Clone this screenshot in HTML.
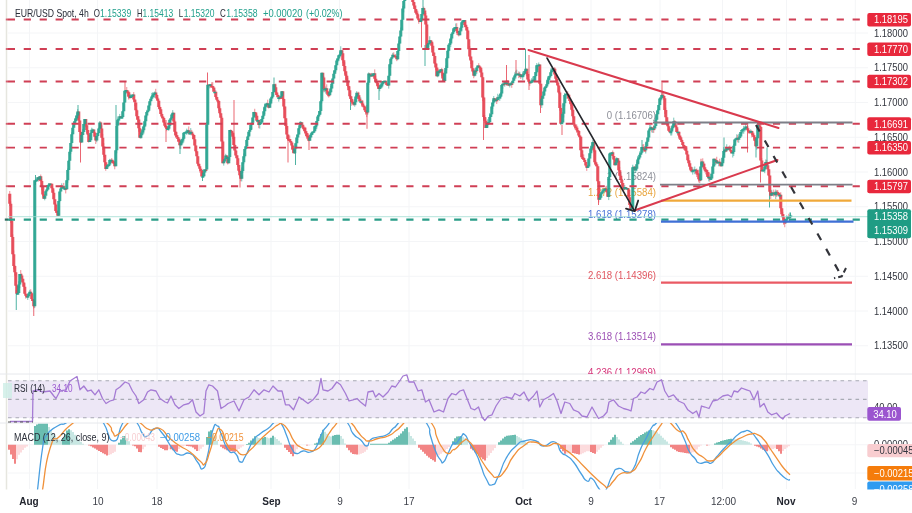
<!DOCTYPE html>
<html lang="en"><head><meta charset="utf-8"><title>EUR/USD Spot 4h</title>
<style>html,body{margin:0;padding:0;background:#fff;overflow:hidden}body{width:912px;height:513px}</style></head>
<body>
<svg width="912" height="513" viewBox="0 0 912 513" style="display:block;filter:blur(0.45px);font-family:'Liberation Sans',Arial,sans-serif">
<defs><clipPath id="cm"><rect x="8" y="423" width="860" height="67"/></clipPath><clipPath id="cp"><rect x="8" y="0" width="860" height="374"/></clipPath><clipPath id="cr"><rect x="8" y="374" width="860" height="49"/></clipPath></defs>
<rect width="912" height="513" fill="#ffffff"/>
<line x1="29.5" y1="0" x2="29.5" y2="489" stroke="#f4f5f7" stroke-width="1"/>
<line x1="97.5" y1="0" x2="97.5" y2="489" stroke="#f4f5f7" stroke-width="1"/>
<line x1="157" y1="0" x2="157" y2="489" stroke="#f4f5f7" stroke-width="1"/>
<line x1="271" y1="0" x2="271" y2="489" stroke="#f4f5f7" stroke-width="1"/>
<line x1="339.5" y1="0" x2="339.5" y2="489" stroke="#f4f5f7" stroke-width="1"/>
<line x1="409" y1="0" x2="409" y2="489" stroke="#f4f5f7" stroke-width="1"/>
<line x1="523" y1="0" x2="523" y2="489" stroke="#f4f5f7" stroke-width="1"/>
<line x1="591" y1="0" x2="591" y2="489" stroke="#f4f5f7" stroke-width="1"/>
<line x1="660" y1="0" x2="660" y2="489" stroke="#f4f5f7" stroke-width="1"/>
<line x1="722.5" y1="0" x2="722.5" y2="489" stroke="#f4f5f7" stroke-width="1"/>
<line x1="786.5" y1="0" x2="786.5" y2="489" stroke="#f4f5f7" stroke-width="1"/>
<line x1="855.3" y1="0" x2="855.3" y2="489" stroke="#f4f5f7" stroke-width="1"/>
<line x1="8" y1="33" x2="868" y2="33" stroke="#f4f5f7" stroke-width="1"/>
<line x1="8" y1="67.75" x2="868" y2="67.75" stroke="#f4f5f7" stroke-width="1"/>
<line x1="8" y1="102.5" x2="868" y2="102.5" stroke="#f4f5f7" stroke-width="1"/>
<line x1="8" y1="137.25" x2="868" y2="137.25" stroke="#f4f5f7" stroke-width="1"/>
<line x1="8" y1="172" x2="868" y2="172" stroke="#f4f5f7" stroke-width="1"/>
<line x1="8" y1="206.75" x2="868" y2="206.75" stroke="#f4f5f7" stroke-width="1"/>
<line x1="8" y1="241.5" x2="868" y2="241.5" stroke="#f4f5f7" stroke-width="1"/>
<line x1="8" y1="276.25" x2="868" y2="276.25" stroke="#f4f5f7" stroke-width="1"/>
<line x1="8" y1="311" x2="868" y2="311" stroke="#f4f5f7" stroke-width="1"/>
<line x1="8" y1="345.75" x2="868" y2="345.75" stroke="#f4f5f7" stroke-width="1"/>
<line x1="8" y1="473" x2="868" y2="473" stroke="#f4f5f7" stroke-width="1"/>
<line x1="8" y1="444.75" x2="868" y2="444.75" stroke="#f4f5f7" stroke-width="1"/>
<line x1="6.5" y1="0" x2="6.5" y2="513" stroke="#e6e6df" stroke-width="1.5"/>
<line x1="0" y1="374" x2="912" y2="374" stroke="#e6e8ec" stroke-width="1"/>
<line x1="0" y1="423" x2="912" y2="423" stroke="#e6e8ec" stroke-width="1"/>
<line x1="0" y1="512.5" x2="912" y2="512.5" stroke="#e0e0e0" stroke-width="1"/>
<rect x="8" y="380.5" width="860" height="37.5" fill="#ede7f6"/>
<line x1="8" y1="380.7" x2="868" y2="380.7" stroke="#a9abb5" stroke-width="1.1" stroke-dasharray="3.6 3.9"/>
<line x1="8" y1="399.4" x2="868" y2="399.4" stroke="#a9abb5" stroke-width="1.1" stroke-dasharray="3.6 3.9"/>
<line x1="8" y1="417.8" x2="868" y2="417.8" stroke="#a9abb5" stroke-width="1.1" stroke-dasharray="3.6 3.9"/>
<rect x="3" y="383" width="9" height="15" fill="#cdeee6" opacity="0.8"/>
<text x="606.8" y="118.8" fill="#8d8f98" font-size="10.3" textLength="49.2" lengthAdjust="spacingAndGlyphs">0 (1.16706)</text>
<text x="606.8" y="179.8" fill="#8d8f98" font-size="10.3" textLength="49.2" lengthAdjust="spacingAndGlyphs">1 (1.15824)</text>
<text x="588.0" y="196.3" fill="#e8a43c" font-size="10.3" textLength="68.0" lengthAdjust="spacingAndGlyphs">1.272 (1.15584)</text>
<text x="588.0" y="217.6" fill="#4a73d8" font-size="10.3" textLength="68.0" lengthAdjust="spacingAndGlyphs">1.618 (1.15278)</text>
<text x="588.0" y="278.6" fill="#e0555f" font-size="10.3" textLength="68.0" lengthAdjust="spacingAndGlyphs">2.618 (1.14396)</text>
<text x="588.0" y="340.3" fill="#9c4fb4" font-size="10.3" textLength="68.0" lengthAdjust="spacingAndGlyphs">3.618 (1.13514)</text>
<g clip-path="url(#cp)">
<text x="588.0" y="376" fill="#d6357a" font-size="10.3" textLength="68.0" lengthAdjust="spacingAndGlyphs">4.236 (1.12969)</text>
</g>
<g clip-path="url(#cp)">
<line x1="9.75" y1="190.97" x2="9.75" y2="206.03" stroke="#e5404f" stroke-width="1" opacity="0.6"/>
<line x1="10.75" y1="201.38" x2="10.75" y2="222.96" stroke="#e5404f" stroke-width="1" opacity="0.6"/>
<line x1="11.75" y1="218.96" x2="11.75" y2="237.02" stroke="#e5404f" stroke-width="1" opacity="0.6"/>
<line x1="12.75" y1="234.33" x2="12.75" y2="254.36" stroke="#e5404f" stroke-width="1" opacity="0.6"/>
<line x1="13.75" y1="250.44" x2="13.75" y2="269.41" stroke="#e5404f" stroke-width="1" opacity="0.6"/>
<line x1="14.75" y1="264.99" x2="14.75" y2="275.72" stroke="#e5404f" stroke-width="1" opacity="0.6"/>
<line x1="15.75" y1="272.37" x2="15.75" y2="285.85" stroke="#e5404f" stroke-width="1" opacity="0.6"/>
<line x1="16.75" y1="285.13" x2="16.75" y2="294.90" stroke="#e5404f" stroke-width="1" opacity="0.6"/>
<line x1="17.75" y1="291.48" x2="17.75" y2="294.68" stroke="#22a08c" stroke-width="1" opacity="0.6"/>
<line x1="18.75" y1="281.24" x2="18.75" y2="293.08" stroke="#22a08c" stroke-width="1" opacity="0.6"/>
<line x1="19.75" y1="274.02" x2="19.75" y2="288.08" stroke="#22a08c" stroke-width="1" opacity="0.6"/>
<line x1="20.75" y1="270.09" x2="20.75" y2="277.58" stroke="#e5404f" stroke-width="1" opacity="0.6"/>
<line x1="21.75" y1="273.36" x2="21.75" y2="281.51" stroke="#e5404f" stroke-width="1" opacity="0.6"/>
<line x1="22.75" y1="278.68" x2="22.75" y2="282.45" stroke="#e5404f" stroke-width="1" opacity="0.6"/>
<line x1="23.75" y1="282.45" x2="23.75" y2="286.83" stroke="#e5404f" stroke-width="1" opacity="0.6"/>
<line x1="24.75" y1="283.39" x2="24.75" y2="293.79" stroke="#e5404f" stroke-width="1" opacity="0.6"/>
<line x1="25.75" y1="293.79" x2="25.75" y2="298.61" stroke="#e5404f" stroke-width="1" opacity="0.6"/>
<line x1="26.75" y1="295.66" x2="26.75" y2="297.28" stroke="#e5404f" stroke-width="1" opacity="0.6"/>
<line x1="27.75" y1="293.38" x2="27.75" y2="299.94" stroke="#22a08c" stroke-width="1" opacity="0.6"/>
<line x1="28.75" y1="293.10" x2="28.75" y2="296.22" stroke="#22a08c" stroke-width="1" opacity="0.6"/>
<line x1="29.75" y1="289.80" x2="29.75" y2="293.80" stroke="#22a08c" stroke-width="1" opacity="0.6"/>
<line x1="30.75" y1="289.24" x2="30.75" y2="293.27" stroke="#e5404f" stroke-width="1" opacity="0.6"/>
<line x1="31.75" y1="293.24" x2="31.75" y2="300.85" stroke="#e5404f" stroke-width="1" opacity="0.6"/>
<line x1="32.75" y1="298.90" x2="32.75" y2="300.99" stroke="#e5404f" stroke-width="1" opacity="0.6"/>
<line x1="33.75" y1="299.68" x2="33.75" y2="308.44" stroke="#e5404f" stroke-width="1" opacity="0.6"/>
<line x1="34.75" y1="179.81" x2="34.75" y2="308.04" stroke="#22a08c" stroke-width="1" opacity="0.6"/>
<line x1="35.75" y1="180.24" x2="35.75" y2="181.84" stroke="#22a08c" stroke-width="1" opacity="0.6"/>
<line x1="36.75" y1="179.59" x2="36.75" y2="181.19" stroke="#22a08c" stroke-width="1" opacity="0.6"/>
<line x1="37.75" y1="177.30" x2="37.75" y2="179.59" stroke="#22a08c" stroke-width="1" opacity="0.6"/>
<line x1="38.75" y1="177.30" x2="38.75" y2="181.53" stroke="#e5404f" stroke-width="1" opacity="0.6"/>
<line x1="39.75" y1="176.23" x2="39.75" y2="180.37" stroke="#22a08c" stroke-width="1" opacity="0.6"/>
<line x1="40.75" y1="174.54" x2="40.75" y2="181.45" stroke="#e5404f" stroke-width="1" opacity="0.6"/>
<line x1="41.75" y1="179.18" x2="41.75" y2="190.30" stroke="#e5404f" stroke-width="1" opacity="0.6"/>
<line x1="42.75" y1="185.36" x2="42.75" y2="196.19" stroke="#e5404f" stroke-width="1" opacity="0.6"/>
<line x1="43.75" y1="194.41" x2="43.75" y2="198.64" stroke="#e5404f" stroke-width="1" opacity="0.6"/>
<line x1="44.75" y1="195.08" x2="44.75" y2="200.34" stroke="#22a08c" stroke-width="1" opacity="0.6"/>
<line x1="45.75" y1="191.15" x2="45.75" y2="196.46" stroke="#22a08c" stroke-width="1" opacity="0.6"/>
<line x1="46.75" y1="188.61" x2="46.75" y2="191.82" stroke="#22a08c" stroke-width="1" opacity="0.6"/>
<line x1="47.75" y1="184.92" x2="47.75" y2="189.62" stroke="#22a08c" stroke-width="1" opacity="0.6"/>
<line x1="48.75" y1="183.03" x2="48.75" y2="189.62" stroke="#22a08c" stroke-width="1" opacity="0.6"/>
<line x1="49.75" y1="183.51" x2="49.75" y2="186.39" stroke="#22a08c" stroke-width="1" opacity="0.6"/>
<line x1="50.75" y1="183.51" x2="50.75" y2="185.11" stroke="#e5404f" stroke-width="1" opacity="0.6"/>
<line x1="51.75" y1="183.80" x2="51.75" y2="188.37" stroke="#e5404f" stroke-width="1" opacity="0.6"/>
<line x1="52.75" y1="186.63" x2="52.75" y2="193.25" stroke="#e5404f" stroke-width="1" opacity="0.6"/>
<line x1="53.75" y1="189.73" x2="53.75" y2="199.21" stroke="#e5404f" stroke-width="1" opacity="0.6"/>
<line x1="54.75" y1="199.21" x2="54.75" y2="204.48" stroke="#e5404f" stroke-width="1" opacity="0.6"/>
<line x1="55.75" y1="203.21" x2="55.75" y2="212.16" stroke="#e5404f" stroke-width="1" opacity="0.6"/>
<line x1="56.75" y1="210.97" x2="56.75" y2="212.94" stroke="#e5404f" stroke-width="1" opacity="0.6"/>
<line x1="57.75" y1="210.15" x2="57.75" y2="215.73" stroke="#e5404f" stroke-width="1" opacity="0.6"/>
<line x1="58.75" y1="201.01" x2="58.75" y2="215.73" stroke="#22a08c" stroke-width="1" opacity="0.6"/>
<line x1="59.75" y1="191.52" x2="59.75" y2="202.13" stroke="#22a08c" stroke-width="1" opacity="0.6"/>
<line x1="60.75" y1="185.24" x2="60.75" y2="191.52" stroke="#22a08c" stroke-width="1" opacity="0.6"/>
<line x1="61.75" y1="183.31" x2="61.75" y2="188.73" stroke="#22a08c" stroke-width="1" opacity="0.6"/>
<line x1="62.75" y1="185.28" x2="62.75" y2="187.91" stroke="#22a08c" stroke-width="1" opacity="0.6"/>
<line x1="63.75" y1="182.92" x2="63.75" y2="188.60" stroke="#e5404f" stroke-width="1" opacity="0.6"/>
<line x1="64.75" y1="185.65" x2="64.75" y2="190.22" stroke="#22a08c" stroke-width="1" opacity="0.6"/>
<line x1="65.75" y1="188.07" x2="65.75" y2="193.43" stroke="#e5404f" stroke-width="1" opacity="0.6"/>
<line x1="66.75" y1="180.23" x2="66.75" y2="189.20" stroke="#22a08c" stroke-width="1" opacity="0.6"/>
<line x1="67.75" y1="168.53" x2="67.75" y2="182.78" stroke="#22a08c" stroke-width="1" opacity="0.6"/>
<line x1="68.75" y1="159.89" x2="68.75" y2="170.05" stroke="#22a08c" stroke-width="1" opacity="0.6"/>
<line x1="69.75" y1="149.28" x2="69.75" y2="160.85" stroke="#22a08c" stroke-width="1" opacity="0.6"/>
<line x1="70.75" y1="142.96" x2="70.75" y2="154.18" stroke="#22a08c" stroke-width="1" opacity="0.6"/>
<line x1="71.75" y1="132.29" x2="71.75" y2="143.48" stroke="#22a08c" stroke-width="1" opacity="0.6"/>
<line x1="72.75" y1="125.62" x2="72.75" y2="134.33" stroke="#22a08c" stroke-width="1" opacity="0.6"/>
<line x1="73.75" y1="121.41" x2="73.75" y2="127.78" stroke="#22a08c" stroke-width="1" opacity="0.6"/>
<line x1="74.75" y1="118.90" x2="74.75" y2="125.20" stroke="#22a08c" stroke-width="1" opacity="0.6"/>
<line x1="75.75" y1="115.67" x2="75.75" y2="121.36" stroke="#22a08c" stroke-width="1" opacity="0.6"/>
<line x1="76.75" y1="112.82" x2="76.75" y2="120.43" stroke="#22a08c" stroke-width="1" opacity="0.6"/>
<line x1="77.75" y1="109.12" x2="77.75" y2="119.26" stroke="#22a08c" stroke-width="1" opacity="0.6"/>
<line x1="78.75" y1="111.49" x2="78.75" y2="120.47" stroke="#e5404f" stroke-width="1" opacity="0.6"/>
<line x1="79.75" y1="120.47" x2="79.75" y2="131.88" stroke="#e5404f" stroke-width="1" opacity="0.6"/>
<line x1="80.75" y1="130.96" x2="80.75" y2="143.16" stroke="#e5404f" stroke-width="1" opacity="0.6"/>
<line x1="81.75" y1="132.13" x2="81.75" y2="142.40" stroke="#22a08c" stroke-width="1" opacity="0.6"/>
<line x1="82.75" y1="129.05" x2="82.75" y2="134.97" stroke="#22a08c" stroke-width="1" opacity="0.6"/>
<line x1="83.75" y1="124.06" x2="83.75" y2="132.05" stroke="#22a08c" stroke-width="1" opacity="0.6"/>
<line x1="84.75" y1="119.06" x2="84.75" y2="126.27" stroke="#22a08c" stroke-width="1" opacity="0.6"/>
<line x1="85.75" y1="119.06" x2="85.75" y2="127.27" stroke="#e5404f" stroke-width="1" opacity="0.6"/>
<line x1="86.75" y1="124.08" x2="86.75" y2="132.92" stroke="#e5404f" stroke-width="1" opacity="0.6"/>
<line x1="87.75" y1="129.89" x2="87.75" y2="135.00" stroke="#e5404f" stroke-width="1" opacity="0.6"/>
<line x1="88.75" y1="134.44" x2="88.75" y2="142.62" stroke="#e5404f" stroke-width="1" opacity="0.6"/>
<line x1="89.75" y1="140.25" x2="89.75" y2="141.89" stroke="#22a08c" stroke-width="1" opacity="0.6"/>
<line x1="90.75" y1="132.44" x2="90.75" y2="140.25" stroke="#22a08c" stroke-width="1" opacity="0.6"/>
<line x1="91.75" y1="127.70" x2="91.75" y2="133.08" stroke="#22a08c" stroke-width="1" opacity="0.6"/>
<line x1="92.75" y1="128.59" x2="92.75" y2="131.21" stroke="#22a08c" stroke-width="1" opacity="0.6"/>
<line x1="93.75" y1="129.61" x2="93.75" y2="133.28" stroke="#e5404f" stroke-width="1" opacity="0.6"/>
<line x1="94.75" y1="131.82" x2="94.75" y2="136.86" stroke="#e5404f" stroke-width="1" opacity="0.6"/>
<line x1="95.75" y1="136.86" x2="95.75" y2="144.02" stroke="#e5404f" stroke-width="1" opacity="0.6"/>
<line x1="96.75" y1="135.97" x2="96.75" y2="142.21" stroke="#22a08c" stroke-width="1" opacity="0.6"/>
<line x1="97.75" y1="133.10" x2="97.75" y2="136.92" stroke="#22a08c" stroke-width="1" opacity="0.6"/>
<line x1="98.75" y1="127.50" x2="98.75" y2="133.77" stroke="#22a08c" stroke-width="1" opacity="0.6"/>
<line x1="99.75" y1="121.02" x2="99.75" y2="128.38" stroke="#22a08c" stroke-width="1" opacity="0.6"/>
<line x1="100.75" y1="121.46" x2="100.75" y2="129.18" stroke="#e5404f" stroke-width="1" opacity="0.6"/>
<line x1="101.75" y1="125.55" x2="101.75" y2="137.64" stroke="#e5404f" stroke-width="1" opacity="0.6"/>
<line x1="102.75" y1="133.87" x2="102.75" y2="149.96" stroke="#e5404f" stroke-width="1" opacity="0.6"/>
<line x1="103.75" y1="143.17" x2="103.75" y2="157.03" stroke="#e5404f" stroke-width="1" opacity="0.6"/>
<line x1="104.75" y1="154.76" x2="104.75" y2="165.76" stroke="#e5404f" stroke-width="1" opacity="0.6"/>
<line x1="105.75" y1="162.34" x2="105.75" y2="170.79" stroke="#e5404f" stroke-width="1" opacity="0.6"/>
<line x1="106.75" y1="165.77" x2="106.75" y2="169.08" stroke="#22a08c" stroke-width="1" opacity="0.6"/>
<line x1="107.75" y1="163.95" x2="107.75" y2="166.52" stroke="#22a08c" stroke-width="1" opacity="0.6"/>
<line x1="108.75" y1="164.46" x2="108.75" y2="167.41" stroke="#22a08c" stroke-width="1" opacity="0.6"/>
<line x1="109.75" y1="158.83" x2="109.75" y2="165.88" stroke="#22a08c" stroke-width="1" opacity="0.6"/>
<line x1="110.75" y1="159.79" x2="110.75" y2="162.74" stroke="#22a08c" stroke-width="1" opacity="0.6"/>
<line x1="111.75" y1="158.04" x2="111.75" y2="163.22" stroke="#e5404f" stroke-width="1" opacity="0.6"/>
<line x1="112.75" y1="159.85" x2="112.75" y2="163.17" stroke="#e5404f" stroke-width="1" opacity="0.6"/>
<line x1="113.75" y1="159.89" x2="113.75" y2="164.10" stroke="#e5404f" stroke-width="1" opacity="0.6"/>
<line x1="114.75" y1="160.98" x2="114.75" y2="169.30" stroke="#e5404f" stroke-width="1" opacity="0.6"/>
<line x1="115.75" y1="150.25" x2="115.75" y2="166.17" stroke="#22a08c" stroke-width="1" opacity="0.6"/>
<line x1="116.75" y1="121.59" x2="116.75" y2="153.29" stroke="#22a08c" stroke-width="1" opacity="0.6"/>
<line x1="117.75" y1="116.41" x2="117.75" y2="125.54" stroke="#22a08c" stroke-width="1" opacity="0.6"/>
<line x1="118.75" y1="118.87" x2="118.75" y2="120.47" stroke="#22a08c" stroke-width="1" opacity="0.6"/>
<line x1="119.75" y1="113.94" x2="119.75" y2="118.87" stroke="#22a08c" stroke-width="1" opacity="0.6"/>
<line x1="120.75" y1="116.20" x2="120.75" y2="117.80" stroke="#e5404f" stroke-width="1" opacity="0.6"/>
<line x1="121.75" y1="117.10" x2="121.75" y2="118.70" stroke="#22a08c" stroke-width="1" opacity="0.6"/>
<line x1="122.75" y1="110.31" x2="122.75" y2="117.96" stroke="#22a08c" stroke-width="1" opacity="0.6"/>
<line x1="123.75" y1="102.46" x2="123.75" y2="111.28" stroke="#22a08c" stroke-width="1" opacity="0.6"/>
<line x1="124.75" y1="90.70" x2="124.75" y2="102.97" stroke="#22a08c" stroke-width="1" opacity="0.6"/>
<line x1="125.75" y1="90.07" x2="125.75" y2="94.04" stroke="#22a08c" stroke-width="1" opacity="0.6"/>
<line x1="126.75" y1="86.99" x2="126.75" y2="92.43" stroke="#e5404f" stroke-width="1" opacity="0.6"/>
<line x1="127.75" y1="91.57" x2="127.75" y2="96.26" stroke="#e5404f" stroke-width="1" opacity="0.6"/>
<line x1="128.75" y1="90.32" x2="128.75" y2="99.61" stroke="#e5404f" stroke-width="1" opacity="0.6"/>
<line x1="129.75" y1="96.71" x2="129.75" y2="98.31" stroke="#e5404f" stroke-width="1" opacity="0.6"/>
<line x1="130.75" y1="93.97" x2="130.75" y2="97.96" stroke="#22a08c" stroke-width="1" opacity="0.6"/>
<line x1="131.75" y1="95.34" x2="131.75" y2="97.65" stroke="#22a08c" stroke-width="1" opacity="0.6"/>
<line x1="132.75" y1="94.38" x2="132.75" y2="95.98" stroke="#22a08c" stroke-width="1" opacity="0.6"/>
<line x1="133.75" y1="92.07" x2="133.75" y2="101.51" stroke="#e5404f" stroke-width="1" opacity="0.6"/>
<line x1="134.75" y1="99.38" x2="134.75" y2="106.30" stroke="#e5404f" stroke-width="1" opacity="0.6"/>
<line x1="135.75" y1="100.27" x2="135.75" y2="110.32" stroke="#e5404f" stroke-width="1" opacity="0.6"/>
<line x1="136.75" y1="108.88" x2="136.75" y2="119.99" stroke="#e5404f" stroke-width="1" opacity="0.6"/>
<line x1="137.75" y1="116.19" x2="137.75" y2="121.79" stroke="#e5404f" stroke-width="1" opacity="0.6"/>
<line x1="138.75" y1="116.09" x2="138.75" y2="131.73" stroke="#e5404f" stroke-width="1" opacity="0.6"/>
<line x1="139.75" y1="124.49" x2="139.75" y2="138.32" stroke="#e5404f" stroke-width="1" opacity="0.6"/>
<line x1="140.75" y1="133.14" x2="140.75" y2="138.72" stroke="#22a08c" stroke-width="1" opacity="0.6"/>
<line x1="141.75" y1="129.00" x2="141.75" y2="138.34" stroke="#22a08c" stroke-width="1" opacity="0.6"/>
<line x1="142.75" y1="126.48" x2="142.75" y2="132.44" stroke="#22a08c" stroke-width="1" opacity="0.6"/>
<line x1="143.75" y1="124.64" x2="143.75" y2="134.22" stroke="#22a08c" stroke-width="1" opacity="0.6"/>
<line x1="144.75" y1="119.32" x2="144.75" y2="127.11" stroke="#22a08c" stroke-width="1" opacity="0.6"/>
<line x1="145.75" y1="115.57" x2="145.75" y2="125.10" stroke="#22a08c" stroke-width="1" opacity="0.6"/>
<line x1="146.75" y1="109.81" x2="146.75" y2="117.37" stroke="#22a08c" stroke-width="1" opacity="0.6"/>
<line x1="147.75" y1="110.64" x2="147.75" y2="112.24" stroke="#22a08c" stroke-width="1" opacity="0.6"/>
<line x1="148.75" y1="105.47" x2="148.75" y2="110.64" stroke="#22a08c" stroke-width="1" opacity="0.6"/>
<line x1="149.75" y1="101.18" x2="149.75" y2="108.53" stroke="#22a08c" stroke-width="1" opacity="0.6"/>
<line x1="150.75" y1="98.70" x2="150.75" y2="101.18" stroke="#22a08c" stroke-width="1" opacity="0.6"/>
<line x1="151.75" y1="92.86" x2="151.75" y2="100.85" stroke="#22a08c" stroke-width="1" opacity="0.6"/>
<line x1="152.75" y1="92.23" x2="152.75" y2="96.91" stroke="#22a08c" stroke-width="1" opacity="0.6"/>
<line x1="153.75" y1="93.51" x2="153.75" y2="97.76" stroke="#22a08c" stroke-width="1" opacity="0.6"/>
<line x1="154.75" y1="91.43" x2="154.75" y2="97.77" stroke="#22a08c" stroke-width="1" opacity="0.6"/>
<line x1="155.75" y1="88.82" x2="155.75" y2="95.11" stroke="#e5404f" stroke-width="1" opacity="0.6"/>
<line x1="156.75" y1="93.94" x2="156.75" y2="100.14" stroke="#e5404f" stroke-width="1" opacity="0.6"/>
<line x1="157.75" y1="97.04" x2="157.75" y2="100.65" stroke="#e5404f" stroke-width="1" opacity="0.6"/>
<line x1="158.75" y1="100.65" x2="158.75" y2="108.97" stroke="#e5404f" stroke-width="1" opacity="0.6"/>
<line x1="159.75" y1="105.34" x2="159.75" y2="110.68" stroke="#e5404f" stroke-width="1" opacity="0.6"/>
<line x1="160.75" y1="106.95" x2="160.75" y2="113.93" stroke="#e5404f" stroke-width="1" opacity="0.6"/>
<line x1="161.75" y1="112.49" x2="161.75" y2="118.46" stroke="#e5404f" stroke-width="1" opacity="0.6"/>
<line x1="162.75" y1="116.56" x2="162.75" y2="118.16" stroke="#e5404f" stroke-width="1" opacity="0.6"/>
<line x1="163.75" y1="117.44" x2="163.75" y2="122.59" stroke="#e5404f" stroke-width="1" opacity="0.6"/>
<line x1="164.75" y1="120.04" x2="164.75" y2="127.54" stroke="#e5404f" stroke-width="1" opacity="0.6"/>
<line x1="165.75" y1="125.67" x2="165.75" y2="127.29" stroke="#e5404f" stroke-width="1" opacity="0.6"/>
<line x1="166.75" y1="126.40" x2="166.75" y2="131.21" stroke="#e5404f" stroke-width="1" opacity="0.6"/>
<line x1="167.75" y1="128.41" x2="167.75" y2="130.01" stroke="#22a08c" stroke-width="1" opacity="0.6"/>
<line x1="168.75" y1="125.70" x2="168.75" y2="130.84" stroke="#22a08c" stroke-width="1" opacity="0.6"/>
<line x1="169.75" y1="119.73" x2="169.75" y2="129.42" stroke="#22a08c" stroke-width="1" opacity="0.6"/>
<line x1="170.75" y1="117.19" x2="170.75" y2="122.46" stroke="#22a08c" stroke-width="1" opacity="0.6"/>
<line x1="171.75" y1="113.80" x2="171.75" y2="120.68" stroke="#22a08c" stroke-width="1" opacity="0.6"/>
<line x1="172.75" y1="110.14" x2="172.75" y2="116.10" stroke="#22a08c" stroke-width="1" opacity="0.6"/>
<line x1="173.75" y1="112.75" x2="173.75" y2="121.61" stroke="#e5404f" stroke-width="1" opacity="0.6"/>
<line x1="174.75" y1="120.29" x2="174.75" y2="135.59" stroke="#e5404f" stroke-width="1" opacity="0.6"/>
<line x1="175.75" y1="131.16" x2="175.75" y2="138.12" stroke="#e5404f" stroke-width="1" opacity="0.6"/>
<line x1="176.75" y1="132.43" x2="176.75" y2="136.94" stroke="#e5404f" stroke-width="1" opacity="0.6"/>
<line x1="177.75" y1="135.25" x2="177.75" y2="141.83" stroke="#e5404f" stroke-width="1" opacity="0.6"/>
<line x1="178.75" y1="138.94" x2="178.75" y2="141.54" stroke="#e5404f" stroke-width="1" opacity="0.6"/>
<line x1="179.75" y1="137.64" x2="179.75" y2="148.71" stroke="#e5404f" stroke-width="1" opacity="0.6"/>
<line x1="180.75" y1="139.47" x2="180.75" y2="149.17" stroke="#22a08c" stroke-width="1" opacity="0.6"/>
<line x1="181.75" y1="139.10" x2="181.75" y2="145.46" stroke="#22a08c" stroke-width="1" opacity="0.6"/>
<line x1="182.75" y1="136.94" x2="182.75" y2="144.32" stroke="#22a08c" stroke-width="1" opacity="0.6"/>
<line x1="183.75" y1="132.00" x2="183.75" y2="142.46" stroke="#22a08c" stroke-width="1" opacity="0.6"/>
<line x1="184.75" y1="132.18" x2="184.75" y2="133.78" stroke="#22a08c" stroke-width="1" opacity="0.6"/>
<line x1="185.75" y1="130.65" x2="185.75" y2="133.40" stroke="#22a08c" stroke-width="1" opacity="0.6"/>
<line x1="186.75" y1="128.64" x2="186.75" y2="134.88" stroke="#22a08c" stroke-width="1" opacity="0.6"/>
<line x1="187.75" y1="129.80" x2="187.75" y2="133.64" stroke="#22a08c" stroke-width="1" opacity="0.6"/>
<line x1="188.75" y1="126.44" x2="188.75" y2="134.64" stroke="#e5404f" stroke-width="1" opacity="0.6"/>
<line x1="189.75" y1="132.74" x2="189.75" y2="135.01" stroke="#22a08c" stroke-width="1" opacity="0.6"/>
<line x1="190.75" y1="128.10" x2="190.75" y2="135.20" stroke="#22a08c" stroke-width="1" opacity="0.6"/>
<line x1="191.75" y1="129.88" x2="191.75" y2="133.68" stroke="#e5404f" stroke-width="1" opacity="0.6"/>
<line x1="192.75" y1="133.06" x2="192.75" y2="139.00" stroke="#e5404f" stroke-width="1" opacity="0.6"/>
<line x1="193.75" y1="134.96" x2="193.75" y2="139.13" stroke="#e5404f" stroke-width="1" opacity="0.6"/>
<line x1="194.75" y1="135.27" x2="194.75" y2="145.42" stroke="#e5404f" stroke-width="1" opacity="0.6"/>
<line x1="195.75" y1="145.42" x2="195.75" y2="152.61" stroke="#e5404f" stroke-width="1" opacity="0.6"/>
<line x1="196.75" y1="151.14" x2="196.75" y2="156.21" stroke="#e5404f" stroke-width="1" opacity="0.6"/>
<line x1="197.75" y1="156.21" x2="197.75" y2="165.05" stroke="#e5404f" stroke-width="1" opacity="0.6"/>
<line x1="198.75" y1="163.73" x2="198.75" y2="166.16" stroke="#e5404f" stroke-width="1" opacity="0.6"/>
<line x1="199.75" y1="164.16" x2="199.75" y2="172.59" stroke="#e5404f" stroke-width="1" opacity="0.6"/>
<line x1="200.75" y1="168.84" x2="200.75" y2="171.11" stroke="#e5404f" stroke-width="1" opacity="0.6"/>
<line x1="201.75" y1="171.11" x2="201.75" y2="176.41" stroke="#e5404f" stroke-width="1" opacity="0.6"/>
<line x1="202.75" y1="174.40" x2="202.75" y2="177.77" stroke="#22a08c" stroke-width="1" opacity="0.6"/>
<line x1="203.75" y1="169.28" x2="203.75" y2="176.89" stroke="#22a08c" stroke-width="1" opacity="0.6"/>
<line x1="204.75" y1="169.39" x2="204.75" y2="176.34" stroke="#22a08c" stroke-width="1" opacity="0.6"/>
<line x1="205.75" y1="169.39" x2="205.75" y2="171.79" stroke="#e5404f" stroke-width="1" opacity="0.6"/>
<line x1="206.75" y1="121.81" x2="206.75" y2="170.91" stroke="#22a08c" stroke-width="1" opacity="0.6"/>
<line x1="207.75" y1="84.70" x2="207.75" y2="124.80" stroke="#22a08c" stroke-width="1" opacity="0.6"/>
<line x1="208.75" y1="84.70" x2="208.75" y2="86.30" stroke="#e5404f" stroke-width="1" opacity="0.6"/>
<line x1="209.75" y1="84.30" x2="209.75" y2="88.39" stroke="#22a08c" stroke-width="1" opacity="0.6"/>
<line x1="210.75" y1="84.30" x2="210.75" y2="87.27" stroke="#e5404f" stroke-width="1" opacity="0.6"/>
<line x1="211.75" y1="82.28" x2="211.75" y2="87.48" stroke="#e5404f" stroke-width="1" opacity="0.6"/>
<line x1="212.75" y1="82.11" x2="212.75" y2="88.99" stroke="#e5404f" stroke-width="1" opacity="0.6"/>
<line x1="213.75" y1="87.50" x2="213.75" y2="91.74" stroke="#e5404f" stroke-width="1" opacity="0.6"/>
<line x1="214.75" y1="88.33" x2="214.75" y2="93.29" stroke="#22a08c" stroke-width="1" opacity="0.6"/>
<line x1="215.75" y1="90.17" x2="215.75" y2="98.28" stroke="#e5404f" stroke-width="1" opacity="0.6"/>
<line x1="216.75" y1="97.12" x2="216.75" y2="99.83" stroke="#e5404f" stroke-width="1" opacity="0.6"/>
<line x1="217.75" y1="99.83" x2="217.75" y2="102.84" stroke="#e5404f" stroke-width="1" opacity="0.6"/>
<line x1="218.75" y1="100.97" x2="218.75" y2="110.73" stroke="#e5404f" stroke-width="1" opacity="0.6"/>
<line x1="219.75" y1="106.35" x2="219.75" y2="114.50" stroke="#e5404f" stroke-width="1" opacity="0.6"/>
<line x1="220.75" y1="113.29" x2="220.75" y2="117.69" stroke="#e5404f" stroke-width="1" opacity="0.6"/>
<line x1="221.75" y1="116.04" x2="221.75" y2="141.43" stroke="#e5404f" stroke-width="1" opacity="0.6"/>
<line x1="222.75" y1="140.22" x2="222.75" y2="163.15" stroke="#e5404f" stroke-width="1" opacity="0.6"/>
<line x1="223.75" y1="160.75" x2="223.75" y2="165.63" stroke="#22a08c" stroke-width="1" opacity="0.6"/>
<line x1="224.75" y1="158.00" x2="224.75" y2="161.60" stroke="#22a08c" stroke-width="1" opacity="0.6"/>
<line x1="225.75" y1="153.81" x2="225.75" y2="159.07" stroke="#22a08c" stroke-width="1" opacity="0.6"/>
<line x1="226.75" y1="155.39" x2="226.75" y2="159.28" stroke="#e5404f" stroke-width="1" opacity="0.6"/>
<line x1="227.75" y1="157.32" x2="227.75" y2="164.50" stroke="#e5404f" stroke-width="1" opacity="0.6"/>
<line x1="228.75" y1="156.55" x2="228.75" y2="163.31" stroke="#22a08c" stroke-width="1" opacity="0.6"/>
<line x1="229.75" y1="129.98" x2="229.75" y2="160.66" stroke="#22a08c" stroke-width="1" opacity="0.6"/>
<line x1="230.75" y1="129.42" x2="230.75" y2="131.58" stroke="#e5404f" stroke-width="1" opacity="0.6"/>
<line x1="231.75" y1="131.11" x2="231.75" y2="135.43" stroke="#e5404f" stroke-width="1" opacity="0.6"/>
<line x1="232.75" y1="131.75" x2="232.75" y2="139.05" stroke="#e5404f" stroke-width="1" opacity="0.6"/>
<line x1="233.75" y1="134.51" x2="233.75" y2="144.97" stroke="#e5404f" stroke-width="1" opacity="0.6"/>
<line x1="234.75" y1="144.03" x2="234.75" y2="150.43" stroke="#e5404f" stroke-width="1" opacity="0.6"/>
<line x1="235.75" y1="149.74" x2="235.75" y2="155.46" stroke="#e5404f" stroke-width="1" opacity="0.6"/>
<line x1="236.75" y1="155.46" x2="236.75" y2="158.35" stroke="#e5404f" stroke-width="1" opacity="0.6"/>
<line x1="237.75" y1="155.10" x2="237.75" y2="166.83" stroke="#e5404f" stroke-width="1" opacity="0.6"/>
<line x1="238.75" y1="164.92" x2="238.75" y2="172.01" stroke="#e5404f" stroke-width="1" opacity="0.6"/>
<line x1="239.75" y1="168.90" x2="239.75" y2="176.50" stroke="#e5404f" stroke-width="1" opacity="0.6"/>
<line x1="240.75" y1="175.14" x2="240.75" y2="181.28" stroke="#e5404f" stroke-width="1" opacity="0.6"/>
<line x1="241.75" y1="167.49" x2="241.75" y2="181.41" stroke="#22a08c" stroke-width="1" opacity="0.6"/>
<line x1="242.75" y1="162.18" x2="242.75" y2="172.90" stroke="#22a08c" stroke-width="1" opacity="0.6"/>
<line x1="243.75" y1="153.49" x2="243.75" y2="164.21" stroke="#22a08c" stroke-width="1" opacity="0.6"/>
<line x1="244.75" y1="148.95" x2="244.75" y2="157.62" stroke="#22a08c" stroke-width="1" opacity="0.6"/>
<line x1="245.75" y1="146.28" x2="245.75" y2="150.08" stroke="#22a08c" stroke-width="1" opacity="0.6"/>
<line x1="246.75" y1="138.95" x2="246.75" y2="147.10" stroke="#22a08c" stroke-width="1" opacity="0.6"/>
<line x1="247.75" y1="135.82" x2="247.75" y2="139.90" stroke="#22a08c" stroke-width="1" opacity="0.6"/>
<line x1="248.75" y1="131.83" x2="248.75" y2="136.46" stroke="#22a08c" stroke-width="1" opacity="0.6"/>
<line x1="249.75" y1="127.78" x2="249.75" y2="135.66" stroke="#22a08c" stroke-width="1" opacity="0.6"/>
<line x1="250.75" y1="125.08" x2="250.75" y2="130.04" stroke="#22a08c" stroke-width="1" opacity="0.6"/>
<line x1="251.75" y1="122.80" x2="251.75" y2="129.02" stroke="#22a08c" stroke-width="1" opacity="0.6"/>
<line x1="252.75" y1="117.51" x2="252.75" y2="122.80" stroke="#22a08c" stroke-width="1" opacity="0.6"/>
<line x1="253.75" y1="111.90" x2="253.75" y2="117.51" stroke="#22a08c" stroke-width="1" opacity="0.6"/>
<line x1="254.75" y1="108.75" x2="254.75" y2="117.14" stroke="#e5404f" stroke-width="1" opacity="0.6"/>
<line x1="255.75" y1="112.39" x2="255.75" y2="118.00" stroke="#e5404f" stroke-width="1" opacity="0.6"/>
<line x1="256.75" y1="114.32" x2="256.75" y2="122.28" stroke="#e5404f" stroke-width="1" opacity="0.6"/>
<line x1="257.75" y1="119.02" x2="257.75" y2="121.68" stroke="#22a08c" stroke-width="1" opacity="0.6"/>
<line x1="258.75" y1="120.08" x2="258.75" y2="128.24" stroke="#e5404f" stroke-width="1" opacity="0.6"/>
<line x1="259.75" y1="119.64" x2="259.75" y2="128.55" stroke="#22a08c" stroke-width="1" opacity="0.6"/>
<line x1="260.75" y1="122.28" x2="260.75" y2="123.88" stroke="#22a08c" stroke-width="1" opacity="0.6"/>
<line x1="261.75" y1="118.99" x2="261.75" y2="122.28" stroke="#22a08c" stroke-width="1" opacity="0.6"/>
<line x1="262.75" y1="115.76" x2="262.75" y2="122.96" stroke="#22a08c" stroke-width="1" opacity="0.6"/>
<line x1="263.75" y1="108.10" x2="263.75" y2="116.88" stroke="#22a08c" stroke-width="1" opacity="0.6"/>
<line x1="264.75" y1="103.36" x2="264.75" y2="114.02" stroke="#22a08c" stroke-width="1" opacity="0.6"/>
<line x1="265.75" y1="104.14" x2="265.75" y2="106.73" stroke="#22a08c" stroke-width="1" opacity="0.6"/>
<line x1="266.75" y1="102.67" x2="266.75" y2="107.55" stroke="#22a08c" stroke-width="1" opacity="0.6"/>
<line x1="267.75" y1="99.66" x2="267.75" y2="106.59" stroke="#e5404f" stroke-width="1" opacity="0.6"/>
<line x1="268.75" y1="104.78" x2="268.75" y2="108.53" stroke="#e5404f" stroke-width="1" opacity="0.6"/>
<line x1="269.75" y1="101.07" x2="269.75" y2="107.66" stroke="#22a08c" stroke-width="1" opacity="0.6"/>
<line x1="270.75" y1="98.56" x2="270.75" y2="104.58" stroke="#22a08c" stroke-width="1" opacity="0.6"/>
<line x1="271.75" y1="95.67" x2="271.75" y2="101.29" stroke="#22a08c" stroke-width="1" opacity="0.6"/>
<line x1="272.75" y1="91.96" x2="272.75" y2="98.12" stroke="#22a08c" stroke-width="1" opacity="0.6"/>
<line x1="273.75" y1="84.37" x2="273.75" y2="91.96" stroke="#22a08c" stroke-width="1" opacity="0.6"/>
<line x1="274.75" y1="84.37" x2="274.75" y2="91.05" stroke="#e5404f" stroke-width="1" opacity="0.6"/>
<line x1="275.75" y1="83.61" x2="275.75" y2="94.76" stroke="#e5404f" stroke-width="1" opacity="0.6"/>
<line x1="276.75" y1="91.70" x2="276.75" y2="94.97" stroke="#e5404f" stroke-width="1" opacity="0.6"/>
<line x1="277.75" y1="94.97" x2="277.75" y2="97.31" stroke="#e5404f" stroke-width="1" opacity="0.6"/>
<line x1="278.75" y1="94.68" x2="278.75" y2="101.65" stroke="#22a08c" stroke-width="1" opacity="0.6"/>
<line x1="279.75" y1="95.72" x2="279.75" y2="99.58" stroke="#e5404f" stroke-width="1" opacity="0.6"/>
<line x1="280.75" y1="96.25" x2="280.75" y2="97.85" stroke="#22a08c" stroke-width="1" opacity="0.6"/>
<line x1="281.75" y1="91.19" x2="281.75" y2="96.25" stroke="#22a08c" stroke-width="1" opacity="0.6"/>
<line x1="282.75" y1="91.19" x2="282.75" y2="100.23" stroke="#e5404f" stroke-width="1" opacity="0.6"/>
<line x1="283.75" y1="98.30" x2="283.75" y2="109.52" stroke="#e5404f" stroke-width="1" opacity="0.6"/>
<line x1="284.75" y1="106.39" x2="284.75" y2="118.20" stroke="#e5404f" stroke-width="1" opacity="0.6"/>
<line x1="285.75" y1="118.20" x2="285.75" y2="129.29" stroke="#e5404f" stroke-width="1" opacity="0.6"/>
<line x1="286.75" y1="123.29" x2="286.75" y2="134.46" stroke="#e5404f" stroke-width="1" opacity="0.6"/>
<line x1="287.75" y1="134.46" x2="287.75" y2="140.39" stroke="#e5404f" stroke-width="1" opacity="0.6"/>
<line x1="288.75" y1="138.98" x2="288.75" y2="140.58" stroke="#e5404f" stroke-width="1" opacity="0.6"/>
<line x1="289.75" y1="135.47" x2="289.75" y2="142.22" stroke="#e5404f" stroke-width="1" opacity="0.6"/>
<line x1="290.75" y1="140.89" x2="290.75" y2="142.49" stroke="#e5404f" stroke-width="1" opacity="0.6"/>
<line x1="291.75" y1="142.47" x2="291.75" y2="149.03" stroke="#e5404f" stroke-width="1" opacity="0.6"/>
<line x1="292.75" y1="145.59" x2="292.75" y2="152.75" stroke="#e5404f" stroke-width="1" opacity="0.6"/>
<line x1="293.75" y1="148.47" x2="293.75" y2="153.25" stroke="#e5404f" stroke-width="1" opacity="0.6"/>
<line x1="294.75" y1="148.45" x2="294.75" y2="153.85" stroke="#22a08c" stroke-width="1" opacity="0.6"/>
<line x1="295.75" y1="143.18" x2="295.75" y2="149.45" stroke="#22a08c" stroke-width="1" opacity="0.6"/>
<line x1="296.75" y1="134.60" x2="296.75" y2="143.18" stroke="#22a08c" stroke-width="1" opacity="0.6"/>
<line x1="297.75" y1="134.55" x2="297.75" y2="140.09" stroke="#22a08c" stroke-width="1" opacity="0.6"/>
<line x1="298.75" y1="128.26" x2="298.75" y2="134.55" stroke="#22a08c" stroke-width="1" opacity="0.6"/>
<line x1="299.75" y1="121.62" x2="299.75" y2="128.26" stroke="#22a08c" stroke-width="1" opacity="0.6"/>
<line x1="300.75" y1="121.09" x2="300.75" y2="125.78" stroke="#22a08c" stroke-width="1" opacity="0.6"/>
<line x1="301.75" y1="122.31" x2="301.75" y2="124.82" stroke="#e5404f" stroke-width="1" opacity="0.6"/>
<line x1="302.75" y1="124.82" x2="302.75" y2="128.45" stroke="#e5404f" stroke-width="1" opacity="0.6"/>
<line x1="303.75" y1="127.60" x2="303.75" y2="130.82" stroke="#e5404f" stroke-width="1" opacity="0.6"/>
<line x1="304.75" y1="126.44" x2="304.75" y2="134.23" stroke="#e5404f" stroke-width="1" opacity="0.6"/>
<line x1="305.75" y1="127.35" x2="305.75" y2="136.50" stroke="#e5404f" stroke-width="1" opacity="0.6"/>
<line x1="306.75" y1="131.08" x2="306.75" y2="139.13" stroke="#e5404f" stroke-width="1" opacity="0.6"/>
<line x1="307.75" y1="135.93" x2="307.75" y2="138.78" stroke="#e5404f" stroke-width="1" opacity="0.6"/>
<line x1="308.75" y1="133.58" x2="308.75" y2="141.31" stroke="#e5404f" stroke-width="1" opacity="0.6"/>
<line x1="309.75" y1="137.43" x2="309.75" y2="140.80" stroke="#22a08c" stroke-width="1" opacity="0.6"/>
<line x1="310.75" y1="132.50" x2="310.75" y2="137.43" stroke="#22a08c" stroke-width="1" opacity="0.6"/>
<line x1="311.75" y1="131.65" x2="311.75" y2="134.96" stroke="#22a08c" stroke-width="1" opacity="0.6"/>
<line x1="312.75" y1="131.64" x2="312.75" y2="134.62" stroke="#22a08c" stroke-width="1" opacity="0.6"/>
<line x1="313.75" y1="130.33" x2="313.75" y2="132.82" stroke="#22a08c" stroke-width="1" opacity="0.6"/>
<line x1="314.75" y1="126.15" x2="314.75" y2="131.22" stroke="#22a08c" stroke-width="1" opacity="0.6"/>
<line x1="315.75" y1="125.56" x2="315.75" y2="129.07" stroke="#22a08c" stroke-width="1" opacity="0.6"/>
<line x1="316.75" y1="121.03" x2="316.75" y2="129.17" stroke="#22a08c" stroke-width="1" opacity="0.6"/>
<line x1="317.75" y1="115.15" x2="317.75" y2="121.03" stroke="#22a08c" stroke-width="1" opacity="0.6"/>
<line x1="318.75" y1="111.06" x2="318.75" y2="118.69" stroke="#22a08c" stroke-width="1" opacity="0.6"/>
<line x1="319.75" y1="110.96" x2="319.75" y2="114.65" stroke="#22a08c" stroke-width="1" opacity="0.6"/>
<line x1="320.75" y1="99.72" x2="320.75" y2="114.41" stroke="#22a08c" stroke-width="1" opacity="0.6"/>
<line x1="321.75" y1="72.75" x2="321.75" y2="103.40" stroke="#22a08c" stroke-width="1" opacity="0.6"/>
<line x1="322.75" y1="72.75" x2="322.75" y2="79.60" stroke="#e5404f" stroke-width="1" opacity="0.6"/>
<line x1="323.75" y1="76.31" x2="323.75" y2="92.29" stroke="#e5404f" stroke-width="1" opacity="0.6"/>
<line x1="324.75" y1="87.88" x2="324.75" y2="92.17" stroke="#22a08c" stroke-width="1" opacity="0.6"/>
<line x1="325.75" y1="86.54" x2="325.75" y2="93.70" stroke="#22a08c" stroke-width="1" opacity="0.6"/>
<line x1="326.75" y1="84.32" x2="326.75" y2="93.20" stroke="#e5404f" stroke-width="1" opacity="0.6"/>
<line x1="327.75" y1="91.36" x2="327.75" y2="94.71" stroke="#e5404f" stroke-width="1" opacity="0.6"/>
<line x1="328.75" y1="91.97" x2="328.75" y2="97.53" stroke="#e5404f" stroke-width="1" opacity="0.6"/>
<line x1="329.75" y1="90.23" x2="329.75" y2="95.16" stroke="#22a08c" stroke-width="1" opacity="0.6"/>
<line x1="330.75" y1="85.89" x2="330.75" y2="93.13" stroke="#22a08c" stroke-width="1" opacity="0.6"/>
<line x1="331.75" y1="80.56" x2="331.75" y2="88.60" stroke="#22a08c" stroke-width="1" opacity="0.6"/>
<line x1="332.75" y1="78.40" x2="332.75" y2="83.65" stroke="#22a08c" stroke-width="1" opacity="0.6"/>
<line x1="333.75" y1="70.69" x2="333.75" y2="78.40" stroke="#22a08c" stroke-width="1" opacity="0.6"/>
<line x1="334.75" y1="70.32" x2="334.75" y2="73.72" stroke="#22a08c" stroke-width="1" opacity="0.6"/>
<line x1="335.75" y1="65.31" x2="335.75" y2="71.92" stroke="#22a08c" stroke-width="1" opacity="0.6"/>
<line x1="336.75" y1="58.49" x2="336.75" y2="65.31" stroke="#22a08c" stroke-width="1" opacity="0.6"/>
<line x1="337.75" y1="58.41" x2="337.75" y2="62.44" stroke="#22a08c" stroke-width="1" opacity="0.6"/>
<line x1="338.75" y1="55.13" x2="338.75" y2="61.28" stroke="#22a08c" stroke-width="1" opacity="0.6"/>
<line x1="339.75" y1="51.70" x2="339.75" y2="56.09" stroke="#22a08c" stroke-width="1" opacity="0.6"/>
<line x1="340.75" y1="46.28" x2="340.75" y2="56.89" stroke="#22a08c" stroke-width="1" opacity="0.6"/>
<line x1="341.75" y1="50.19" x2="341.75" y2="53.15" stroke="#e5404f" stroke-width="1" opacity="0.6"/>
<line x1="342.75" y1="50.64" x2="342.75" y2="63.29" stroke="#e5404f" stroke-width="1" opacity="0.6"/>
<line x1="343.75" y1="60.28" x2="343.75" y2="66.09" stroke="#e5404f" stroke-width="1" opacity="0.6"/>
<line x1="344.75" y1="62.27" x2="344.75" y2="74.22" stroke="#e5404f" stroke-width="1" opacity="0.6"/>
<line x1="345.75" y1="71.33" x2="345.75" y2="79.81" stroke="#e5404f" stroke-width="1" opacity="0.6"/>
<line x1="346.75" y1="74.40" x2="346.75" y2="81.28" stroke="#e5404f" stroke-width="1" opacity="0.6"/>
<line x1="347.75" y1="77.79" x2="347.75" y2="87.38" stroke="#e5404f" stroke-width="1" opacity="0.6"/>
<line x1="348.75" y1="85.96" x2="348.75" y2="90.26" stroke="#e5404f" stroke-width="1" opacity="0.6"/>
<line x1="349.75" y1="86.95" x2="349.75" y2="97.59" stroke="#e5404f" stroke-width="1" opacity="0.6"/>
<line x1="350.75" y1="96.35" x2="350.75" y2="98.95" stroke="#e5404f" stroke-width="1" opacity="0.6"/>
<line x1="351.75" y1="96.48" x2="351.75" y2="105.79" stroke="#e5404f" stroke-width="1" opacity="0.6"/>
<line x1="352.75" y1="101.91" x2="352.75" y2="103.51" stroke="#e5404f" stroke-width="1" opacity="0.6"/>
<line x1="353.75" y1="100.51" x2="353.75" y2="105.79" stroke="#e5404f" stroke-width="1" opacity="0.6"/>
<line x1="354.75" y1="98.85" x2="354.75" y2="106.67" stroke="#22a08c" stroke-width="1" opacity="0.6"/>
<line x1="355.75" y1="95.25" x2="355.75" y2="105.35" stroke="#22a08c" stroke-width="1" opacity="0.6"/>
<line x1="356.75" y1="91.11" x2="356.75" y2="98.40" stroke="#22a08c" stroke-width="1" opacity="0.6"/>
<line x1="357.75" y1="92.67" x2="357.75" y2="98.89" stroke="#e5404f" stroke-width="1" opacity="0.6"/>
<line x1="358.75" y1="91.74" x2="358.75" y2="98.78" stroke="#e5404f" stroke-width="1" opacity="0.6"/>
<line x1="359.75" y1="95.37" x2="359.75" y2="101.38" stroke="#e5404f" stroke-width="1" opacity="0.6"/>
<line x1="360.75" y1="97.32" x2="360.75" y2="102.75" stroke="#22a08c" stroke-width="1" opacity="0.6"/>
<line x1="361.75" y1="100.15" x2="361.75" y2="106.82" stroke="#e5404f" stroke-width="1" opacity="0.6"/>
<line x1="362.75" y1="99.94" x2="362.75" y2="105.55" stroke="#e5404f" stroke-width="1" opacity="0.6"/>
<line x1="363.75" y1="105.55" x2="363.75" y2="107.15" stroke="#e5404f" stroke-width="1" opacity="0.6"/>
<line x1="364.75" y1="106.50" x2="364.75" y2="110.31" stroke="#e5404f" stroke-width="1" opacity="0.6"/>
<line x1="365.75" y1="110.31" x2="365.75" y2="114.86" stroke="#e5404f" stroke-width="1" opacity="0.6"/>
<line x1="366.75" y1="111.94" x2="366.75" y2="117.13" stroke="#e5404f" stroke-width="1" opacity="0.6"/>
<line x1="367.75" y1="81.38" x2="367.75" y2="114.84" stroke="#22a08c" stroke-width="1" opacity="0.6"/>
<line x1="368.75" y1="72.40" x2="368.75" y2="84.94" stroke="#22a08c" stroke-width="1" opacity="0.6"/>
<line x1="369.75" y1="73.41" x2="369.75" y2="78.59" stroke="#e5404f" stroke-width="1" opacity="0.6"/>
<line x1="370.75" y1="74.88" x2="370.75" y2="76.48" stroke="#22a08c" stroke-width="1" opacity="0.6"/>
<line x1="371.75" y1="72.92" x2="371.75" y2="76.48" stroke="#e5404f" stroke-width="1" opacity="0.6"/>
<line x1="372.75" y1="73.47" x2="372.75" y2="76.23" stroke="#22a08c" stroke-width="1" opacity="0.6"/>
<line x1="373.75" y1="73.30" x2="373.75" y2="74.90" stroke="#22a08c" stroke-width="1" opacity="0.6"/>
<line x1="374.75" y1="69.37" x2="374.75" y2="81.00" stroke="#e5404f" stroke-width="1" opacity="0.6"/>
<line x1="375.75" y1="75.79" x2="375.75" y2="81.68" stroke="#e5404f" stroke-width="1" opacity="0.6"/>
<line x1="376.75" y1="81.68" x2="376.75" y2="85.44" stroke="#e5404f" stroke-width="1" opacity="0.6"/>
<line x1="377.75" y1="82.67" x2="377.75" y2="88.37" stroke="#e5404f" stroke-width="1" opacity="0.6"/>
<line x1="378.75" y1="86.34" x2="378.75" y2="88.97" stroke="#e5404f" stroke-width="1" opacity="0.6"/>
<line x1="379.75" y1="87.38" x2="379.75" y2="91.24" stroke="#22a08c" stroke-width="1" opacity="0.6"/>
<line x1="380.75" y1="80.89" x2="380.75" y2="87.38" stroke="#22a08c" stroke-width="1" opacity="0.6"/>
<line x1="381.75" y1="82.57" x2="381.75" y2="88.33" stroke="#22a08c" stroke-width="1" opacity="0.6"/>
<line x1="382.75" y1="81.11" x2="382.75" y2="87.21" stroke="#22a08c" stroke-width="1" opacity="0.6"/>
<line x1="383.75" y1="80.44" x2="383.75" y2="83.23" stroke="#e5404f" stroke-width="1" opacity="0.6"/>
<line x1="384.75" y1="80.63" x2="384.75" y2="82.23" stroke="#22a08c" stroke-width="1" opacity="0.6"/>
<line x1="385.75" y1="80.63" x2="385.75" y2="83.32" stroke="#e5404f" stroke-width="1" opacity="0.6"/>
<line x1="386.75" y1="83.32" x2="386.75" y2="84.92" stroke="#e5404f" stroke-width="1" opacity="0.6"/>
<line x1="387.75" y1="84.15" x2="387.75" y2="85.75" stroke="#e5404f" stroke-width="1" opacity="0.6"/>
<line x1="388.75" y1="75.72" x2="388.75" y2="88.63" stroke="#22a08c" stroke-width="1" opacity="0.6"/>
<line x1="389.75" y1="63.69" x2="389.75" y2="75.72" stroke="#22a08c" stroke-width="1" opacity="0.6"/>
<line x1="390.75" y1="58.72" x2="390.75" y2="67.69" stroke="#22a08c" stroke-width="1" opacity="0.6"/>
<line x1="391.75" y1="57.19" x2="391.75" y2="60.35" stroke="#22a08c" stroke-width="1" opacity="0.6"/>
<line x1="392.75" y1="52.80" x2="392.75" y2="57.19" stroke="#22a08c" stroke-width="1" opacity="0.6"/>
<line x1="393.75" y1="52.32" x2="393.75" y2="57.32" stroke="#e5404f" stroke-width="1" opacity="0.6"/>
<line x1="394.75" y1="55.58" x2="394.75" y2="57.18" stroke="#e5404f" stroke-width="1" opacity="0.6"/>
<line x1="395.75" y1="54.07" x2="395.75" y2="57.53" stroke="#e5404f" stroke-width="1" opacity="0.6"/>
<line x1="396.75" y1="56.04" x2="396.75" y2="61.17" stroke="#e5404f" stroke-width="1" opacity="0.6"/>
<line x1="397.75" y1="51.10" x2="397.75" y2="60.25" stroke="#22a08c" stroke-width="1" opacity="0.6"/>
<line x1="398.75" y1="40.61" x2="398.75" y2="54.99" stroke="#22a08c" stroke-width="1" opacity="0.6"/>
<line x1="399.75" y1="36.48" x2="399.75" y2="44.07" stroke="#22a08c" stroke-width="1" opacity="0.6"/>
<line x1="400.75" y1="27.47" x2="400.75" y2="37.16" stroke="#22a08c" stroke-width="1" opacity="0.6"/>
<line x1="401.75" y1="19.74" x2="401.75" y2="30.54" stroke="#22a08c" stroke-width="1" opacity="0.6"/>
<line x1="402.75" y1="5.88" x2="402.75" y2="19.74" stroke="#22a08c" stroke-width="1" opacity="0.6"/>
<line x1="403.75" y1="1.11" x2="403.75" y2="12.45" stroke="#22a08c" stroke-width="1" opacity="0.6"/>
<line x1="404.75" y1="-3.52" x2="404.75" y2="1.11" stroke="#22a08c" stroke-width="1" opacity="0.6"/>
<line x1="405.75" y1="-5.90" x2="405.75" y2="-2.71" stroke="#22a08c" stroke-width="1" opacity="0.6"/>
<line x1="406.75" y1="-7.25" x2="406.75" y2="-3.60" stroke="#22a08c" stroke-width="1" opacity="0.6"/>
<line x1="407.75" y1="-7.25" x2="407.75" y2="-2.78" stroke="#e5404f" stroke-width="1" opacity="0.6"/>
<line x1="408.75" y1="-8.53" x2="408.75" y2="-4.17" stroke="#22a08c" stroke-width="1" opacity="0.6"/>
<line x1="409.75" y1="-10.38" x2="409.75" y2="-6.93" stroke="#e5404f" stroke-width="1" opacity="0.6"/>
<line x1="410.75" y1="-7.38" x2="410.75" y2="-3.96" stroke="#e5404f" stroke-width="1" opacity="0.6"/>
<line x1="411.75" y1="-7.87" x2="411.75" y2="-2.36" stroke="#e5404f" stroke-width="1" opacity="0.6"/>
<line x1="412.75" y1="-5.68" x2="412.75" y2="2.12" stroke="#e5404f" stroke-width="1" opacity="0.6"/>
<line x1="413.75" y1="2.12" x2="413.75" y2="7.38" stroke="#e5404f" stroke-width="1" opacity="0.6"/>
<line x1="414.75" y1="2.48" x2="414.75" y2="9.12" stroke="#e5404f" stroke-width="1" opacity="0.6"/>
<line x1="415.75" y1="9.12" x2="415.75" y2="13.30" stroke="#e5404f" stroke-width="1" opacity="0.6"/>
<line x1="416.75" y1="10.24" x2="416.75" y2="14.39" stroke="#e5404f" stroke-width="1" opacity="0.6"/>
<line x1="417.75" y1="10.73" x2="417.75" y2="18.39" stroke="#e5404f" stroke-width="1" opacity="0.6"/>
<line x1="418.75" y1="18.39" x2="418.75" y2="23.80" stroke="#e5404f" stroke-width="1" opacity="0.6"/>
<line x1="419.75" y1="20.32" x2="419.75" y2="22.11" stroke="#e5404f" stroke-width="1" opacity="0.6"/>
<line x1="420.75" y1="18.01" x2="420.75" y2="22.11" stroke="#22a08c" stroke-width="1" opacity="0.6"/>
<line x1="421.75" y1="13.92" x2="421.75" y2="20.45" stroke="#22a08c" stroke-width="1" opacity="0.6"/>
<line x1="422.75" y1="8.04" x2="422.75" y2="13.92" stroke="#22a08c" stroke-width="1" opacity="0.6"/>
<line x1="423.75" y1="6.65" x2="423.75" y2="10.38" stroke="#e5404f" stroke-width="1" opacity="0.6"/>
<line x1="424.75" y1="9.57" x2="424.75" y2="15.55" stroke="#e5404f" stroke-width="1" opacity="0.6"/>
<line x1="425.75" y1="13.02" x2="425.75" y2="24.48" stroke="#e5404f" stroke-width="1" opacity="0.6"/>
<line x1="426.75" y1="22.31" x2="426.75" y2="48.89" stroke="#e5404f" stroke-width="1" opacity="0.6"/>
<line x1="427.75" y1="43.25" x2="427.75" y2="48.89" stroke="#22a08c" stroke-width="1" opacity="0.6"/>
<line x1="428.75" y1="43.01" x2="428.75" y2="46.92" stroke="#22a08c" stroke-width="1" opacity="0.6"/>
<line x1="429.75" y1="36.25" x2="429.75" y2="43.88" stroke="#22a08c" stroke-width="1" opacity="0.6"/>
<line x1="430.75" y1="40.24" x2="430.75" y2="44.43" stroke="#e5404f" stroke-width="1" opacity="0.6"/>
<line x1="431.75" y1="41.16" x2="431.75" y2="49.66" stroke="#e5404f" stroke-width="1" opacity="0.6"/>
<line x1="432.75" y1="43.21" x2="432.75" y2="55.80" stroke="#e5404f" stroke-width="1" opacity="0.6"/>
<line x1="433.75" y1="52.57" x2="433.75" y2="55.98" stroke="#e5404f" stroke-width="1" opacity="0.6"/>
<line x1="434.75" y1="55.98" x2="434.75" y2="64.05" stroke="#e5404f" stroke-width="1" opacity="0.6"/>
<line x1="435.75" y1="62.63" x2="435.75" y2="70.01" stroke="#e5404f" stroke-width="1" opacity="0.6"/>
<line x1="436.75" y1="63.74" x2="436.75" y2="76.33" stroke="#e5404f" stroke-width="1" opacity="0.6"/>
<line x1="437.75" y1="71.28" x2="437.75" y2="77.25" stroke="#22a08c" stroke-width="1" opacity="0.6"/>
<line x1="438.75" y1="68.80" x2="438.75" y2="72.88" stroke="#e5404f" stroke-width="1" opacity="0.6"/>
<line x1="439.75" y1="70.18" x2="439.75" y2="74.41" stroke="#22a08c" stroke-width="1" opacity="0.6"/>
<line x1="440.75" y1="69.21" x2="440.75" y2="70.81" stroke="#22a08c" stroke-width="1" opacity="0.6"/>
<line x1="441.75" y1="67.82" x2="441.75" y2="76.35" stroke="#e5404f" stroke-width="1" opacity="0.6"/>
<line x1="442.75" y1="72.69" x2="442.75" y2="81.65" stroke="#e5404f" stroke-width="1" opacity="0.6"/>
<line x1="443.75" y1="78.39" x2="443.75" y2="80.94" stroke="#e5404f" stroke-width="1" opacity="0.6"/>
<line x1="444.75" y1="70.45" x2="444.75" y2="80.94" stroke="#22a08c" stroke-width="1" opacity="0.6"/>
<line x1="445.75" y1="65.50" x2="445.75" y2="73.59" stroke="#22a08c" stroke-width="1" opacity="0.6"/>
<line x1="446.75" y1="56.87" x2="446.75" y2="70.26" stroke="#22a08c" stroke-width="1" opacity="0.6"/>
<line x1="447.75" y1="49.74" x2="447.75" y2="58.27" stroke="#22a08c" stroke-width="1" opacity="0.6"/>
<line x1="448.75" y1="44.75" x2="448.75" y2="51.37" stroke="#22a08c" stroke-width="1" opacity="0.6"/>
<line x1="449.75" y1="39.60" x2="449.75" y2="44.97" stroke="#22a08c" stroke-width="1" opacity="0.6"/>
<line x1="450.75" y1="36.50" x2="450.75" y2="47.12" stroke="#22a08c" stroke-width="1" opacity="0.6"/>
<line x1="451.75" y1="33.73" x2="451.75" y2="40.26" stroke="#22a08c" stroke-width="1" opacity="0.6"/>
<line x1="452.75" y1="29.63" x2="452.75" y2="35.21" stroke="#22a08c" stroke-width="1" opacity="0.6"/>
<line x1="453.75" y1="28.24" x2="453.75" y2="32.33" stroke="#22a08c" stroke-width="1" opacity="0.6"/>
<line x1="454.75" y1="27.22" x2="454.75" y2="30.76" stroke="#22a08c" stroke-width="1" opacity="0.6"/>
<line x1="455.75" y1="23.45" x2="455.75" y2="29.57" stroke="#22a08c" stroke-width="1" opacity="0.6"/>
<line x1="456.75" y1="23.22" x2="456.75" y2="34.83" stroke="#e5404f" stroke-width="1" opacity="0.6"/>
<line x1="457.75" y1="30.91" x2="457.75" y2="33.09" stroke="#e5404f" stroke-width="1" opacity="0.6"/>
<line x1="458.75" y1="31.59" x2="458.75" y2="36.42" stroke="#e5404f" stroke-width="1" opacity="0.6"/>
<line x1="459.75" y1="30.76" x2="459.75" y2="35.21" stroke="#22a08c" stroke-width="1" opacity="0.6"/>
<line x1="460.75" y1="26.27" x2="460.75" y2="30.76" stroke="#22a08c" stroke-width="1" opacity="0.6"/>
<line x1="461.75" y1="22.21" x2="461.75" y2="31.71" stroke="#22a08c" stroke-width="1" opacity="0.6"/>
<line x1="462.75" y1="20.46" x2="462.75" y2="23.20" stroke="#22a08c" stroke-width="1" opacity="0.6"/>
<line x1="463.75" y1="20.03" x2="463.75" y2="22.78" stroke="#22a08c" stroke-width="1" opacity="0.6"/>
<line x1="464.75" y1="20.03" x2="464.75" y2="27.37" stroke="#e5404f" stroke-width="1" opacity="0.6"/>
<line x1="465.75" y1="21.68" x2="465.75" y2="27.09" stroke="#e5404f" stroke-width="1" opacity="0.6"/>
<line x1="466.75" y1="26.28" x2="466.75" y2="30.59" stroke="#e5404f" stroke-width="1" opacity="0.6"/>
<line x1="467.75" y1="29.37" x2="467.75" y2="39.30" stroke="#e5404f" stroke-width="1" opacity="0.6"/>
<line x1="468.75" y1="39.30" x2="468.75" y2="49.16" stroke="#e5404f" stroke-width="1" opacity="0.6"/>
<line x1="469.75" y1="46.09" x2="469.75" y2="59.45" stroke="#e5404f" stroke-width="1" opacity="0.6"/>
<line x1="470.75" y1="56.43" x2="470.75" y2="64.01" stroke="#e5404f" stroke-width="1" opacity="0.6"/>
<line x1="471.75" y1="60.01" x2="471.75" y2="68.15" stroke="#e5404f" stroke-width="1" opacity="0.6"/>
<line x1="472.75" y1="68.15" x2="472.75" y2="72.57" stroke="#e5404f" stroke-width="1" opacity="0.6"/>
<line x1="473.75" y1="70.34" x2="473.75" y2="78.24" stroke="#e5404f" stroke-width="1" opacity="0.6"/>
<line x1="474.75" y1="68.48" x2="474.75" y2="76.58" stroke="#22a08c" stroke-width="1" opacity="0.6"/>
<line x1="475.75" y1="70.54" x2="475.75" y2="72.14" stroke="#e5404f" stroke-width="1" opacity="0.6"/>
<line x1="476.75" y1="67.39" x2="476.75" y2="74.08" stroke="#22a08c" stroke-width="1" opacity="0.6"/>
<line x1="477.75" y1="65.55" x2="477.75" y2="67.39" stroke="#22a08c" stroke-width="1" opacity="0.6"/>
<line x1="478.75" y1="63.19" x2="478.75" y2="67.72" stroke="#e5404f" stroke-width="1" opacity="0.6"/>
<line x1="479.75" y1="65.47" x2="479.75" y2="69.58" stroke="#e5404f" stroke-width="1" opacity="0.6"/>
<line x1="480.75" y1="66.97" x2="480.75" y2="72.39" stroke="#e5404f" stroke-width="1" opacity="0.6"/>
<line x1="481.75" y1="69.79" x2="481.75" y2="77.15" stroke="#e5404f" stroke-width="1" opacity="0.6"/>
<line x1="482.75" y1="77.15" x2="482.75" y2="101.13" stroke="#e5404f" stroke-width="1" opacity="0.6"/>
<line x1="483.75" y1="96.65" x2="483.75" y2="119.33" stroke="#e5404f" stroke-width="1" opacity="0.6"/>
<line x1="484.75" y1="115.16" x2="484.75" y2="123.28" stroke="#e5404f" stroke-width="1" opacity="0.6"/>
<line x1="485.75" y1="118.20" x2="485.75" y2="128.00" stroke="#e5404f" stroke-width="1" opacity="0.6"/>
<line x1="486.75" y1="124.69" x2="486.75" y2="128.00" stroke="#22a08c" stroke-width="1" opacity="0.6"/>
<line x1="487.75" y1="119.26" x2="487.75" y2="126.58" stroke="#22a08c" stroke-width="1" opacity="0.6"/>
<line x1="488.75" y1="121.89" x2="488.75" y2="124.83" stroke="#22a08c" stroke-width="1" opacity="0.6"/>
<line x1="489.75" y1="112.97" x2="489.75" y2="121.89" stroke="#22a08c" stroke-width="1" opacity="0.6"/>
<line x1="490.75" y1="114.32" x2="490.75" y2="116.91" stroke="#22a08c" stroke-width="1" opacity="0.6"/>
<line x1="491.75" y1="102.71" x2="491.75" y2="114.32" stroke="#22a08c" stroke-width="1" opacity="0.6"/>
<line x1="492.75" y1="99.88" x2="492.75" y2="108.92" stroke="#22a08c" stroke-width="1" opacity="0.6"/>
<line x1="493.75" y1="96.08" x2="493.75" y2="103.59" stroke="#22a08c" stroke-width="1" opacity="0.6"/>
<line x1="494.75" y1="98.35" x2="494.75" y2="101.19" stroke="#e5404f" stroke-width="1" opacity="0.6"/>
<line x1="495.75" y1="99.58" x2="495.75" y2="101.19" stroke="#22a08c" stroke-width="1" opacity="0.6"/>
<line x1="496.75" y1="96.83" x2="496.75" y2="104.05" stroke="#e5404f" stroke-width="1" opacity="0.6"/>
<line x1="497.75" y1="93.75" x2="497.75" y2="100.08" stroke="#22a08c" stroke-width="1" opacity="0.6"/>
<line x1="498.75" y1="94.98" x2="498.75" y2="98.60" stroke="#22a08c" stroke-width="1" opacity="0.6"/>
<line x1="499.75" y1="93.97" x2="499.75" y2="100.92" stroke="#22a08c" stroke-width="1" opacity="0.6"/>
<line x1="500.75" y1="92.15" x2="500.75" y2="99.10" stroke="#22a08c" stroke-width="1" opacity="0.6"/>
<line x1="501.75" y1="84.16" x2="501.75" y2="95.51" stroke="#22a08c" stroke-width="1" opacity="0.6"/>
<line x1="502.75" y1="82.96" x2="502.75" y2="88.81" stroke="#22a08c" stroke-width="1" opacity="0.6"/>
<line x1="503.75" y1="83.77" x2="503.75" y2="85.37" stroke="#e5404f" stroke-width="1" opacity="0.6"/>
<line x1="504.75" y1="82.21" x2="504.75" y2="86.72" stroke="#22a08c" stroke-width="1" opacity="0.6"/>
<line x1="505.75" y1="80.62" x2="505.75" y2="85.08" stroke="#e5404f" stroke-width="1" opacity="0.6"/>
<line x1="506.75" y1="79.99" x2="506.75" y2="85.88" stroke="#22a08c" stroke-width="1" opacity="0.6"/>
<line x1="507.75" y1="80.10" x2="507.75" y2="85.64" stroke="#e5404f" stroke-width="1" opacity="0.6"/>
<line x1="508.75" y1="80.60" x2="508.75" y2="86.14" stroke="#e5404f" stroke-width="1" opacity="0.6"/>
<line x1="509.75" y1="83.12" x2="509.75" y2="87.48" stroke="#22a08c" stroke-width="1" opacity="0.6"/>
<line x1="510.75" y1="82.06" x2="510.75" y2="84.95" stroke="#22a08c" stroke-width="1" opacity="0.6"/>
<line x1="511.75" y1="81.67" x2="511.75" y2="87.81" stroke="#e5404f" stroke-width="1" opacity="0.6"/>
<line x1="512.75" y1="80.78" x2="512.75" y2="83.36" stroke="#22a08c" stroke-width="1" opacity="0.6"/>
<line x1="513.75" y1="77.56" x2="513.75" y2="80.78" stroke="#22a08c" stroke-width="1" opacity="0.6"/>
<line x1="514.75" y1="72.33" x2="514.75" y2="77.56" stroke="#22a08c" stroke-width="1" opacity="0.6"/>
<line x1="515.75" y1="70.59" x2="515.75" y2="78.92" stroke="#22a08c" stroke-width="1" opacity="0.6"/>
<line x1="516.75" y1="69.67" x2="516.75" y2="75.14" stroke="#22a08c" stroke-width="1" opacity="0.6"/>
<line x1="517.75" y1="73.53" x2="517.75" y2="75.13" stroke="#22a08c" stroke-width="1" opacity="0.6"/>
<line x1="518.75" y1="71.45" x2="518.75" y2="78.16" stroke="#e5404f" stroke-width="1" opacity="0.6"/>
<line x1="519.75" y1="71.81" x2="519.75" y2="77.48" stroke="#22a08c" stroke-width="1" opacity="0.6"/>
<line x1="520.75" y1="74.25" x2="520.75" y2="78.98" stroke="#e5404f" stroke-width="1" opacity="0.6"/>
<line x1="521.75" y1="74.63" x2="521.75" y2="77.24" stroke="#22a08c" stroke-width="1" opacity="0.6"/>
<line x1="522.75" y1="71.54" x2="522.75" y2="80.31" stroke="#22a08c" stroke-width="1" opacity="0.6"/>
<line x1="523.75" y1="73.47" x2="523.75" y2="77.25" stroke="#22a08c" stroke-width="1" opacity="0.6"/>
<line x1="524.75" y1="70.35" x2="524.75" y2="73.47" stroke="#22a08c" stroke-width="1" opacity="0.6"/>
<line x1="525.75" y1="68.74" x2="525.75" y2="71.01" stroke="#22a08c" stroke-width="1" opacity="0.6"/>
<line x1="526.75" y1="68.74" x2="526.75" y2="76.20" stroke="#e5404f" stroke-width="1" opacity="0.6"/>
<line x1="527.75" y1="72.14" x2="527.75" y2="79.42" stroke="#e5404f" stroke-width="1" opacity="0.6"/>
<line x1="528.75" y1="79.42" x2="528.75" y2="81.84" stroke="#e5404f" stroke-width="1" opacity="0.6"/>
<line x1="529.75" y1="80.03" x2="529.75" y2="85.90" stroke="#e5404f" stroke-width="1" opacity="0.6"/>
<line x1="530.75" y1="81.64" x2="530.75" y2="83.24" stroke="#22a08c" stroke-width="1" opacity="0.6"/>
<line x1="531.75" y1="78.14" x2="531.75" y2="82.43" stroke="#22a08c" stroke-width="1" opacity="0.6"/>
<line x1="532.75" y1="76.46" x2="532.75" y2="83.02" stroke="#22a08c" stroke-width="1" opacity="0.6"/>
<line x1="533.75" y1="79.81" x2="533.75" y2="82.30" stroke="#e5404f" stroke-width="1" opacity="0.6"/>
<line x1="534.75" y1="76.06" x2="534.75" y2="80.65" stroke="#22a08c" stroke-width="1" opacity="0.6"/>
<line x1="535.75" y1="72.12" x2="535.75" y2="77.11" stroke="#22a08c" stroke-width="1" opacity="0.6"/>
<line x1="536.75" y1="63.05" x2="536.75" y2="73.26" stroke="#22a08c" stroke-width="1" opacity="0.6"/>
<line x1="537.75" y1="65.00" x2="537.75" y2="70.58" stroke="#22a08c" stroke-width="1" opacity="0.6"/>
<line x1="538.75" y1="62.46" x2="538.75" y2="66.00" stroke="#22a08c" stroke-width="1" opacity="0.6"/>
<line x1="539.75" y1="64.40" x2="539.75" y2="85.24" stroke="#e5404f" stroke-width="1" opacity="0.6"/>
<line x1="540.75" y1="83.68" x2="540.75" y2="105.19" stroke="#e5404f" stroke-width="1" opacity="0.6"/>
<line x1="541.75" y1="96.26" x2="541.75" y2="107.95" stroke="#22a08c" stroke-width="1" opacity="0.6"/>
<line x1="542.75" y1="95.74" x2="542.75" y2="98.70" stroke="#22a08c" stroke-width="1" opacity="0.6"/>
<line x1="543.75" y1="90.42" x2="543.75" y2="95.74" stroke="#22a08c" stroke-width="1" opacity="0.6"/>
<line x1="544.75" y1="86.42" x2="544.75" y2="94.85" stroke="#22a08c" stroke-width="1" opacity="0.6"/>
<line x1="545.75" y1="86.48" x2="545.75" y2="88.62" stroke="#22a08c" stroke-width="1" opacity="0.6"/>
<line x1="546.75" y1="81.18" x2="546.75" y2="87.57" stroke="#22a08c" stroke-width="1" opacity="0.6"/>
<line x1="547.75" y1="76.12" x2="547.75" y2="84.19" stroke="#22a08c" stroke-width="1" opacity="0.6"/>
<line x1="548.75" y1="75.73" x2="548.75" y2="83.40" stroke="#22a08c" stroke-width="1" opacity="0.6"/>
<line x1="549.75" y1="75.92" x2="549.75" y2="80.25" stroke="#22a08c" stroke-width="1" opacity="0.6"/>
<line x1="550.75" y1="68.46" x2="550.75" y2="75.92" stroke="#22a08c" stroke-width="1" opacity="0.6"/>
<line x1="551.75" y1="70.33" x2="551.75" y2="72.22" stroke="#22a08c" stroke-width="1" opacity="0.6"/>
<line x1="552.75" y1="68.29" x2="552.75" y2="70.33" stroke="#22a08c" stroke-width="1" opacity="0.6"/>
<line x1="553.75" y1="68.29" x2="553.75" y2="71.76" stroke="#e5404f" stroke-width="1" opacity="0.6"/>
<line x1="554.75" y1="67.15" x2="554.75" y2="74.54" stroke="#e5404f" stroke-width="1" opacity="0.6"/>
<line x1="555.75" y1="74.54" x2="555.75" y2="79.80" stroke="#e5404f" stroke-width="1" opacity="0.6"/>
<line x1="556.75" y1="74.79" x2="556.75" y2="84.96" stroke="#e5404f" stroke-width="1" opacity="0.6"/>
<line x1="557.75" y1="80.64" x2="557.75" y2="86.34" stroke="#e5404f" stroke-width="1" opacity="0.6"/>
<line x1="558.75" y1="85.61" x2="558.75" y2="93.80" stroke="#e5404f" stroke-width="1" opacity="0.6"/>
<line x1="559.75" y1="91.11" x2="559.75" y2="110.71" stroke="#e5404f" stroke-width="1" opacity="0.6"/>
<line x1="560.75" y1="104.92" x2="560.75" y2="125.07" stroke="#e5404f" stroke-width="1" opacity="0.6"/>
<line x1="561.75" y1="120.55" x2="561.75" y2="124.21" stroke="#22a08c" stroke-width="1" opacity="0.6"/>
<line x1="562.75" y1="111.96" x2="562.75" y2="122.61" stroke="#22a08c" stroke-width="1" opacity="0.6"/>
<line x1="563.75" y1="103.36" x2="563.75" y2="117.53" stroke="#22a08c" stroke-width="1" opacity="0.6"/>
<line x1="564.75" y1="92.93" x2="564.75" y2="106.33" stroke="#22a08c" stroke-width="1" opacity="0.6"/>
<line x1="565.75" y1="93.69" x2="565.75" y2="95.29" stroke="#22a08c" stroke-width="1" opacity="0.6"/>
<line x1="566.75" y1="91.01" x2="566.75" y2="98.79" stroke="#22a08c" stroke-width="1" opacity="0.6"/>
<line x1="567.75" y1="91.24" x2="567.75" y2="98.44" stroke="#e5404f" stroke-width="1" opacity="0.6"/>
<line x1="568.75" y1="94.70" x2="568.75" y2="98.40" stroke="#e5404f" stroke-width="1" opacity="0.6"/>
<line x1="569.75" y1="97.60" x2="569.75" y2="104.36" stroke="#e5404f" stroke-width="1" opacity="0.6"/>
<line x1="570.75" y1="100.88" x2="570.75" y2="106.14" stroke="#e5404f" stroke-width="1" opacity="0.6"/>
<line x1="571.75" y1="102.13" x2="571.75" y2="111.34" stroke="#e5404f" stroke-width="1" opacity="0.6"/>
<line x1="572.75" y1="106.74" x2="572.75" y2="118.18" stroke="#e5404f" stroke-width="1" opacity="0.6"/>
<line x1="573.75" y1="116.27" x2="573.75" y2="124.51" stroke="#e5404f" stroke-width="1" opacity="0.6"/>
<line x1="574.75" y1="123.04" x2="574.75" y2="129.36" stroke="#e5404f" stroke-width="1" opacity="0.6"/>
<line x1="575.75" y1="124.54" x2="575.75" y2="128.08" stroke="#e5404f" stroke-width="1" opacity="0.6"/>
<line x1="576.75" y1="124.45" x2="576.75" y2="132.88" stroke="#e5404f" stroke-width="1" opacity="0.6"/>
<line x1="577.75" y1="126.49" x2="577.75" y2="131.78" stroke="#e5404f" stroke-width="1" opacity="0.6"/>
<line x1="578.75" y1="130.26" x2="578.75" y2="136.73" stroke="#e5404f" stroke-width="1" opacity="0.6"/>
<line x1="579.75" y1="134.90" x2="579.75" y2="139.87" stroke="#e5404f" stroke-width="1" opacity="0.6"/>
<line x1="580.75" y1="136.79" x2="580.75" y2="150.35" stroke="#e5404f" stroke-width="1" opacity="0.6"/>
<line x1="581.75" y1="148.32" x2="581.75" y2="157.28" stroke="#e5404f" stroke-width="1" opacity="0.6"/>
<line x1="582.75" y1="153.86" x2="582.75" y2="158.88" stroke="#e5404f" stroke-width="1" opacity="0.6"/>
<line x1="583.75" y1="154.47" x2="583.75" y2="159.95" stroke="#e5404f" stroke-width="1" opacity="0.6"/>
<line x1="584.75" y1="159.06" x2="584.75" y2="161.94" stroke="#e5404f" stroke-width="1" opacity="0.6"/>
<line x1="585.75" y1="161.94" x2="585.75" y2="165.39" stroke="#e5404f" stroke-width="1" opacity="0.6"/>
<line x1="586.75" y1="165.39" x2="586.75" y2="170.91" stroke="#e5404f" stroke-width="1" opacity="0.6"/>
<line x1="587.75" y1="165.60" x2="587.75" y2="168.01" stroke="#22a08c" stroke-width="1" opacity="0.6"/>
<line x1="588.75" y1="158.59" x2="588.75" y2="166.41" stroke="#22a08c" stroke-width="1" opacity="0.6"/>
<line x1="589.75" y1="153.36" x2="589.75" y2="158.59" stroke="#22a08c" stroke-width="1" opacity="0.6"/>
<line x1="590.75" y1="145.54" x2="590.75" y2="155.65" stroke="#22a08c" stroke-width="1" opacity="0.6"/>
<line x1="591.75" y1="143.18" x2="591.75" y2="151.44" stroke="#22a08c" stroke-width="1" opacity="0.6"/>
<line x1="592.75" y1="139.65" x2="592.75" y2="146.35" stroke="#22a08c" stroke-width="1" opacity="0.6"/>
<line x1="593.75" y1="140.69" x2="593.75" y2="151.89" stroke="#e5404f" stroke-width="1" opacity="0.6"/>
<line x1="594.75" y1="148.55" x2="594.75" y2="165.16" stroke="#e5404f" stroke-width="1" opacity="0.6"/>
<line x1="595.75" y1="160.84" x2="595.75" y2="166.28" stroke="#e5404f" stroke-width="1" opacity="0.6"/>
<line x1="596.75" y1="162.68" x2="596.75" y2="166.29" stroke="#e5404f" stroke-width="1" opacity="0.6"/>
<line x1="597.75" y1="166.29" x2="597.75" y2="184.56" stroke="#e5404f" stroke-width="1" opacity="0.6"/>
<line x1="598.75" y1="181.21" x2="598.75" y2="202.47" stroke="#e5404f" stroke-width="1" opacity="0.6"/>
<line x1="599.75" y1="194.50" x2="599.75" y2="199.64" stroke="#22a08c" stroke-width="1" opacity="0.6"/>
<line x1="600.75" y1="192.03" x2="600.75" y2="198.39" stroke="#22a08c" stroke-width="1" opacity="0.6"/>
<line x1="601.75" y1="189.29" x2="601.75" y2="194.74" stroke="#22a08c" stroke-width="1" opacity="0.6"/>
<line x1="602.75" y1="189.44" x2="602.75" y2="193.56" stroke="#22a08c" stroke-width="1" opacity="0.6"/>
<line x1="603.75" y1="189.21" x2="603.75" y2="191.21" stroke="#22a08c" stroke-width="1" opacity="0.6"/>
<line x1="604.75" y1="188.60" x2="604.75" y2="190.20" stroke="#22a08c" stroke-width="1" opacity="0.6"/>
<line x1="605.75" y1="186.38" x2="605.75" y2="191.36" stroke="#e5404f" stroke-width="1" opacity="0.6"/>
<line x1="606.75" y1="185.73" x2="606.75" y2="192.33" stroke="#e5404f" stroke-width="1" opacity="0.6"/>
<line x1="607.75" y1="192.33" x2="607.75" y2="196.88" stroke="#e5404f" stroke-width="1" opacity="0.6"/>
<line x1="608.75" y1="176.06" x2="608.75" y2="200.09" stroke="#22a08c" stroke-width="1" opacity="0.6"/>
<line x1="609.75" y1="152.32" x2="609.75" y2="177.04" stroke="#22a08c" stroke-width="1" opacity="0.6"/>
<line x1="610.75" y1="152.94" x2="610.75" y2="157.79" stroke="#22a08c" stroke-width="1" opacity="0.6"/>
<line x1="611.75" y1="152.33" x2="611.75" y2="155.07" stroke="#22a08c" stroke-width="1" opacity="0.6"/>
<line x1="612.75" y1="150.54" x2="612.75" y2="155.99" stroke="#e5404f" stroke-width="1" opacity="0.6"/>
<line x1="613.75" y1="155.99" x2="613.75" y2="160.08" stroke="#e5404f" stroke-width="1" opacity="0.6"/>
<line x1="614.75" y1="159.44" x2="614.75" y2="165.24" stroke="#e5404f" stroke-width="1" opacity="0.6"/>
<line x1="615.75" y1="162.41" x2="615.75" y2="165.24" stroke="#22a08c" stroke-width="1" opacity="0.6"/>
<line x1="616.75" y1="157.26" x2="616.75" y2="164.94" stroke="#22a08c" stroke-width="1" opacity="0.6"/>
<line x1="617.75" y1="158.31" x2="617.75" y2="162.81" stroke="#e5404f" stroke-width="1" opacity="0.6"/>
<line x1="618.75" y1="160.12" x2="618.75" y2="171.50" stroke="#e5404f" stroke-width="1" opacity="0.6"/>
<line x1="619.75" y1="166.88" x2="619.75" y2="175.80" stroke="#e5404f" stroke-width="1" opacity="0.6"/>
<line x1="620.75" y1="174.31" x2="620.75" y2="180.03" stroke="#e5404f" stroke-width="1" opacity="0.6"/>
<line x1="621.75" y1="178.35" x2="621.75" y2="185.88" stroke="#e5404f" stroke-width="1" opacity="0.6"/>
<line x1="622.75" y1="183.05" x2="622.75" y2="189.71" stroke="#e5404f" stroke-width="1" opacity="0.6"/>
<line x1="623.75" y1="188.17" x2="623.75" y2="190.96" stroke="#e5404f" stroke-width="1" opacity="0.6"/>
<line x1="624.75" y1="184.97" x2="624.75" y2="189.51" stroke="#22a08c" stroke-width="1" opacity="0.6"/>
<line x1="625.75" y1="187.08" x2="625.75" y2="188.90" stroke="#e5404f" stroke-width="1" opacity="0.6"/>
<line x1="626.75" y1="187.95" x2="626.75" y2="189.55" stroke="#22a08c" stroke-width="1" opacity="0.6"/>
<line x1="627.75" y1="187.95" x2="627.75" y2="189.60" stroke="#e5404f" stroke-width="1" opacity="0.6"/>
<line x1="628.75" y1="189.60" x2="628.75" y2="197.36" stroke="#e5404f" stroke-width="1" opacity="0.6"/>
<line x1="629.75" y1="197.36" x2="629.75" y2="206.63" stroke="#e5404f" stroke-width="1" opacity="0.6"/>
<line x1="630.75" y1="203.77" x2="630.75" y2="208.95" stroke="#e5404f" stroke-width="1" opacity="0.6"/>
<line x1="631.75" y1="204.87" x2="631.75" y2="211.82" stroke="#22a08c" stroke-width="1" opacity="0.6"/>
<line x1="632.75" y1="164.74" x2="632.75" y2="208.59" stroke="#22a08c" stroke-width="1" opacity="0.6"/>
<line x1="633.75" y1="166.83" x2="633.75" y2="169.32" stroke="#22a08c" stroke-width="1" opacity="0.6"/>
<line x1="634.75" y1="165.99" x2="634.75" y2="171.12" stroke="#e5404f" stroke-width="1" opacity="0.6"/>
<line x1="635.75" y1="168.85" x2="635.75" y2="172.95" stroke="#22a08c" stroke-width="1" opacity="0.6"/>
<line x1="636.75" y1="161.60" x2="636.75" y2="170.78" stroke="#22a08c" stroke-width="1" opacity="0.6"/>
<line x1="637.75" y1="155.89" x2="637.75" y2="164.16" stroke="#22a08c" stroke-width="1" opacity="0.6"/>
<line x1="638.75" y1="157.56" x2="638.75" y2="163.38" stroke="#22a08c" stroke-width="1" opacity="0.6"/>
<line x1="639.75" y1="151.32" x2="639.75" y2="158.66" stroke="#22a08c" stroke-width="1" opacity="0.6"/>
<line x1="640.75" y1="152.73" x2="640.75" y2="154.73" stroke="#22a08c" stroke-width="1" opacity="0.6"/>
<line x1="641.75" y1="146.91" x2="641.75" y2="154.06" stroke="#22a08c" stroke-width="1" opacity="0.6"/>
<line x1="642.75" y1="144.33" x2="642.75" y2="150.06" stroke="#e5404f" stroke-width="1" opacity="0.6"/>
<line x1="643.75" y1="144.18" x2="643.75" y2="150.00" stroke="#e5404f" stroke-width="1" opacity="0.6"/>
<line x1="644.75" y1="150.00" x2="644.75" y2="151.60" stroke="#e5404f" stroke-width="1" opacity="0.6"/>
<line x1="645.75" y1="143.23" x2="645.75" y2="153.51" stroke="#22a08c" stroke-width="1" opacity="0.6"/>
<line x1="646.75" y1="141.65" x2="646.75" y2="148.14" stroke="#22a08c" stroke-width="1" opacity="0.6"/>
<line x1="647.75" y1="137.45" x2="647.75" y2="141.65" stroke="#22a08c" stroke-width="1" opacity="0.6"/>
<line x1="648.75" y1="130.40" x2="648.75" y2="139.87" stroke="#22a08c" stroke-width="1" opacity="0.6"/>
<line x1="649.75" y1="124.85" x2="649.75" y2="130.40" stroke="#22a08c" stroke-width="1" opacity="0.6"/>
<line x1="650.75" y1="125.22" x2="650.75" y2="128.88" stroke="#22a08c" stroke-width="1" opacity="0.6"/>
<line x1="651.75" y1="126.71" x2="651.75" y2="132.43" stroke="#e5404f" stroke-width="1" opacity="0.6"/>
<line x1="652.75" y1="128.37" x2="652.75" y2="132.87" stroke="#22a08c" stroke-width="1" opacity="0.6"/>
<line x1="653.75" y1="124.80" x2="653.75" y2="132.88" stroke="#e5404f" stroke-width="1" opacity="0.6"/>
<line x1="654.75" y1="126.11" x2="654.75" y2="130.27" stroke="#22a08c" stroke-width="1" opacity="0.6"/>
<line x1="655.75" y1="116.19" x2="655.75" y2="126.11" stroke="#22a08c" stroke-width="1" opacity="0.6"/>
<line x1="656.75" y1="110.96" x2="656.75" y2="119.74" stroke="#22a08c" stroke-width="1" opacity="0.6"/>
<line x1="657.75" y1="109.23" x2="657.75" y2="114.33" stroke="#22a08c" stroke-width="1" opacity="0.6"/>
<line x1="658.75" y1="104.95" x2="658.75" y2="110.28" stroke="#22a08c" stroke-width="1" opacity="0.6"/>
<line x1="659.75" y1="97.22" x2="659.75" y2="104.95" stroke="#22a08c" stroke-width="1" opacity="0.6"/>
<line x1="660.75" y1="96.56" x2="660.75" y2="101.39" stroke="#22a08c" stroke-width="1" opacity="0.6"/>
<line x1="661.75" y1="93.21" x2="661.75" y2="100.18" stroke="#22a08c" stroke-width="1" opacity="0.6"/>
<line x1="662.75" y1="92.84" x2="662.75" y2="96.54" stroke="#e5404f" stroke-width="1" opacity="0.6"/>
<line x1="663.75" y1="93.12" x2="663.75" y2="99.82" stroke="#e5404f" stroke-width="1" opacity="0.6"/>
<line x1="664.75" y1="95.87" x2="664.75" y2="113.85" stroke="#e5404f" stroke-width="1" opacity="0.6"/>
<line x1="665.75" y1="107.54" x2="665.75" y2="117.23" stroke="#e5404f" stroke-width="1" opacity="0.6"/>
<line x1="666.75" y1="117.23" x2="666.75" y2="122.25" stroke="#e5404f" stroke-width="1" opacity="0.6"/>
<line x1="667.75" y1="120.76" x2="667.75" y2="126.36" stroke="#e5404f" stroke-width="1" opacity="0.6"/>
<line x1="668.75" y1="126.36" x2="668.75" y2="130.72" stroke="#e5404f" stroke-width="1" opacity="0.6"/>
<line x1="669.75" y1="130.72" x2="669.75" y2="132.32" stroke="#e5404f" stroke-width="1" opacity="0.6"/>
<line x1="670.75" y1="131.53" x2="670.75" y2="135.56" stroke="#22a08c" stroke-width="1" opacity="0.6"/>
<line x1="671.75" y1="126.48" x2="671.75" y2="135.49" stroke="#22a08c" stroke-width="1" opacity="0.6"/>
<line x1="672.75" y1="124.08" x2="672.75" y2="129.88" stroke="#22a08c" stroke-width="1" opacity="0.6"/>
<line x1="673.75" y1="117.64" x2="673.75" y2="127.49" stroke="#22a08c" stroke-width="1" opacity="0.6"/>
<line x1="674.75" y1="120.10" x2="674.75" y2="126.97" stroke="#e5404f" stroke-width="1" opacity="0.6"/>
<line x1="675.75" y1="125.41" x2="675.75" y2="127.14" stroke="#e5404f" stroke-width="1" opacity="0.6"/>
<line x1="676.75" y1="123.42" x2="676.75" y2="132.07" stroke="#e5404f" stroke-width="1" opacity="0.6"/>
<line x1="677.75" y1="129.17" x2="677.75" y2="133.30" stroke="#22a08c" stroke-width="1" opacity="0.6"/>
<line x1="678.75" y1="131.70" x2="678.75" y2="139.10" stroke="#e5404f" stroke-width="1" opacity="0.6"/>
<line x1="679.75" y1="131.91" x2="679.75" y2="138.77" stroke="#e5404f" stroke-width="1" opacity="0.6"/>
<line x1="680.75" y1="135.93" x2="680.75" y2="140.07" stroke="#e5404f" stroke-width="1" opacity="0.6"/>
<line x1="681.75" y1="138.87" x2="681.75" y2="141.95" stroke="#e5404f" stroke-width="1" opacity="0.6"/>
<line x1="682.75" y1="141.95" x2="682.75" y2="147.97" stroke="#e5404f" stroke-width="1" opacity="0.6"/>
<line x1="683.75" y1="144.90" x2="683.75" y2="149.84" stroke="#e5404f" stroke-width="1" opacity="0.6"/>
<line x1="684.75" y1="144.91" x2="684.75" y2="149.87" stroke="#e5404f" stroke-width="1" opacity="0.6"/>
<line x1="685.75" y1="146.20" x2="685.75" y2="150.85" stroke="#e5404f" stroke-width="1" opacity="0.6"/>
<line x1="686.75" y1="147.73" x2="686.75" y2="154.46" stroke="#e5404f" stroke-width="1" opacity="0.6"/>
<line x1="687.75" y1="154.46" x2="687.75" y2="161.07" stroke="#e5404f" stroke-width="1" opacity="0.6"/>
<line x1="688.75" y1="157.68" x2="688.75" y2="165.49" stroke="#e5404f" stroke-width="1" opacity="0.6"/>
<line x1="689.75" y1="161.14" x2="689.75" y2="170.52" stroke="#e5404f" stroke-width="1" opacity="0.6"/>
<line x1="690.75" y1="166.78" x2="690.75" y2="172.17" stroke="#e5404f" stroke-width="1" opacity="0.6"/>
<line x1="691.75" y1="168.69" x2="691.75" y2="172.12" stroke="#e5404f" stroke-width="1" opacity="0.6"/>
<line x1="692.75" y1="167.26" x2="692.75" y2="174.60" stroke="#22a08c" stroke-width="1" opacity="0.6"/>
<line x1="693.75" y1="169.77" x2="693.75" y2="171.37" stroke="#22a08c" stroke-width="1" opacity="0.6"/>
<line x1="694.75" y1="166.52" x2="694.75" y2="174.21" stroke="#22a08c" stroke-width="1" opacity="0.6"/>
<line x1="695.75" y1="169.62" x2="695.75" y2="174.42" stroke="#e5404f" stroke-width="1" opacity="0.6"/>
<line x1="696.75" y1="168.52" x2="696.75" y2="177.04" stroke="#e5404f" stroke-width="1" opacity="0.6"/>
<line x1="697.75" y1="171.08" x2="697.75" y2="174.85" stroke="#e5404f" stroke-width="1" opacity="0.6"/>
<line x1="698.75" y1="169.62" x2="698.75" y2="182.42" stroke="#e5404f" stroke-width="1" opacity="0.6"/>
<line x1="699.75" y1="178.30" x2="699.75" y2="183.12" stroke="#e5404f" stroke-width="1" opacity="0.6"/>
<line x1="700.75" y1="162.78" x2="700.75" y2="181.20" stroke="#22a08c" stroke-width="1" opacity="0.6"/>
<line x1="701.75" y1="161.53" x2="701.75" y2="166.57" stroke="#22a08c" stroke-width="1" opacity="0.6"/>
<line x1="702.75" y1="158.30" x2="702.75" y2="167.66" stroke="#e5404f" stroke-width="1" opacity="0.6"/>
<line x1="703.75" y1="163.72" x2="703.75" y2="170.49" stroke="#e5404f" stroke-width="1" opacity="0.6"/>
<line x1="704.75" y1="163.52" x2="704.75" y2="172.36" stroke="#e5404f" stroke-width="1" opacity="0.6"/>
<line x1="705.75" y1="169.29" x2="705.75" y2="174.42" stroke="#e5404f" stroke-width="1" opacity="0.6"/>
<line x1="706.75" y1="169.94" x2="706.75" y2="175.63" stroke="#e5404f" stroke-width="1" opacity="0.6"/>
<line x1="707.75" y1="171.92" x2="707.75" y2="178.48" stroke="#e5404f" stroke-width="1" opacity="0.6"/>
<line x1="708.75" y1="175.33" x2="708.75" y2="181.40" stroke="#22a08c" stroke-width="1" opacity="0.6"/>
<line x1="709.75" y1="172.66" x2="709.75" y2="181.62" stroke="#e5404f" stroke-width="1" opacity="0.6"/>
<line x1="710.75" y1="178.49" x2="710.75" y2="180.09" stroke="#22a08c" stroke-width="1" opacity="0.6"/>
<line x1="711.75" y1="173.71" x2="711.75" y2="178.49" stroke="#22a08c" stroke-width="1" opacity="0.6"/>
<line x1="712.75" y1="164.29" x2="712.75" y2="173.71" stroke="#22a08c" stroke-width="1" opacity="0.6"/>
<line x1="713.75" y1="158.78" x2="713.75" y2="166.49" stroke="#22a08c" stroke-width="1" opacity="0.6"/>
<line x1="714.75" y1="158.78" x2="714.75" y2="160.50" stroke="#e5404f" stroke-width="1" opacity="0.6"/>
<line x1="715.75" y1="160.29" x2="715.75" y2="165.12" stroke="#22a08c" stroke-width="1" opacity="0.6"/>
<line x1="716.75" y1="156.76" x2="716.75" y2="163.31" stroke="#e5404f" stroke-width="1" opacity="0.6"/>
<line x1="717.75" y1="161.06" x2="717.75" y2="163.55" stroke="#22a08c" stroke-width="1" opacity="0.6"/>
<line x1="718.75" y1="161.63" x2="718.75" y2="166.30" stroke="#22a08c" stroke-width="1" opacity="0.6"/>
<line x1="719.75" y1="158.74" x2="719.75" y2="164.92" stroke="#e5404f" stroke-width="1" opacity="0.6"/>
<line x1="720.75" y1="162.66" x2="720.75" y2="166.33" stroke="#e5404f" stroke-width="1" opacity="0.6"/>
<line x1="721.75" y1="162.00" x2="721.75" y2="166.33" stroke="#22a08c" stroke-width="1" opacity="0.6"/>
<line x1="722.75" y1="155.46" x2="722.75" y2="165.32" stroke="#22a08c" stroke-width="1" opacity="0.6"/>
<line x1="723.75" y1="147.11" x2="723.75" y2="161.30" stroke="#22a08c" stroke-width="1" opacity="0.6"/>
<line x1="724.75" y1="148.82" x2="724.75" y2="152.53" stroke="#22a08c" stroke-width="1" opacity="0.6"/>
<line x1="725.75" y1="146.72" x2="725.75" y2="152.29" stroke="#e5404f" stroke-width="1" opacity="0.6"/>
<line x1="726.75" y1="144.26" x2="726.75" y2="151.75" stroke="#22a08c" stroke-width="1" opacity="0.6"/>
<line x1="727.75" y1="147.97" x2="727.75" y2="149.57" stroke="#e5404f" stroke-width="1" opacity="0.6"/>
<line x1="728.75" y1="146.51" x2="728.75" y2="150.18" stroke="#22a08c" stroke-width="1" opacity="0.6"/>
<line x1="729.75" y1="145.48" x2="729.75" y2="150.32" stroke="#e5404f" stroke-width="1" opacity="0.6"/>
<line x1="730.75" y1="149.78" x2="730.75" y2="153.85" stroke="#e5404f" stroke-width="1" opacity="0.6"/>
<line x1="731.75" y1="151.43" x2="731.75" y2="153.03" stroke="#e5404f" stroke-width="1" opacity="0.6"/>
<line x1="732.75" y1="150.42" x2="732.75" y2="157.54" stroke="#22a08c" stroke-width="1" opacity="0.6"/>
<line x1="733.75" y1="143.91" x2="733.75" y2="156.03" stroke="#22a08c" stroke-width="1" opacity="0.6"/>
<line x1="734.75" y1="139.47" x2="734.75" y2="145.84" stroke="#22a08c" stroke-width="1" opacity="0.6"/>
<line x1="735.75" y1="138.62" x2="735.75" y2="141.56" stroke="#22a08c" stroke-width="1" opacity="0.6"/>
<line x1="736.75" y1="134.30" x2="736.75" y2="139.35" stroke="#22a08c" stroke-width="1" opacity="0.6"/>
<line x1="737.75" y1="134.82" x2="737.75" y2="142.40" stroke="#e5404f" stroke-width="1" opacity="0.6"/>
<line x1="738.75" y1="133.78" x2="738.75" y2="142.75" stroke="#22a08c" stroke-width="1" opacity="0.6"/>
<line x1="739.75" y1="133.87" x2="739.75" y2="138.04" stroke="#22a08c" stroke-width="1" opacity="0.6"/>
<line x1="740.75" y1="131.88" x2="740.75" y2="136.44" stroke="#22a08c" stroke-width="1" opacity="0.6"/>
<line x1="741.75" y1="130.06" x2="741.75" y2="134.22" stroke="#22a08c" stroke-width="1" opacity="0.6"/>
<line x1="742.75" y1="129.07" x2="742.75" y2="133.37" stroke="#22a08c" stroke-width="1" opacity="0.6"/>
<line x1="743.75" y1="125.81" x2="743.75" y2="133.74" stroke="#22a08c" stroke-width="1" opacity="0.6"/>
<line x1="744.75" y1="127.85" x2="744.75" y2="131.62" stroke="#22a08c" stroke-width="1" opacity="0.6"/>
<line x1="745.75" y1="122.84" x2="745.75" y2="130.52" stroke="#22a08c" stroke-width="1" opacity="0.6"/>
<line x1="746.75" y1="126.59" x2="746.75" y2="129.36" stroke="#e5404f" stroke-width="1" opacity="0.6"/>
<line x1="747.75" y1="125.51" x2="747.75" y2="130.19" stroke="#e5404f" stroke-width="1" opacity="0.6"/>
<line x1="748.75" y1="130.19" x2="748.75" y2="133.62" stroke="#e5404f" stroke-width="1" opacity="0.6"/>
<line x1="749.75" y1="131.32" x2="749.75" y2="133.96" stroke="#e5404f" stroke-width="1" opacity="0.6"/>
<line x1="750.75" y1="129.36" x2="750.75" y2="132.71" stroke="#22a08c" stroke-width="1" opacity="0.6"/>
<line x1="751.75" y1="130.30" x2="751.75" y2="137.40" stroke="#e5404f" stroke-width="1" opacity="0.6"/>
<line x1="752.75" y1="131.24" x2="752.75" y2="135.37" stroke="#e5404f" stroke-width="1" opacity="0.6"/>
<line x1="753.75" y1="132.49" x2="753.75" y2="139.29" stroke="#e5404f" stroke-width="1" opacity="0.6"/>
<line x1="754.75" y1="135.24" x2="754.75" y2="141.28" stroke="#e5404f" stroke-width="1" opacity="0.6"/>
<line x1="755.75" y1="140.72" x2="755.75" y2="147.38" stroke="#e5404f" stroke-width="1" opacity="0.6"/>
<line x1="756.75" y1="136.53" x2="756.75" y2="149.68" stroke="#22a08c" stroke-width="1" opacity="0.6"/>
<line x1="757.75" y1="124.68" x2="757.75" y2="138.16" stroke="#22a08c" stroke-width="1" opacity="0.6"/>
<line x1="758.75" y1="121.41" x2="758.75" y2="126.28" stroke="#e5404f" stroke-width="1" opacity="0.6"/>
<line x1="759.75" y1="123.63" x2="759.75" y2="130.27" stroke="#e5404f" stroke-width="1" opacity="0.6"/>
<line x1="760.75" y1="124.12" x2="760.75" y2="160.51" stroke="#e5404f" stroke-width="1" opacity="0.6"/>
<line x1="761.75" y1="157.99" x2="761.75" y2="171.29" stroke="#e5404f" stroke-width="1" opacity="0.6"/>
<line x1="762.75" y1="169.80" x2="762.75" y2="171.40" stroke="#22a08c" stroke-width="1" opacity="0.6"/>
<line x1="763.75" y1="169.54" x2="763.75" y2="171.89" stroke="#22a08c" stroke-width="1" opacity="0.6"/>
<line x1="764.75" y1="164.14" x2="764.75" y2="173.20" stroke="#22a08c" stroke-width="1" opacity="0.6"/>
<line x1="765.75" y1="159.46" x2="765.75" y2="168.59" stroke="#22a08c" stroke-width="1" opacity="0.6"/>
<line x1="766.75" y1="159.88" x2="766.75" y2="165.31" stroke="#e5404f" stroke-width="1" opacity="0.6"/>
<line x1="767.75" y1="163.02" x2="767.75" y2="169.33" stroke="#e5404f" stroke-width="1" opacity="0.6"/>
<line x1="768.75" y1="169.33" x2="768.75" y2="176.26" stroke="#e5404f" stroke-width="1" opacity="0.6"/>
<line x1="769.75" y1="175.61" x2="769.75" y2="191.65" stroke="#e5404f" stroke-width="1" opacity="0.6"/>
<line x1="770.75" y1="190.37" x2="770.75" y2="199.08" stroke="#e5404f" stroke-width="1" opacity="0.6"/>
<line x1="771.75" y1="189.85" x2="771.75" y2="195.72" stroke="#22a08c" stroke-width="1" opacity="0.6"/>
<line x1="772.75" y1="192.48" x2="772.75" y2="194.08" stroke="#22a08c" stroke-width="1" opacity="0.6"/>
<line x1="773.75" y1="189.56" x2="773.75" y2="196.63" stroke="#e5404f" stroke-width="1" opacity="0.6"/>
<line x1="774.75" y1="193.69" x2="774.75" y2="195.29" stroke="#e5404f" stroke-width="1" opacity="0.6"/>
<line x1="775.75" y1="189.49" x2="775.75" y2="199.17" stroke="#22a08c" stroke-width="1" opacity="0.6"/>
<line x1="776.75" y1="190.21" x2="776.75" y2="196.91" stroke="#e5404f" stroke-width="1" opacity="0.6"/>
<line x1="777.75" y1="189.97" x2="777.75" y2="195.10" stroke="#e5404f" stroke-width="1" opacity="0.6"/>
<line x1="778.75" y1="193.05" x2="778.75" y2="195.57" stroke="#e5404f" stroke-width="1" opacity="0.6"/>
<line x1="779.75" y1="194.09" x2="779.75" y2="198.18" stroke="#22a08c" stroke-width="1" opacity="0.6"/>
<line x1="780.75" y1="192.23" x2="780.75" y2="211.55" stroke="#e5404f" stroke-width="1" opacity="0.6"/>
<line x1="781.75" y1="208.25" x2="781.75" y2="214.15" stroke="#e5404f" stroke-width="1" opacity="0.6"/>
<line x1="782.75" y1="211.78" x2="782.75" y2="219.73" stroke="#e5404f" stroke-width="1" opacity="0.6"/>
<line x1="783.75" y1="213.96" x2="783.75" y2="224.85" stroke="#e5404f" stroke-width="1" opacity="0.6"/>
<line x1="784.75" y1="221.86" x2="784.75" y2="227.24" stroke="#e5404f" stroke-width="1" opacity="0.6"/>
<line x1="785.75" y1="218.97" x2="785.75" y2="223.94" stroke="#22a08c" stroke-width="1" opacity="0.6"/>
<line x1="786.75" y1="215.31" x2="786.75" y2="223.02" stroke="#22a08c" stroke-width="1" opacity="0.6"/>
<line x1="787.75" y1="216.61" x2="787.75" y2="218.83" stroke="#22a08c" stroke-width="1" opacity="0.6"/>
<line x1="788.75" y1="213.76" x2="788.75" y2="218.29" stroke="#e5404f" stroke-width="1" opacity="0.6"/>
<line x1="789.75" y1="212.47" x2="789.75" y2="222.00" stroke="#22a08c" stroke-width="1" opacity="0.6"/>
<line x1="790.75" y1="214.61" x2="790.75" y2="217.04" stroke="#22a08c" stroke-width="1" opacity="0.6"/>
<line x1="16.25" y1="290.00" x2="16.25" y2="310.00" stroke="#22a08c" stroke-width="1" opacity="0.8"/>
<line x1="33.75" y1="300.00" x2="33.75" y2="316.00" stroke="#e5404f" stroke-width="1" opacity="0.8"/>
<line x1="35.50" y1="175.00" x2="35.50" y2="185.00" stroke="#22a08c" stroke-width="1" opacity="0.8"/>
<line x1="80.50" y1="140.00" x2="80.50" y2="162.50" stroke="#e5404f" stroke-width="1" opacity="0.8"/>
<line x1="78.00" y1="105.00" x2="78.00" y2="112.00" stroke="#22a08c" stroke-width="1" opacity="0.8"/>
<line x1="116.00" y1="105.00" x2="116.00" y2="125.00" stroke="#22a08c" stroke-width="1" opacity="0.8"/>
<line x1="125.00" y1="81.00" x2="125.00" y2="90.00" stroke="#e5404f" stroke-width="1" opacity="0.8"/>
<line x1="166.00" y1="120.00" x2="166.00" y2="142.00" stroke="#e5404f" stroke-width="1" opacity="0.8"/>
<line x1="180.00" y1="140.00" x2="180.00" y2="154.00" stroke="#22a08c" stroke-width="1" opacity="0.8"/>
<line x1="207.50" y1="72.50" x2="207.50" y2="90.00" stroke="#e5404f" stroke-width="1" opacity="0.8"/>
<line x1="202.50" y1="170.00" x2="202.50" y2="181.00" stroke="#22a08c" stroke-width="1" opacity="0.8"/>
<line x1="234.00" y1="100.00" x2="234.00" y2="145.00" stroke="#e5404f" stroke-width="1" opacity="0.8"/>
<line x1="240.00" y1="175.00" x2="240.00" y2="187.50" stroke="#e5404f" stroke-width="1" opacity="0.8"/>
<line x1="274.00" y1="77.50" x2="274.00" y2="90.00" stroke="#22a08c" stroke-width="1" opacity="0.8"/>
<line x1="288.00" y1="135.00" x2="288.00" y2="162.50" stroke="#e5404f" stroke-width="1" opacity="0.8"/>
<line x1="295.50" y1="150.00" x2="295.50" y2="165.00" stroke="#22a08c" stroke-width="1" opacity="0.8"/>
<line x1="309.00" y1="135.00" x2="309.00" y2="150.00" stroke="#e5404f" stroke-width="1" opacity="0.8"/>
<line x1="350.50" y1="95.00" x2="350.50" y2="110.00" stroke="#22a08c" stroke-width="1" opacity="0.8"/>
<line x1="367.00" y1="105.00" x2="367.00" y2="128.75" stroke="#e5404f" stroke-width="1" opacity="0.8"/>
<line x1="379.00" y1="85.00" x2="379.00" y2="100.00" stroke="#22a08c" stroke-width="1" opacity="0.8"/>
<line x1="421.50" y1="20.00" x2="421.50" y2="47.50" stroke="#e5404f" stroke-width="1" opacity="0.8"/>
<line x1="425.00" y1="45.00" x2="425.00" y2="66.00" stroke="#22a08c" stroke-width="1" opacity="0.8"/>
<line x1="423.00" y1="0.00" x2="423.00" y2="10.00" stroke="#22a08c" stroke-width="1" opacity="0.8"/>
<line x1="483.50" y1="115.00" x2="483.50" y2="140.00" stroke="#e5404f" stroke-width="1" opacity="0.8"/>
<line x1="506.50" y1="65.00" x2="506.50" y2="85.00" stroke="#e5404f" stroke-width="1" opacity="0.8"/>
<line x1="516.00" y1="60.00" x2="516.00" y2="75.00" stroke="#e5404f" stroke-width="1" opacity="0.8"/>
<line x1="525.50" y1="48.75" x2="525.50" y2="70.00" stroke="#22a08c" stroke-width="1" opacity="0.8"/>
<line x1="529.00" y1="55.00" x2="529.00" y2="90.00" stroke="#e5404f" stroke-width="1" opacity="0.8"/>
<line x1="540.50" y1="100.00" x2="540.50" y2="113.00" stroke="#e5404f" stroke-width="1" opacity="0.8"/>
<line x1="562.00" y1="125.00" x2="562.00" y2="135.00" stroke="#e5404f" stroke-width="1" opacity="0.8"/>
<line x1="598.50" y1="195.00" x2="598.50" y2="205.00" stroke="#e5404f" stroke-width="1" opacity="0.8"/>
<line x1="642.00" y1="140.00" x2="642.00" y2="150.00" stroke="#22a08c" stroke-width="1" opacity="0.8"/>
<line x1="662.00" y1="82.50" x2="662.00" y2="96.00" stroke="#e5404f" stroke-width="1" opacity="0.8"/>
<line x1="724.00" y1="137.50" x2="724.00" y2="155.00" stroke="#22a08c" stroke-width="1" opacity="0.8"/>
<line x1="747.50" y1="125.00" x2="747.50" y2="152.50" stroke="#e5404f" stroke-width="1" opacity="0.8"/>
<line x1="756.00" y1="145.00" x2="756.00" y2="157.50" stroke="#22a08c" stroke-width="1" opacity="0.8"/>
<line x1="760.50" y1="170.00" x2="760.50" y2="182.50" stroke="#e5404f" stroke-width="1" opacity="0.8"/>
<line x1="767.00" y1="147.50" x2="767.00" y2="162.00" stroke="#22a08c" stroke-width="1" opacity="0.8"/>
<line x1="769.50" y1="190.00" x2="769.50" y2="207.50" stroke="#22a08c" stroke-width="1" opacity="0.8"/>
<line x1="790.50" y1="212.50" x2="790.50" y2="218.00" stroke="#22a08c" stroke-width="1" opacity="0.8"/>
<line x1="701.00" y1="158.75" x2="701.00" y2="165.00" stroke="#e5404f" stroke-width="1" opacity="0.8"/>
<path d="M8.20 193.75h3.1v9.90h-3.1zM9.20 203.65h3.1v17.29h-3.1zM10.20 220.95h3.1v16.08h-3.1zM11.20 237.02h3.1v17.34h-3.1zM12.20 254.36h3.1v11.54h-3.1zM13.20 265.90h3.1v6.47h-3.1zM14.20 272.37h3.1v13.48h-3.1zM15.20 285.85h3.1v7.83h-3.1zM19.20 274.02h3.1v1.60h-3.1zM20.20 275.58h3.1v3.10h-3.1zM21.20 278.68h3.1v3.78h-3.1zM22.20 282.45h3.1v4.38h-3.1zM23.20 286.83h3.1v6.96h-3.1zM24.20 293.79h3.1v1.87h-3.1zM25.20 295.66h3.1v1.62h-3.1zM29.20 291.67h3.1v1.60h-3.1zM30.20 293.24h3.1v5.66h-3.1zM31.20 298.90h3.1v2.09h-3.1zM32.20 300.99h3.1v5.25h-3.1zM37.20 177.30h3.1v2.33h-3.1zM39.20 176.23h3.1v4.72h-3.1zM40.20 180.95h3.1v5.79h-3.1zM41.20 186.74h3.1v7.67h-3.1zM42.20 194.41h3.1v4.23h-3.1zM49.20 183.51h3.1v1.60h-3.1zM50.20 183.80h3.1v4.57h-3.1zM51.20 188.37h3.1v4.28h-3.1zM52.20 192.65h3.1v6.55h-3.1zM53.20 199.21h3.1v5.27h-3.1zM54.20 204.48h3.1v6.49h-3.1zM55.20 210.97h3.1v1.96h-3.1zM56.20 212.94h3.1v2.79h-3.1zM62.20 186.31h3.1v2.29h-3.1zM64.20 188.07h3.1v1.60h-3.1zM77.20 111.49h3.1v8.98h-3.1zM78.20 120.47h3.1v11.42h-3.1zM79.20 131.88h3.1v10.52h-3.1zM84.20 119.06h3.1v6.20h-3.1zM85.20 125.26h3.1v4.63h-3.1zM86.20 129.89h3.1v4.55h-3.1zM87.20 134.44h3.1v7.46h-3.1zM92.20 129.61h3.1v2.96h-3.1zM93.20 132.58h3.1v4.28h-3.1zM94.20 136.86h3.1v3.66h-3.1zM99.20 122.58h3.1v6.04h-3.1zM100.20 128.62h3.1v9.02h-3.1zM101.20 137.64h3.1v8.95h-3.1zM102.20 146.59h3.1v8.17h-3.1zM103.20 154.76h3.1v7.59h-3.1zM104.20 162.34h3.1v6.74h-3.1zM110.20 159.79h3.1v1.60h-3.1zM111.20 161.05h3.1v1.60h-3.1zM112.20 161.78h3.1v1.74h-3.1zM113.20 163.53h3.1v2.64h-3.1zM119.20 116.20h3.1v1.60h-3.1zM125.20 90.07h3.1v1.60h-3.1zM126.20 91.57h3.1v1.60h-3.1zM127.20 92.16h3.1v4.56h-3.1zM128.20 96.71h3.1v1.60h-3.1zM132.20 94.38h3.1v5.01h-3.1zM133.20 99.38h3.1v2.99h-3.1zM134.20 102.38h3.1v7.94h-3.1zM135.20 110.32h3.1v5.86h-3.1zM136.20 116.19h3.1v3.27h-3.1zM137.20 119.46h3.1v8.67h-3.1zM138.20 128.13h3.1v9.60h-3.1zM154.20 92.49h3.1v2.62h-3.1zM155.20 95.11h3.1v3.33h-3.1zM156.20 98.44h3.1v2.21h-3.1zM157.20 100.65h3.1v6.37h-3.1zM158.20 107.02h3.1v2.19h-3.1zM159.20 109.21h3.1v4.72h-3.1zM160.20 113.93h3.1v2.62h-3.1zM161.20 116.56h3.1v1.60h-3.1zM162.20 118.06h3.1v4.54h-3.1zM163.20 122.59h3.1v3.08h-3.1zM164.20 125.67h3.1v1.61h-3.1zM165.20 127.29h3.1v1.60h-3.1zM172.20 112.75h3.1v8.86h-3.1zM173.20 121.61h3.1v10.12h-3.1zM174.20 131.73h3.1v3.53h-3.1zM175.20 135.26h3.1v1.68h-3.1zM176.20 136.94h3.1v2.00h-3.1zM177.20 138.94h3.1v2.60h-3.1zM178.20 141.54h3.1v3.80h-3.1zM187.20 130.31h3.1v2.58h-3.1zM190.20 131.82h3.1v1.86h-3.1zM191.20 133.68h3.1v1.60h-3.1zM192.20 134.96h3.1v4.17h-3.1zM193.20 139.13h3.1v6.30h-3.1zM194.20 145.42h3.1v5.72h-3.1zM195.20 151.14h3.1v5.07h-3.1zM196.20 156.21h3.1v7.52h-3.1zM197.20 163.73h3.1v2.43h-3.1zM198.20 166.16h3.1v2.68h-3.1zM199.20 168.84h3.1v2.27h-3.1zM200.20 171.11h3.1v5.30h-3.1zM204.20 169.39h3.1v1.60h-3.1zM207.20 84.70h3.1v1.60h-3.1zM209.20 84.30h3.1v1.60h-3.1zM210.20 85.88h3.1v1.60h-3.1zM211.20 86.08h3.1v1.60h-3.1zM212.20 87.50h3.1v4.24h-3.1zM214.20 91.69h3.1v5.42h-3.1zM215.20 97.12h3.1v2.71h-3.1zM216.20 99.83h3.1v1.60h-3.1zM217.20 100.97h3.1v7.17h-3.1zM218.20 108.14h3.1v5.15h-3.1zM219.20 113.29h3.1v4.40h-3.1zM220.20 117.69h3.1v23.74h-3.1zM221.20 141.43h3.1v21.72h-3.1zM225.20 155.39h3.1v1.93h-3.1zM226.20 157.32h3.1v5.99h-3.1zM229.20 129.98h3.1v1.60h-3.1zM230.20 131.11h3.1v1.65h-3.1zM231.20 132.76h3.1v3.97h-3.1zM232.20 136.72h3.1v8.25h-3.1zM233.20 144.97h3.1v5.46h-3.1zM234.20 150.43h3.1v5.03h-3.1zM235.20 155.46h3.1v2.88h-3.1zM236.20 158.35h3.1v6.57h-3.1zM237.20 164.92h3.1v5.83h-3.1zM238.20 170.75h3.1v4.39h-3.1zM239.20 175.14h3.1v3.67h-3.1zM253.20 111.90h3.1v1.60h-3.1zM254.20 112.39h3.1v3.35h-3.1zM255.20 115.74h3.1v4.92h-3.1zM257.20 120.08h3.1v4.91h-3.1zM266.20 103.29h3.1v2.00h-3.1zM267.20 105.29h3.1v2.37h-3.1zM273.20 84.37h3.1v2.91h-3.1zM274.20 87.27h3.1v5.13h-3.1zM275.20 92.40h3.1v2.57h-3.1zM276.20 94.97h3.1v2.33h-3.1zM278.20 97.31h3.1v1.60h-3.1zM281.20 91.19h3.1v7.75h-3.1zM282.20 98.94h3.1v7.45h-3.1zM283.20 106.39h3.1v11.81h-3.1zM284.20 118.20h3.1v7.83h-3.1zM285.20 126.03h3.1v8.43h-3.1zM286.20 134.46h3.1v4.52h-3.1zM287.20 138.98h3.1v1.60h-3.1zM288.20 139.05h3.1v1.84h-3.1zM289.20 140.89h3.1v1.60h-3.1zM290.20 142.47h3.1v3.13h-3.1zM291.20 145.59h3.1v4.12h-3.1zM292.20 149.71h3.1v3.54h-3.1zM300.20 122.31h3.1v2.51h-3.1zM301.20 124.82h3.1v2.78h-3.1zM302.20 127.60h3.1v1.60h-3.1zM303.20 127.84h3.1v3.39h-3.1zM304.20 131.23h3.1v1.80h-3.1zM305.20 133.02h3.1v2.90h-3.1zM306.20 135.93h3.1v1.60h-3.1zM307.20 136.95h3.1v3.86h-3.1zM321.20 72.75h3.1v4.73h-3.1zM322.20 77.48h3.1v11.84h-3.1zM325.20 88.19h3.1v3.17h-3.1zM326.20 91.36h3.1v3.35h-3.1zM327.20 94.71h3.1v1.60h-3.1zM340.20 50.19h3.1v2.97h-3.1zM341.20 53.15h3.1v7.12h-3.1zM342.20 60.28h3.1v5.81h-3.1zM343.20 66.09h3.1v5.24h-3.1zM344.20 71.33h3.1v4.53h-3.1zM345.20 75.86h3.1v4.87h-3.1zM346.20 80.73h3.1v5.23h-3.1zM347.20 85.96h3.1v4.30h-3.1zM348.20 90.26h3.1v6.09h-3.1zM349.20 96.35h3.1v2.60h-3.1zM350.20 98.95h3.1v2.96h-3.1zM351.20 101.91h3.1v1.60h-3.1zM352.20 102.04h3.1v2.81h-3.1zM356.20 92.67h3.1v2.47h-3.1zM357.20 95.14h3.1v3.64h-3.1zM358.20 98.78h3.1v2.60h-3.1zM360.20 101.15h3.1v2.45h-3.1zM361.20 103.60h3.1v1.95h-3.1zM362.20 105.55h3.1v1.60h-3.1zM363.20 106.50h3.1v3.81h-3.1zM364.20 110.31h3.1v1.62h-3.1zM365.20 111.94h3.1v1.60h-3.1zM368.20 73.41h3.1v1.73h-3.1zM370.20 74.88h3.1v1.60h-3.1zM373.20 73.30h3.1v5.50h-3.1zM374.20 78.80h3.1v2.88h-3.1zM375.20 81.68h3.1v1.60h-3.1zM376.20 82.67h3.1v3.67h-3.1zM377.20 86.34h3.1v2.63h-3.1zM382.20 81.11h3.1v1.60h-3.1zM384.20 80.63h3.1v2.69h-3.1zM385.20 83.32h3.1v1.60h-3.1zM386.20 84.15h3.1v1.60h-3.1zM392.20 54.81h3.1v1.60h-3.1zM393.20 55.58h3.1v1.60h-3.1zM394.20 55.93h3.1v1.60h-3.1zM395.20 56.04h3.1v3.19h-3.1zM406.20 -7.25h3.1v1.60h-3.1zM408.20 -8.53h3.1v1.60h-3.1zM409.20 -7.38h3.1v3.42h-3.1zM410.20 -3.96h3.1v1.60h-3.1zM411.20 -3.06h3.1v5.18h-3.1zM412.20 2.12h3.1v3.26h-3.1zM413.20 5.38h3.1v3.74h-3.1zM414.20 9.12h3.1v3.67h-3.1zM415.20 12.79h3.1v1.60h-3.1zM416.20 14.15h3.1v4.25h-3.1zM417.20 18.39h3.1v1.93h-3.1zM418.20 20.32h3.1v1.78h-3.1zM422.20 8.04h3.1v2.33h-3.1zM423.20 10.38h3.1v5.17h-3.1zM424.20 15.55h3.1v8.93h-3.1zM425.20 24.48h3.1v24.41h-3.1zM429.20 40.24h3.1v1.60h-3.1zM430.20 41.73h3.1v3.96h-3.1zM431.20 45.69h3.1v6.88h-3.1zM432.20 52.57h3.1v3.42h-3.1zM433.20 55.98h3.1v7.44h-3.1zM434.20 63.42h3.1v4.14h-3.1zM435.20 67.56h3.1v8.77h-3.1zM437.20 71.28h3.1v1.60h-3.1zM440.20 69.21h3.1v3.47h-3.1zM441.20 72.69h3.1v5.71h-3.1zM442.20 78.39h3.1v2.55h-3.1zM455.20 26.89h3.1v4.02h-3.1zM456.20 30.91h3.1v2.19h-3.1zM457.20 33.09h3.1v2.12h-3.1zM463.20 20.03h3.1v4.85h-3.1zM464.20 24.87h3.1v2.22h-3.1zM465.20 27.09h3.1v3.50h-3.1zM466.20 30.59h3.1v8.72h-3.1zM467.20 39.30h3.1v9.86h-3.1zM468.20 49.16h3.1v7.27h-3.1zM469.20 56.43h3.1v4.14h-3.1zM470.20 60.57h3.1v7.58h-3.1zM471.20 68.15h3.1v3.27h-3.1zM472.20 71.42h3.1v4.24h-3.1zM474.20 70.54h3.1v1.60h-3.1zM477.20 65.55h3.1v1.60h-3.1zM478.20 66.61h3.1v1.60h-3.1zM479.20 67.81h3.1v4.58h-3.1zM480.20 72.39h3.1v4.76h-3.1zM481.20 77.15h3.1v20.43h-3.1zM482.20 97.58h3.1v19.50h-3.1zM483.20 117.08h3.1v3.63h-3.1zM484.20 120.71h3.1v7.29h-3.1zM493.20 98.35h3.1v2.84h-3.1zM495.20 99.58h3.1v1.60h-3.1zM502.20 83.77h3.1v1.60h-3.1zM504.20 82.21h3.1v1.60h-3.1zM506.20 82.54h3.1v1.60h-3.1zM507.20 83.80h3.1v1.60h-3.1zM510.20 83.35h3.1v1.60h-3.1zM517.20 73.53h3.1v1.60h-3.1zM519.20 74.25h3.1v2.67h-3.1zM525.20 68.74h3.1v5.15h-3.1zM526.20 73.89h3.1v5.53h-3.1zM527.20 79.42h3.1v2.42h-3.1zM528.20 81.84h3.1v1.60h-3.1zM532.20 79.81h3.1v1.60h-3.1zM538.20 64.40h3.1v19.28h-3.1zM539.20 83.68h3.1v21.51h-3.1zM552.20 68.29h3.1v1.60h-3.1zM553.20 68.73h3.1v5.80h-3.1zM554.20 74.54h3.1v4.16h-3.1zM555.20 78.69h3.1v3.80h-3.1zM556.20 82.49h3.1v3.12h-3.1zM557.20 85.61h3.1v6.83h-3.1zM558.20 92.44h3.1v15.44h-3.1zM559.20 107.89h3.1v15.74h-3.1zM566.20 93.64h3.1v1.60h-3.1zM567.20 94.70h3.1v3.69h-3.1zM568.20 98.40h3.1v2.48h-3.1zM569.20 100.88h3.1v2.79h-3.1zM570.20 103.67h3.1v6.08h-3.1zM571.20 109.75h3.1v6.51h-3.1zM572.20 116.27h3.1v8.24h-3.1zM573.20 124.51h3.1v1.97h-3.1zM574.20 126.48h3.1v1.60h-3.1zM575.20 127.91h3.1v2.27h-3.1zM576.20 130.18h3.1v1.60h-3.1zM577.20 130.90h3.1v4.64h-3.1zM578.20 135.54h3.1v1.60h-3.1zM579.20 136.79h3.1v13.56h-3.1zM580.20 150.35h3.1v6.93h-3.1zM581.20 157.28h3.1v1.60h-3.1zM582.20 157.96h3.1v1.99h-3.1zM583.20 159.95h3.1v2.00h-3.1zM584.20 161.94h3.1v3.44h-3.1zM585.20 165.39h3.1v2.41h-3.1zM592.20 142.06h3.1v8.08h-3.1zM593.20 150.14h3.1v12.04h-3.1zM594.20 162.18h3.1v2.04h-3.1zM595.20 164.22h3.1v2.07h-3.1zM596.20 166.29h3.1v14.92h-3.1zM597.20 181.21h3.1v18.43h-3.1zM604.20 188.60h3.1v1.60h-3.1zM605.20 189.45h3.1v2.89h-3.1zM606.20 192.33h3.1v4.54h-3.1zM611.20 152.33h3.1v3.66h-3.1zM612.20 155.99h3.1v3.45h-3.1zM613.20 159.44h3.1v5.80h-3.1zM616.20 158.31h3.1v2.45h-3.1zM617.20 160.76h3.1v9.57h-3.1zM618.20 170.33h3.1v5.47h-3.1zM619.20 175.80h3.1v4.23h-3.1zM620.20 180.03h3.1v3.02h-3.1zM621.20 183.05h3.1v5.12h-3.1zM622.20 188.17h3.1v1.60h-3.1zM624.20 187.08h3.1v1.82h-3.1zM626.20 187.95h3.1v1.65h-3.1zM627.20 189.60h3.1v7.76h-3.1zM628.20 197.36h3.1v7.57h-3.1zM629.20 204.93h3.1v4.02h-3.1zM633.20 166.83h3.1v2.91h-3.1zM641.20 146.91h3.1v1.60h-3.1zM642.20 147.79h3.1v2.21h-3.1zM643.20 150.00h3.1v1.60h-3.1zM650.20 127.28h3.1v1.84h-3.1zM652.20 128.37h3.1v1.60h-3.1zM661.20 94.94h3.1v1.60h-3.1zM662.20 95.97h3.1v2.39h-3.1zM663.20 98.36h3.1v11.64h-3.1zM664.20 110.00h3.1v7.23h-3.1zM665.20 117.23h3.1v5.02h-3.1zM666.20 122.25h3.1v4.11h-3.1zM667.20 126.36h3.1v4.36h-3.1zM668.20 130.72h3.1v1.60h-3.1zM673.20 121.19h3.1v4.23h-3.1zM674.20 125.41h3.1v1.73h-3.1zM675.20 127.14h3.1v4.93h-3.1zM677.20 131.70h3.1v3.85h-3.1zM678.20 135.56h3.1v1.82h-3.1zM679.20 137.37h3.1v2.70h-3.1zM680.20 140.07h3.1v1.89h-3.1zM681.20 141.95h3.1v2.95h-3.1zM682.20 144.90h3.1v1.60h-3.1zM683.20 145.89h3.1v1.60h-3.1zM684.20 146.20h3.1v4.66h-3.1zM685.20 150.85h3.1v3.61h-3.1zM686.20 154.46h3.1v5.91h-3.1zM687.20 160.37h3.1v2.89h-3.1zM688.20 163.26h3.1v3.52h-3.1zM689.20 166.78h3.1v2.74h-3.1zM690.20 169.52h3.1v1.60h-3.1zM694.20 169.62h3.1v1.60h-3.1zM695.20 170.00h3.1v3.25h-3.1zM696.20 173.25h3.1v1.60h-3.1zM697.20 173.58h3.1v5.69h-3.1zM698.20 179.27h3.1v1.60h-3.1zM701.20 161.53h3.1v2.19h-3.1zM702.20 163.72h3.1v3.46h-3.1zM703.20 167.18h3.1v2.11h-3.1zM704.20 169.29h3.1v1.60h-3.1zM705.20 169.94h3.1v1.98h-3.1zM706.20 171.92h3.1v5.19h-3.1zM708.20 176.64h3.1v2.48h-3.1zM713.20 158.78h3.1v1.72h-3.1zM715.20 160.29h3.1v3.02h-3.1zM718.20 161.63h3.1v1.60h-3.1zM719.20 162.66h3.1v3.67h-3.1zM724.20 149.80h3.1v1.60h-3.1zM726.20 147.97h3.1v1.60h-3.1zM728.20 147.93h3.1v1.85h-3.1zM729.20 149.78h3.1v1.65h-3.1zM730.20 151.43h3.1v1.60h-3.1zM736.20 137.75h3.1v1.89h-3.1zM745.20 126.59h3.1v1.67h-3.1zM746.20 128.26h3.1v1.93h-3.1zM747.20 130.19h3.1v1.60h-3.1zM748.20 131.32h3.1v1.60h-3.1zM750.20 131.11h3.1v2.30h-3.1zM751.20 133.41h3.1v1.96h-3.1zM752.20 135.37h3.1v1.60h-3.1zM753.20 136.93h3.1v3.79h-3.1zM754.20 140.72h3.1v5.53h-3.1zM757.20 124.68h3.1v1.60h-3.1zM758.20 125.68h3.1v1.60h-3.1zM759.20 126.89h3.1v33.63h-3.1zM760.20 160.51h3.1v10.77h-3.1zM765.20 162.04h3.1v3.28h-3.1zM766.20 165.31h3.1v4.02h-3.1zM767.20 169.33h3.1v6.28h-3.1zM768.20 175.61h3.1v16.03h-3.1zM769.20 191.65h3.1v4.07h-3.1zM772.20 192.48h3.1v1.60h-3.1zM773.20 193.69h3.1v1.60h-3.1zM775.20 191.81h3.1v1.60h-3.1zM776.20 191.94h3.1v1.60h-3.1zM777.20 193.05h3.1v2.52h-3.1zM779.20 194.78h3.1v13.47h-3.1zM780.20 208.25h3.1v5.90h-3.1zM781.20 214.15h3.1v3.10h-3.1zM782.20 217.25h3.1v4.62h-3.1zM783.20 221.86h3.1v1.60h-3.1zM787.20 216.61h3.1v1.67h-3.1z" fill="#e5404f" opacity="0.88"/>
<path d="M16.20 293.08h3.1v1.60h-3.1zM17.20 284.52h3.1v8.56h-3.1zM18.20 274.02h3.1v10.50h-3.1zM26.20 296.22h3.1v1.60h-3.1zM27.20 293.80h3.1v2.42h-3.1zM28.20 291.67h3.1v2.14h-3.1zM33.20 180.32h3.1v125.92h-3.1zM34.20 180.24h3.1v1.60h-3.1zM35.20 179.59h3.1v1.60h-3.1zM36.20 177.30h3.1v2.29h-3.1zM38.20 176.23h3.1v3.40h-3.1zM43.20 195.88h3.1v2.76h-3.1zM44.20 191.15h3.1v4.72h-3.1zM45.20 189.62h3.1v1.60h-3.1zM46.20 184.92h3.1v4.70h-3.1zM47.20 184.81h3.1v1.60h-3.1zM48.20 183.51h3.1v1.60h-3.1zM57.20 201.01h3.1v14.72h-3.1zM58.20 191.52h3.1v9.49h-3.1zM59.20 188.54h3.1v2.98h-3.1zM60.20 187.13h3.1v1.60h-3.1zM61.20 186.31h3.1v1.60h-3.1zM63.20 188.07h3.1v1.60h-3.1zM65.20 180.23h3.1v8.96h-3.1zM66.20 170.05h3.1v10.18h-3.1zM67.20 160.85h3.1v9.20h-3.1zM68.20 151.82h3.1v9.04h-3.1zM69.20 142.96h3.1v8.85h-3.1zM70.20 134.33h3.1v8.63h-3.1zM71.20 127.78h3.1v6.55h-3.1zM72.20 123.73h3.1v4.06h-3.1zM73.20 121.36h3.1v2.36h-3.1zM74.20 118.14h3.1v3.23h-3.1zM75.20 115.46h3.1v2.68h-3.1zM76.20 111.49h3.1v3.97h-3.1zM80.20 134.97h3.1v7.44h-3.1zM81.20 132.05h3.1v2.91h-3.1zM82.20 124.06h3.1v7.99h-3.1zM83.20 119.06h3.1v5.00h-3.1zM88.20 140.25h3.1v1.65h-3.1zM89.20 133.08h3.1v7.17h-3.1zM90.20 129.67h3.1v3.40h-3.1zM91.20 129.61h3.1v1.60h-3.1zM95.20 135.97h3.1v4.55h-3.1zM96.20 133.10h3.1v2.87h-3.1zM97.20 128.38h3.1v4.72h-3.1zM98.20 122.58h3.1v5.80h-3.1zM105.20 166.52h3.1v2.56h-3.1zM106.20 164.75h3.1v1.78h-3.1zM107.20 164.46h3.1v1.60h-3.1zM108.20 159.88h3.1v4.58h-3.1zM109.20 159.79h3.1v1.60h-3.1zM114.20 150.25h3.1v15.92h-3.1zM115.20 125.54h3.1v24.71h-3.1zM116.20 119.83h3.1v5.71h-3.1zM117.20 118.87h3.1v1.60h-3.1zM118.20 116.20h3.1v2.67h-3.1zM120.20 117.10h3.1v1.60h-3.1zM121.20 111.28h3.1v5.82h-3.1zM122.20 102.46h3.1v8.82h-3.1zM123.20 90.70h3.1v11.75h-3.1zM124.20 90.07h3.1v1.60h-3.1zM129.20 95.35h3.1v2.61h-3.1zM130.20 95.34h3.1v1.60h-3.1zM131.20 94.38h3.1v1.60h-3.1zM139.20 135.21h3.1v2.52h-3.1zM140.20 132.44h3.1v2.77h-3.1zM141.20 130.22h3.1v2.22h-3.1zM142.20 126.45h3.1v3.78h-3.1zM143.20 121.32h3.1v5.12h-3.1zM144.20 115.57h3.1v5.75h-3.1zM145.20 112.10h3.1v3.47h-3.1zM146.20 110.64h3.1v1.60h-3.1zM147.20 105.47h3.1v5.17h-3.1zM148.20 101.18h3.1v4.29h-3.1zM149.20 98.70h3.1v2.48h-3.1zM150.20 96.61h3.1v2.09h-3.1zM151.20 95.31h3.1v1.60h-3.1zM152.20 93.51h3.1v1.80h-3.1zM153.20 92.49h3.1v1.60h-3.1zM166.20 128.41h3.1v1.60h-3.1zM167.20 125.70h3.1v2.71h-3.1zM168.20 119.73h3.1v5.97h-3.1zM169.20 118.13h3.1v1.60h-3.1zM170.20 114.55h3.1v3.59h-3.1zM171.20 112.75h3.1v1.80h-3.1zM179.20 142.63h3.1v2.71h-3.1zM180.20 140.38h3.1v2.25h-3.1zM181.20 138.82h3.1v1.60h-3.1zM182.20 132.71h3.1v6.10h-3.1zM183.20 132.18h3.1v1.60h-3.1zM184.20 131.80h3.1v1.60h-3.1zM185.20 131.47h3.1v1.60h-3.1zM186.20 130.31h3.1v1.60h-3.1zM188.20 132.74h3.1v1.60h-3.1zM189.20 131.82h3.1v1.60h-3.1zM201.20 176.17h3.1v1.60h-3.1zM202.20 172.41h3.1v3.75h-3.1zM203.20 169.39h3.1v3.02h-3.1zM205.20 124.80h3.1v44.80h-3.1zM206.20 84.70h3.1v40.10h-3.1zM208.20 84.30h3.1v1.60h-3.1zM213.20 91.69h3.1v1.60h-3.1zM222.20 161.60h3.1v1.60h-3.1zM223.20 159.07h3.1v2.53h-3.1zM224.20 155.39h3.1v3.68h-3.1zM227.20 157.07h3.1v6.24h-3.1zM228.20 129.98h3.1v27.10h-3.1zM240.20 170.93h3.1v7.88h-3.1zM241.20 162.18h3.1v8.75h-3.1zM242.20 156.30h3.1v5.88h-3.1zM243.20 148.95h3.1v7.35h-3.1zM244.20 146.28h3.1v2.67h-3.1zM245.20 139.90h3.1v6.38h-3.1zM246.20 136.46h3.1v3.45h-3.1zM247.20 131.83h3.1v4.63h-3.1zM248.20 130.04h3.1v1.79h-3.1zM249.20 125.08h3.1v4.96h-3.1zM250.20 122.80h3.1v2.28h-3.1zM251.20 117.51h3.1v5.29h-3.1zM252.20 111.90h3.1v5.60h-3.1zM256.20 120.08h3.1v1.60h-3.1zM258.20 122.36h3.1v2.63h-3.1zM259.20 122.28h3.1v1.60h-3.1zM260.20 118.99h3.1v3.29h-3.1zM261.20 115.76h3.1v3.23h-3.1zM262.20 111.28h3.1v4.48h-3.1zM263.20 106.73h3.1v4.54h-3.1zM264.20 104.14h3.1v2.60h-3.1zM265.20 103.29h3.1v1.60h-3.1zM268.20 103.61h3.1v4.05h-3.1zM269.20 98.56h3.1v5.05h-3.1zM270.20 96.70h3.1v1.86h-3.1zM271.20 91.96h3.1v4.74h-3.1zM272.20 84.37h3.1v7.60h-3.1zM277.20 97.31h3.1v1.60h-3.1zM279.20 96.25h3.1v1.60h-3.1zM280.20 91.19h3.1v5.05h-3.1zM293.20 148.45h3.1v4.80h-3.1zM294.20 143.18h3.1v5.27h-3.1zM295.20 137.52h3.1v5.66h-3.1zM296.20 134.55h3.1v2.97h-3.1zM297.20 128.26h3.1v6.29h-3.1zM298.20 125.16h3.1v3.10h-3.1zM299.20 122.31h3.1v2.84h-3.1zM308.20 137.43h3.1v3.38h-3.1zM309.20 134.72h3.1v2.71h-3.1zM310.20 133.36h3.1v1.60h-3.1zM311.20 131.64h3.1v1.73h-3.1zM312.20 131.22h3.1v1.60h-3.1zM313.20 126.15h3.1v5.07h-3.1zM314.20 125.56h3.1v1.60h-3.1zM315.20 121.03h3.1v4.54h-3.1zM316.20 116.57h3.1v4.45h-3.1zM317.20 114.65h3.1v1.92h-3.1zM318.20 110.96h3.1v3.69h-3.1zM319.20 101.36h3.1v9.60h-3.1zM320.20 72.75h3.1v28.61h-3.1zM323.20 88.92h3.1v1.60h-3.1zM324.20 88.19h3.1v1.60h-3.1zM328.20 92.13h3.1v3.03h-3.1zM329.20 88.60h3.1v3.53h-3.1zM330.20 83.65h3.1v4.95h-3.1zM331.20 78.40h3.1v5.25h-3.1zM332.20 73.72h3.1v4.69h-3.1zM333.20 70.32h3.1v3.40h-3.1zM334.20 65.31h3.1v5.01h-3.1zM335.20 60.46h3.1v4.85h-3.1zM336.20 58.41h3.1v2.05h-3.1zM337.20 55.13h3.1v3.28h-3.1zM338.20 54.49h3.1v1.60h-3.1zM339.20 50.19h3.1v4.30h-3.1zM353.20 102.33h3.1v2.53h-3.1zM354.20 96.40h3.1v5.92h-3.1zM355.20 92.67h3.1v3.73h-3.1zM359.20 101.15h3.1v1.60h-3.1zM366.20 82.70h3.1v29.91h-3.1zM367.20 73.41h3.1v9.29h-3.1zM369.20 74.88h3.1v1.60h-3.1zM371.20 73.47h3.1v2.75h-3.1zM372.20 73.30h3.1v1.60h-3.1zM378.20 87.38h3.1v1.60h-3.1zM379.20 84.80h3.1v2.58h-3.1zM380.20 84.18h3.1v1.60h-3.1zM381.20 81.11h3.1v3.07h-3.1zM383.20 80.63h3.1v1.60h-3.1zM387.20 75.72h3.1v9.74h-3.1zM388.20 64.31h3.1v11.40h-3.1zM389.20 58.72h3.1v5.59h-3.1zM390.20 57.19h3.1v1.60h-3.1zM391.20 54.81h3.1v2.38h-3.1zM396.20 51.10h3.1v8.12h-3.1zM397.20 43.51h3.1v7.60h-3.1zM398.20 36.48h3.1v7.02h-3.1zM399.20 30.54h3.1v5.94h-3.1zM400.20 19.74h3.1v10.80h-3.1zM401.20 8.58h3.1v11.16h-3.1zM402.20 1.11h3.1v7.47h-3.1zM403.20 -2.97h3.1v4.08h-3.1zM404.20 -4.31h3.1v1.60h-3.1zM405.20 -7.25h3.1v2.94h-3.1zM407.20 -8.53h3.1v1.60h-3.1zM419.20 20.45h3.1v1.66h-3.1zM420.20 13.92h3.1v6.53h-3.1zM421.20 8.04h3.1v5.88h-3.1zM426.20 44.38h3.1v4.51h-3.1zM427.20 43.01h3.1v1.60h-3.1zM428.20 40.24h3.1v2.77h-3.1zM436.20 71.28h3.1v5.06h-3.1zM438.20 70.18h3.1v2.16h-3.1zM439.20 69.21h3.1v1.60h-3.1zM443.20 73.59h3.1v7.35h-3.1zM444.20 68.07h3.1v5.51h-3.1zM445.20 58.27h3.1v9.81h-3.1zM446.20 50.74h3.1v7.52h-3.1zM447.20 44.75h3.1v6.00h-3.1zM448.20 43.37h3.1v1.60h-3.1zM449.20 38.57h3.1v4.81h-3.1zM450.20 33.73h3.1v4.83h-3.1zM451.20 32.33h3.1v1.60h-3.1zM452.20 28.24h3.1v4.09h-3.1zM453.20 27.22h3.1v1.60h-3.1zM454.20 26.89h3.1v1.60h-3.1zM458.20 30.76h3.1v4.45h-3.1zM459.20 27.78h3.1v2.98h-3.1zM460.20 22.21h3.1v5.57h-3.1zM461.20 20.46h3.1v1.75h-3.1zM462.20 20.03h3.1v1.60h-3.1zM473.20 70.54h3.1v5.12h-3.1zM475.20 67.39h3.1v3.56h-3.1zM476.20 65.55h3.1v1.85h-3.1zM485.20 124.69h3.1v3.31h-3.1zM486.20 122.70h3.1v1.99h-3.1zM487.20 121.89h3.1v1.60h-3.1zM488.20 116.91h3.1v4.98h-3.1zM489.20 114.32h3.1v2.59h-3.1zM490.20 106.56h3.1v7.76h-3.1zM491.20 102.60h3.1v3.96h-3.1zM492.20 98.35h3.1v4.25h-3.1zM494.20 99.58h3.1v1.61h-3.1zM496.20 97.48h3.1v2.60h-3.1zM497.20 97.00h3.1v1.60h-3.1zM498.20 96.74h3.1v1.60h-3.1zM499.20 93.59h3.1v3.15h-3.1zM500.20 85.12h3.1v8.46h-3.1zM501.20 83.77h3.1v1.60h-3.1zM503.20 82.21h3.1v2.10h-3.1zM505.20 82.54h3.1v1.60h-3.1zM508.20 83.84h3.1v1.60h-3.1zM509.20 83.35h3.1v1.60h-3.1zM511.20 80.78h3.1v2.58h-3.1zM512.20 77.56h3.1v3.21h-3.1zM513.20 75.58h3.1v1.99h-3.1zM514.20 74.14h3.1v1.60h-3.1zM515.20 73.54h3.1v1.60h-3.1zM516.20 73.53h3.1v1.60h-3.1zM518.20 74.25h3.1v1.60h-3.1zM520.20 75.64h3.1v1.60h-3.1zM521.20 75.26h3.1v1.60h-3.1zM522.20 73.47h3.1v1.79h-3.1zM523.20 71.01h3.1v2.45h-3.1zM524.20 68.74h3.1v2.27h-3.1zM529.20 81.64h3.1v1.60h-3.1zM530.20 80.83h3.1v1.60h-3.1zM531.20 79.81h3.1v1.60h-3.1zM533.20 76.06h3.1v4.59h-3.1zM534.20 72.12h3.1v3.94h-3.1zM535.20 65.32h3.1v6.81h-3.1zM536.20 65.00h3.1v1.60h-3.1zM537.20 64.40h3.1v1.60h-3.1zM540.20 98.70h3.1v6.49h-3.1zM541.20 95.74h3.1v2.96h-3.1zM542.20 91.47h3.1v4.27h-3.1zM543.20 87.51h3.1v3.95h-3.1zM544.20 86.48h3.1v1.60h-3.1zM545.20 84.19h3.1v2.29h-3.1zM546.20 79.78h3.1v4.40h-3.1zM547.20 77.58h3.1v2.20h-3.1zM548.20 75.92h3.1v1.66h-3.1zM549.20 72.22h3.1v3.70h-3.1zM550.20 70.33h3.1v1.89h-3.1zM551.20 68.29h3.1v2.04h-3.1zM560.20 122.61h3.1v1.60h-3.1zM561.20 113.70h3.1v8.91h-3.1zM562.20 103.36h3.1v10.34h-3.1zM563.20 95.02h3.1v8.34h-3.1zM564.20 93.69h3.1v1.60h-3.1zM565.20 93.64h3.1v1.60h-3.1zM586.20 166.41h3.1v1.60h-3.1zM587.20 158.59h3.1v7.82h-3.1zM588.20 153.36h3.1v5.23h-3.1zM589.20 148.48h3.1v4.88h-3.1zM590.20 146.35h3.1v2.13h-3.1zM591.20 142.06h3.1v4.29h-3.1zM598.20 197.68h3.1v1.96h-3.1zM599.20 193.79h3.1v3.89h-3.1zM600.20 192.25h3.1v1.60h-3.1zM601.20 191.21h3.1v1.60h-3.1zM602.20 189.21h3.1v2.00h-3.1zM603.20 188.60h3.1v1.60h-3.1zM607.20 177.04h3.1v19.84h-3.1zM608.20 153.47h3.1v23.57h-3.1zM609.20 152.94h3.1v1.60h-3.1zM610.20 152.33h3.1v1.60h-3.1zM614.20 162.41h3.1v2.83h-3.1zM615.20 158.31h3.1v4.09h-3.1zM623.20 187.08h3.1v2.43h-3.1zM625.20 187.95h3.1v1.60h-3.1zM630.20 207.69h3.1v1.60h-3.1zM631.20 167.22h3.1v40.46h-3.1zM632.20 166.83h3.1v1.60h-3.1zM634.20 168.85h3.1v1.60h-3.1zM635.20 164.16h3.1v4.69h-3.1zM636.20 159.41h3.1v4.74h-3.1zM637.20 157.56h3.1v1.86h-3.1zM638.20 154.73h3.1v2.83h-3.1zM639.20 152.73h3.1v2.00h-3.1zM640.20 146.91h3.1v5.82h-3.1zM644.20 146.33h3.1v4.00h-3.1zM645.20 141.65h3.1v4.68h-3.1zM646.20 137.45h3.1v4.20h-3.1zM647.20 130.40h3.1v7.04h-3.1zM648.20 128.59h3.1v1.81h-3.1zM649.20 127.28h3.1v1.60h-3.1zM651.20 128.37h3.1v1.60h-3.1zM653.20 126.11h3.1v2.46h-3.1zM654.20 119.74h3.1v6.37h-3.1zM655.20 114.33h3.1v5.42h-3.1zM656.20 110.28h3.1v4.05h-3.1zM657.20 104.95h3.1v5.33h-3.1zM658.20 98.47h3.1v6.48h-3.1zM659.20 97.65h3.1v1.60h-3.1zM660.20 94.94h3.1v2.71h-3.1zM669.20 131.53h3.1v1.60h-3.1zM670.20 128.16h3.1v3.37h-3.1zM671.20 125.43h3.1v2.73h-3.1zM672.20 121.19h3.1v4.25h-3.1zM676.20 131.70h3.1v1.60h-3.1zM691.20 170.61h3.1v1.60h-3.1zM692.20 169.77h3.1v1.60h-3.1zM693.20 169.62h3.1v1.60h-3.1zM699.20 166.57h3.1v13.61h-3.1zM700.20 161.53h3.1v5.05h-3.1zM707.20 176.64h3.1v1.60h-3.1zM709.20 178.49h3.1v1.60h-3.1zM710.20 173.71h3.1v4.78h-3.1zM711.20 166.49h3.1v7.22h-3.1zM712.20 158.78h3.1v7.71h-3.1zM714.20 160.29h3.1v1.60h-3.1zM716.20 161.95h3.1v1.60h-3.1zM717.20 161.63h3.1v1.60h-3.1zM720.20 163.32h3.1v3.01h-3.1zM721.20 157.73h3.1v5.59h-3.1zM722.20 151.08h3.1v6.65h-3.1zM723.20 149.80h3.1v1.60h-3.1zM725.20 147.97h3.1v2.53h-3.1zM727.20 147.93h3.1v1.60h-3.1zM731.20 152.03h3.1v1.60h-3.1zM732.20 145.84h3.1v6.19h-3.1zM733.20 139.47h3.1v6.37h-3.1zM734.20 138.62h3.1v1.60h-3.1zM735.20 137.75h3.1v1.60h-3.1zM737.20 137.68h3.1v1.96h-3.1zM738.20 136.44h3.1v1.60h-3.1zM739.20 131.88h3.1v4.56h-3.1zM740.20 130.06h3.1v1.81h-3.1zM741.20 129.07h3.1v1.60h-3.1zM742.20 128.46h3.1v1.60h-3.1zM743.20 127.85h3.1v1.60h-3.1zM744.20 126.59h3.1v1.60h-3.1zM749.20 131.11h3.1v1.60h-3.1zM755.20 138.16h3.1v8.10h-3.1zM756.20 124.68h3.1v13.48h-3.1zM761.20 169.80h3.1v1.60h-3.1zM762.20 169.54h3.1v1.60h-3.1zM763.20 166.48h3.1v3.06h-3.1zM764.20 162.04h3.1v4.44h-3.1zM770.20 192.98h3.1v2.74h-3.1zM771.20 192.48h3.1v1.60h-3.1zM774.20 191.81h3.1v3.40h-3.1zM778.20 194.78h3.1v1.60h-3.1zM784.20 218.97h3.1v2.95h-3.1zM785.20 218.83h3.1v1.60h-3.1zM786.20 216.61h3.1v2.22h-3.1zM788.20 215.90h3.1v2.38h-3.1zM789.20 215.44h3.1v1.60h-3.1z" fill="#22a08c" opacity="0.88"/>
</g>
<line x1="7.8" y1="19.5" x2="868" y2="19.5" stroke="#d03f55" stroke-width="1.9" stroke-dasharray="7.2 8.74"/>
<line x1="5.8" y1="19.5" x2="8" y2="19.5" stroke="#d03f55" stroke-width="1.9" opacity="0.8"/>
<line x1="7.8" y1="49" x2="868" y2="49" stroke="#d03f55" stroke-width="1.9" stroke-dasharray="7.2 8.74"/>
<line x1="5.8" y1="49" x2="8" y2="49" stroke="#d03f55" stroke-width="1.9" opacity="0.8"/>
<line x1="7.8" y1="81.5" x2="868" y2="81.5" stroke="#d03f55" stroke-width="1.9" stroke-dasharray="7.2 8.74"/>
<line x1="5.8" y1="81.5" x2="8" y2="81.5" stroke="#d03f55" stroke-width="1.9" opacity="0.8"/>
<line x1="7.8" y1="123.8" x2="868" y2="123.8" stroke="#d03f55" stroke-width="1.9" stroke-dasharray="7.2 8.74"/>
<line x1="5.8" y1="123.8" x2="8" y2="123.8" stroke="#d03f55" stroke-width="1.9" opacity="0.8"/>
<line x1="7.8" y1="147.6" x2="868" y2="147.6" stroke="#d03f55" stroke-width="1.9" stroke-dasharray="7.2 8.74"/>
<line x1="5.8" y1="147.6" x2="8" y2="147.6" stroke="#d03f55" stroke-width="1.9" opacity="0.8"/>
<line x1="7.8" y1="186.2" x2="868" y2="186.2" stroke="#d03f55" stroke-width="1.9" stroke-dasharray="7.2 8.74"/>
<line x1="5.8" y1="186.2" x2="8" y2="186.2" stroke="#d03f55" stroke-width="1.9" opacity="0.8"/>
<line x1="8" y1="216.7" x2="868" y2="216.7" stroke="#9fdcd2" stroke-width="0.8"/>
<line x1="4.8" y1="219.6" x2="8" y2="219.6" stroke="#2a6d60" stroke-width="2.2"/>
<line x1="7.8" y1="219.6" x2="868" y2="219.6" stroke="#2a9d88" stroke-width="2.2" stroke-dasharray="7.2 8.74"/>
<line x1="653" y1="122.5" x2="852.5" y2="122.5" stroke="#7d7f88" stroke-width="1.8"/>
<line x1="660" y1="184.7" x2="852.5" y2="184.7" stroke="#7d7f88" stroke-width="1.8"/>
<line x1="661" y1="200.6" x2="851.5" y2="200.6" stroke="#f0a93a" stroke-width="2.2"/>
<line x1="661" y1="221.7" x2="853.5" y2="221.7" stroke="#3f6fd6" stroke-width="2.2"/>
<line x1="661" y1="282.7" x2="852" y2="282.7" stroke="#ea5a64" stroke-width="2.2"/>
<line x1="661" y1="344.3" x2="852" y2="344.3" stroke="#9b4fb5" stroke-width="2.2"/>
<line x1="528.5" y1="50" x2="778.5" y2="128" stroke="#d93a4e" stroke-width="2" stroke-linecap="round"/>
<line x1="634.5" y1="210.5" x2="777.5" y2="160" stroke="#d93a4e" stroke-width="2" stroke-linecap="round"/>
<line x1="547" y1="58" x2="634.5" y2="210.8" stroke="#26272c" stroke-width="1.6" stroke-linecap="round"/>
<path d="M638.2 200.5L634.7 211.2L626 208.6" fill="none" stroke="#26272c" stroke-width="1.8" stroke-linecap="round" stroke-linejoin="round"/>
<line x1="756" y1="125" x2="841.5" y2="276" stroke="#33343a" stroke-width="2.2" stroke-dasharray="7.5 10.3"/>
<path d="M846 268L841.8 276.3L834 278.2" fill="none" stroke="#33343a" stroke-width="2" stroke-dasharray="5 3"/>
<g clip-path="url(#cr)">
<polyline points="10.0,421.5 32.5,421.5 33.0,391.0 37.5,389.8 42.5,392.0 50.0,391.0 53.8,396.0 56.0,398.5 60.0,391.0 66.0,389.8 70.0,381.0 73.8,378.5 77.0,376.5 80.0,389.8 83.8,386.0 87.5,391.0 91.0,390.0 95.0,394.8 98.8,389.8 102.5,398.5 106.0,403.5 110.0,401.0 113.8,399.8 116.0,389.8 120.0,387.0 125.0,382.0 128.8,383.5 132.5,391.0 136.0,396.0 138.8,403.5 143.8,399.8 147.5,392.0 151.0,389.8 156.0,391.0 160.0,398.5 165.0,402.0 167.5,403.0 171.0,396.0 175.0,404.8 178.8,408.5 183.8,404.8 188.8,403.5 192.5,399.8 196.0,412.0 200.0,416.0 203.8,413.5 206.0,391.0 208.8,384.8 212.5,386.0 217.5,391.0 221.0,408.5 225.0,406.0 228.0,403.5 234.0,401.0 239.0,411.0 244.0,399.8 249.0,397.0 254.0,389.8 259.0,394.8 264.0,389.8 269.0,392.0 273.0,386.0 278.0,391.0 282.0,391.0 285.5,404.8 289.0,404.8 293.5,409.8 299.0,397.0 303.0,399.8 308.0,403.5 313.0,399.8 318.0,393.5 321.0,378.5 323.0,389.8 328.0,391.0 332.0,388.5 336.8,382.0 340.5,384.8 345.5,393.5 349.0,401.0 353.0,399.8 357.0,398.5 360.5,402.0 365.5,406.0 368.0,392.0 373.0,391.0 375.5,397.0 379.0,393.5 383.0,397.0 388.0,392.0 391.8,386.0 395.5,387.0 399.0,382.0 403.0,376.0 406.8,374.8 409.0,382.0 414.0,382.0 418.0,391.0 421.8,389.8 425.5,402.0 429.0,399.8 434.0,412.0 439.0,409.8 443.5,412.0 448.0,398.5 451.8,393.5 456.0,394.8 459.8,391.0 463.5,389.8 467.0,398.5 471.0,408.5 474.8,409.8 478.5,407.0 482.0,417.0 484.8,420.5 488.5,416.0 492.0,414.8 496.0,406.0 501.0,398.5 506.0,397.0 512.0,398.5 514.8,393.5 519.8,396.0 524.0,392.0 528.5,401.0 533.5,396.0 537.0,391.0 539.8,407.0 543.5,399.8 548.5,397.0 553.5,393.5 557.0,401.0 561.0,413.5 564.8,402.0 569.8,403.5 573.5,409.8 578.5,412.0 582.0,416.0 587.0,417.0 592.0,407.0 594.8,412.0 598.5,418.5 603.5,416.0 607.0,412.0 609.0,402.0 613.5,399.8 618.5,406.0 623.5,408.5 628.5,409.8 631.0,411.0 633.5,398.5 637.0,397.0 641.0,392.0 644.8,393.5 649.8,388.5 653.5,389.8 657.0,382.0 661.5,379.8 664.8,391.0 668.5,397.0 673.5,394.8 678.5,401.0 684.0,403.5 687.8,409.8 692.8,413.5 696.5,411.0 699.0,417.0 701.5,406.0 705.0,407.0 709.0,408.5 712.8,401.0 717.8,399.8 722.8,396.0 727.8,394.8 731.5,397.0 734.0,391.0 737.8,392.0 741.5,388.0 746.5,389.8 750.0,391.0 754.0,399.8 757.8,391.0 760.0,407.0 764.0,403.5 767.8,412.0 771.5,414.8 776.5,413.0 780.0,417.0 782.8,419.0 785.0,416.0 790.0,413.5" fill="none" stroke="#a57bd4" stroke-width="1.3" stroke-linejoin="round"/>
</g>
<line x1="8" y1="422" x2="33" y2="422" stroke="#555" stroke-width="1" stroke-dasharray="3 3"/>
<g clip-path="url(#cm)">
<path d="M34.25 426.00h1.5v18.75h-1.5zM36.25 424.50h1.5v20.25h-1.5zM38.25 423.75h1.5v21.00h-1.5zM40.25 423.75h1.5v21.00h-1.5zM42.25 423.75h1.5v21.00h-1.5zM44.25 423.75h1.5v21.00h-1.5zM46.25 423.75h1.5v21.00h-1.5zM62.25 437.92h1.5v6.83h-1.5zM64.25 434.25h1.5v10.50h-1.5zM66.25 430.58h1.5v14.17h-1.5zM68.25 429.25h1.5v15.50h-1.5zM118.25 442.75h1.5v2.00h-1.5zM120.25 439.55h1.5v5.20h-1.5zM122.25 436.35h1.5v8.40h-1.5zM124.25 435.89h1.5v8.86h-1.5zM206.25 437.00h1.5v7.75h-1.5zM208.25 431.50h1.5v13.25h-1.5zM210.25 430.35h1.5v14.40h-1.5zM246.25 444.08h1.5v0.67h-1.5zM248.25 442.75h1.5v2.00h-1.5zM250.25 440.60h1.5v4.15h-1.5zM252.25 438.44h1.5v6.31h-1.5zM254.25 436.29h1.5v8.46h-1.5zM262.25 437.66h1.5v7.09h-1.5zM264.25 436.93h1.5v7.82h-1.5zM270.25 437.75h1.5v7.00h-1.5zM272.25 435.75h1.5v9.00h-1.5zM314.25 443.55h1.5v1.20h-1.5zM316.25 442.75h1.5v2.00h-1.5zM318.25 438.42h1.5v6.33h-1.5zM320.25 434.08h1.5v10.67h-1.5zM322.25 429.75h1.5v15.00h-1.5zM332.25 435.75h1.5v9.00h-1.5zM334.25 435.08h1.5v9.67h-1.5zM336.25 434.75h1.5v10.00h-1.5zM338.25 434.75h1.5v10.00h-1.5zM370.25 443.75h1.5v1.00h-1.5zM372.25 443.75h1.5v1.00h-1.5zM374.25 443.75h1.5v1.00h-1.5zM376.25 443.75h1.5v1.00h-1.5zM378.25 443.75h1.5v1.00h-1.5zM380.25 443.75h1.5v1.00h-1.5zM382.25 443.75h1.5v1.00h-1.5zM384.25 443.75h1.5v1.00h-1.5zM386.25 443.75h1.5v1.00h-1.5zM388.25 442.75h1.5v2.00h-1.5zM390.25 441.30h1.5v3.45h-1.5zM392.25 439.84h1.5v4.91h-1.5zM394.25 438.39h1.5v6.36h-1.5zM396.25 436.93h1.5v7.82h-1.5zM398.25 435.48h1.5v9.27h-1.5zM400.25 433.56h1.5v11.19h-1.5zM402.25 431.19h1.5v13.56h-1.5zM404.25 428.82h1.5v15.93h-1.5zM406.25 427.37h1.5v17.38h-1.5zM452.25 441.25h1.5v3.50h-1.5zM454.25 438.25h1.5v6.50h-1.5zM456.25 436.58h1.5v8.17h-1.5zM458.25 436.25h1.5v8.50h-1.5zM460.25 435.92h1.5v8.83h-1.5zM498.25 442.28h1.5v2.47h-1.5zM500.25 440.42h1.5v4.33h-1.5zM502.25 438.55h1.5v6.20h-1.5zM504.25 436.68h1.5v8.07h-1.5zM506.25 435.64h1.5v9.11h-1.5zM508.25 435.42h1.5v9.33h-1.5zM510.25 435.19h1.5v9.56h-1.5zM512.25 434.97h1.5v9.78h-1.5zM514.25 434.75h1.5v10.00h-1.5zM608.25 442.13h1.5v2.62h-1.5zM610.25 439.67h1.5v5.08h-1.5zM612.25 437.21h1.5v7.54h-1.5zM614.25 434.75h1.5v10.00h-1.5zM630.25 442.75h1.5v2.00h-1.5zM632.25 441.19h1.5v3.56h-1.5zM634.25 439.64h1.5v5.11h-1.5zM636.25 438.08h1.5v6.67h-1.5zM638.25 436.53h1.5v8.22h-1.5zM640.25 435.12h1.5v9.62h-1.5zM642.25 433.88h1.5v10.88h-1.5zM644.25 432.62h1.5v12.12h-1.5zM646.25 431.38h1.5v13.38h-1.5zM648.25 430.50h1.5v14.25h-1.5zM650.25 430.00h1.5v14.75h-1.5zM714.25 443.38h1.5v1.38h-1.5zM716.25 442.62h1.5v2.12h-1.5zM718.25 441.88h1.5v2.88h-1.5zM720.25 441.12h1.5v3.62h-1.5zM722.25 440.50h1.5v4.25h-1.5zM724.25 440.00h1.5v4.75h-1.5zM726.25 439.50h1.5v5.25h-1.5zM728.25 439.00h1.5v5.75h-1.5zM730.25 438.85h1.5v5.90h-1.5z" fill="#3aa897"/>
<path d="M48.25 426.89h1.5v17.86h-1.5zM50.25 430.04h1.5v14.71h-1.5zM52.25 433.18h1.5v11.57h-1.5zM54.25 435.75h1.5v9.00h-1.5zM56.25 437.75h1.5v7.00h-1.5zM58.25 439.75h1.5v5.00h-1.5zM60.25 440.25h1.5v4.50h-1.5zM70.25 430.25h1.5v14.50h-1.5zM72.25 432.08h1.5v12.67h-1.5zM74.25 434.75h1.5v10.00h-1.5zM76.25 437.42h1.5v7.33h-1.5zM78.25 439.75h1.5v5.00h-1.5zM80.25 441.75h1.5v3.00h-1.5zM82.25 443.75h1.5v1.00h-1.5zM126.25 438.18h1.5v6.57h-1.5zM128.25 441.32h1.5v3.43h-1.5zM212.25 433.55h1.5v11.20h-1.5zM214.25 436.75h1.5v8.00h-1.5zM216.25 440.75h1.5v4.00h-1.5zM256.25 436.75h1.5v8.00h-1.5zM258.25 438.08h1.5v6.67h-1.5zM260.25 438.39h1.5v6.36h-1.5zM266.25 437.42h1.5v7.33h-1.5zM268.25 438.31h1.5v6.44h-1.5zM274.25 437.35h1.5v7.40h-1.5zM276.25 438.95h1.5v5.80h-1.5zM278.25 440.75h1.5v4.00h-1.5zM280.25 442.75h1.5v2.00h-1.5zM324.25 431.75h1.5v13.00h-1.5zM326.25 433.75h1.5v11.00h-1.5zM328.25 435.75h1.5v9.00h-1.5zM330.25 436.42h1.5v8.33h-1.5zM340.25 436.08h1.5v8.67h-1.5zM342.25 438.75h1.5v6.00h-1.5zM344.25 443.55h1.5v1.20h-1.5zM408.25 432.29h1.5v12.46h-1.5zM410.25 436.02h1.5v8.73h-1.5zM412.25 438.57h1.5v6.18h-1.5zM414.25 441.11h1.5v3.64h-1.5zM462.25 436.67h1.5v8.08h-1.5zM464.25 438.52h1.5v6.23h-1.5zM466.25 440.37h1.5v4.38h-1.5zM516.25 435.95h1.5v8.80h-1.5zM518.25 437.15h1.5v7.60h-1.5zM520.25 438.58h1.5v6.17h-1.5zM522.25 440.25h1.5v4.50h-1.5zM524.25 441.92h1.5v2.83h-1.5zM526.25 443.75h1.5v1.00h-1.5zM616.25 437.08h1.5v7.67h-1.5zM618.25 439.42h1.5v5.33h-1.5zM620.25 441.75h1.5v3.00h-1.5zM622.25 443.75h1.5v1.00h-1.5zM652.25 430.25h1.5v14.50h-1.5zM654.25 431.25h1.5v13.50h-1.5zM656.25 432.25h1.5v12.50h-1.5zM658.25 433.75h1.5v11.00h-1.5zM660.25 435.75h1.5v9.00h-1.5zM662.25 437.75h1.5v7.00h-1.5zM664.25 439.64h1.5v5.11h-1.5zM666.25 441.42h1.5v3.33h-1.5zM668.25 443.75h1.5v1.00h-1.5zM732.25 439.05h1.5v5.70h-1.5zM734.25 439.25h1.5v5.50h-1.5zM736.25 439.45h1.5v5.30h-1.5zM738.25 439.65h1.5v5.10h-1.5zM740.25 440.00h1.5v4.75h-1.5zM742.25 440.50h1.5v4.25h-1.5zM744.25 441.00h1.5v3.75h-1.5zM746.25 441.50h1.5v3.25h-1.5zM748.25 442.32h1.5v2.43h-1.5zM750.25 443.46h1.5v1.29h-1.5z" fill="#b7e0da"/>
<path d="M8.25 444.75h1.5v5.00h-1.5zM10.25 444.75h1.5v9.67h-1.5zM12.25 444.75h1.5v14.33h-1.5zM14.25 444.75h1.5v19.00h-1.5zM88.25 444.75h1.5v0.83h-1.5zM90.25 444.75h1.5v1.57h-1.5zM92.25 444.75h1.5v2.71h-1.5zM94.25 444.75h1.5v3.86h-1.5zM96.25 444.75h1.5v5.00h-1.5zM98.25 444.75h1.5v6.14h-1.5zM100.25 444.75h1.5v7.29h-1.5zM102.25 444.75h1.5v8.43h-1.5zM104.25 444.75h1.5v9.57h-1.5zM106.25 444.75h1.5v10.71h-1.5zM132.25 444.75h1.5v0.80h-1.5zM134.25 444.75h1.5v1.60h-1.5zM136.25 444.75h1.5v3.75h-1.5zM138.25 444.75h1.5v7.25h-1.5zM140.25 444.75h1.5v7.50h-1.5zM158.25 444.75h1.5v2.00h-1.5zM160.25 444.75h1.5v3.14h-1.5zM162.25 444.75h1.5v4.29h-1.5zM164.25 444.75h1.5v5.43h-1.5zM166.25 444.75h1.5v5.50h-1.5zM170.25 444.75h1.5v4.50h-1.5zM172.25 444.75h1.5v5.40h-1.5zM174.25 444.75h1.5v6.20h-1.5zM176.25 444.75h1.5v7.00h-1.5zM186.25 444.75h1.5v1.29h-1.5zM188.25 444.75h1.5v1.57h-1.5zM190.25 444.75h1.5v1.86h-1.5zM192.25 444.75h1.5v2.83h-1.5zM194.25 444.75h1.5v4.50h-1.5zM196.25 444.75h1.5v6.17h-1.5zM220.25 444.75h1.5v2.00h-1.5zM222.25 444.75h1.5v3.50h-1.5zM224.25 444.75h1.5v4.50h-1.5zM226.25 444.75h1.5v5.50h-1.5zM228.25 444.75h1.5v6.14h-1.5zM230.25 444.75h1.5v6.43h-1.5zM232.25 444.75h1.5v6.71h-1.5zM234.25 444.75h1.5v7.00h-1.5zM284.25 444.75h1.5v3.05h-1.5zM286.25 444.75h1.5v5.16h-1.5zM288.25 444.75h1.5v7.26h-1.5zM290.25 444.75h1.5v9.37h-1.5zM292.25 444.75h1.5v11.47h-1.5zM306.25 444.75h1.5v0.83h-1.5zM346.25 444.75h1.5v3.00h-1.5zM348.25 444.75h1.5v5.40h-1.5zM350.25 444.75h1.5v7.80h-1.5zM352.25 444.75h1.5v9.17h-1.5zM354.25 444.75h1.5v9.50h-1.5zM356.25 444.75h1.5v9.83h-1.5zM418.25 444.75h1.5v3.00h-1.5zM420.25 444.75h1.5v5.00h-1.5zM422.25 444.75h1.5v7.00h-1.5zM424.25 444.75h1.5v9.00h-1.5zM426.25 444.75h1.5v11.00h-1.5zM428.25 444.75h1.5v12.71h-1.5zM430.25 444.75h1.5v14.14h-1.5zM432.25 444.75h1.5v15.57h-1.5zM434.25 444.75h1.5v17.00h-1.5zM470.25 444.75h1.5v3.88h-1.5zM472.25 444.75h1.5v5.62h-1.5zM474.25 444.75h1.5v7.38h-1.5zM476.25 444.75h1.5v9.12h-1.5zM478.25 444.75h1.5v10.89h-1.5zM480.25 444.75h1.5v12.67h-1.5zM482.25 444.75h1.5v14.44h-1.5zM484.25 444.75h1.5v15.69h-1.5zM560.25 444.75h1.5v4.20h-1.5zM562.25 444.75h1.5v6.60h-1.5zM564.25 444.75h1.5v9.00h-1.5zM572.25 444.75h1.5v8.25h-1.5zM574.25 444.75h1.5v8.75h-1.5zM576.25 444.75h1.5v9.25h-1.5zM578.25 444.75h1.5v9.75h-1.5zM590.25 444.75h1.5v7.29h-1.5zM592.25 444.75h1.5v8.14h-1.5zM594.25 444.75h1.5v9.00h-1.5zM670.25 444.75h1.5v2.62h-1.5zM672.25 444.75h1.5v3.88h-1.5zM674.25 444.75h1.5v5.12h-1.5zM676.25 444.75h1.5v6.38h-1.5zM678.25 444.75h1.5v7.17h-1.5zM680.25 444.75h1.5v7.50h-1.5zM682.25 444.75h1.5v7.83h-1.5zM684.25 444.75h1.5v8.17h-1.5zM686.25 444.75h1.5v8.50h-1.5zM688.25 444.75h1.5v8.83h-1.5zM706.25 444.75h1.5v0.83h-1.5zM754.25 444.75h1.5v1.00h-1.5zM756.25 444.75h1.5v1.80h-1.5zM758.25 444.75h1.5v2.60h-1.5zM760.25 444.75h1.5v3.67h-1.5zM762.25 444.75h1.5v5.00h-1.5zM764.25 444.75h1.5v6.33h-1.5zM766.25 444.75h1.5v6.60h-1.5zM776.25 444.75h1.5v4.20h-1.5zM778.25 444.75h1.5v6.60h-1.5zM780.25 444.75h1.5v9.00h-1.5z" fill="#ee5c5c"/>
<path d="M16.25 444.75h1.5v14.50h-1.5zM18.25 444.75h1.5v10.00h-1.5zM20.25 444.75h1.5v7.67h-1.5zM22.25 444.75h1.5v5.33h-1.5zM24.25 444.75h1.5v3.00h-1.5zM26.25 444.75h1.5v1.80h-1.5zM108.25 444.75h1.5v10.33h-1.5zM110.25 444.75h1.5v9.44h-1.5zM112.25 444.75h1.5v8.33h-1.5zM114.25 444.75h1.5v7.00h-1.5zM142.25 444.75h1.5v4.50h-1.5zM144.25 444.75h1.5v2.00h-1.5zM168.25 444.75h1.5v4.50h-1.5zM178.25 444.75h1.5v4.33h-1.5zM180.25 444.75h1.5v2.60h-1.5zM182.25 444.75h1.5v1.80h-1.5zM184.25 444.75h1.5v1.00h-1.5zM198.25 444.75h1.5v6.00h-1.5zM200.25 444.75h1.5v4.00h-1.5zM202.25 444.75h1.5v2.00h-1.5zM236.25 444.75h1.5v5.57h-1.5zM238.25 444.75h1.5v4.14h-1.5zM240.25 444.75h1.5v2.71h-1.5zM242.25 444.75h1.5v1.50h-1.5zM294.25 444.75h1.5v9.00h-1.5zM296.25 444.75h1.5v4.40h-1.5zM298.25 444.75h1.5v1.50h-1.5zM308.25 444.75h1.5v0.75h-1.5zM358.25 444.75h1.5v9.67h-1.5zM360.25 444.75h1.5v9.00h-1.5zM362.25 444.75h1.5v8.33h-1.5zM364.25 444.75h1.5v7.00h-1.5zM366.25 444.75h1.5v5.00h-1.5zM436.25 444.75h1.5v12.00h-1.5zM438.25 444.75h1.5v10.50h-1.5zM440.25 444.75h1.5v9.00h-1.5zM442.25 444.75h1.5v7.50h-1.5zM444.25 444.75h1.5v6.00h-1.5zM446.25 444.75h1.5v4.18h-1.5zM448.25 444.75h1.5v2.36h-1.5zM486.25 444.75h1.5v13.23h-1.5zM488.25 444.75h1.5v10.75h-1.5zM490.25 444.75h1.5v8.25h-1.5zM492.25 444.75h1.5v5.75h-1.5zM494.25 444.75h1.5v3.25h-1.5zM566.25 444.75h1.5v8.71h-1.5zM568.25 444.75h1.5v8.43h-1.5zM570.25 444.75h1.5v8.14h-1.5zM580.25 444.75h1.5v9.50h-1.5zM582.25 444.75h1.5v8.50h-1.5zM584.25 444.75h1.5v7.50h-1.5zM586.25 444.75h1.5v6.50h-1.5zM588.25 444.75h1.5v6.43h-1.5zM596.25 444.75h1.5v7.00h-1.5zM598.25 444.75h1.5v5.00h-1.5zM600.25 444.75h1.5v3.00h-1.5zM602.25 444.75h1.5v1.00h-1.5zM690.25 444.75h1.5v8.50h-1.5zM692.25 444.75h1.5v7.50h-1.5zM694.25 444.75h1.5v6.50h-1.5zM696.25 444.75h1.5v4.67h-1.5zM698.25 444.75h1.5v2.00h-1.5zM700.25 444.75h1.5v0.67h-1.5zM708.25 444.75h1.5v0.75h-1.5zM768.25 444.75h1.5v5.80h-1.5zM770.25 444.75h1.5v5.00h-1.5zM772.25 444.75h1.5v4.20h-1.5zM774.25 444.75h1.5v3.40h-1.5zM782.25 444.75h1.5v6.33h-1.5zM784.25 444.75h1.5v4.25h-1.5zM786.25 444.75h1.5v2.75h-1.5zM788.25 444.75h1.5v1.50h-1.5z" fill="#fbd0d2"/>
<path d="M37.5 490.0C39.2 476.2 39.7 466.5 42.5 448.5C45.3 430.5 41.0 443.5 46.0 436.0C51.0 428.5 50.3 430.7 57.5 426.0C64.7 421.3 60.0 427.3 67.5 422.0C75.0 416.7 70.8 413.3 80.0 410.0C89.2 406.7 87.1 407.5 95.0 412.0C102.9 416.5 97.5 413.8 103.8 423.5C110.0 433.2 107.5 441.0 113.8 441.0C120.0 441.0 117.1 432.2 122.5 423.5C127.9 414.8 125.0 415.0 130.0 415.0C135.0 415.0 133.3 417.3 137.5 423.5C141.7 429.7 139.2 429.3 142.5 433.5C145.8 437.7 143.3 437.7 147.5 436.0C151.7 434.3 150.0 429.3 155.0 428.5C160.0 427.7 156.7 426.8 162.5 433.5C168.3 440.2 166.7 441.4 172.5 448.5C178.3 455.6 174.2 453.1 180.0 454.8C185.8 456.4 184.2 451.1 190.0 453.5C195.8 455.9 193.2 457.0 197.5 462.0C201.8 467.0 199.7 470.5 203.0 468.5C206.3 466.5 204.3 468.5 207.5 456.0C210.7 443.5 209.2 441.0 212.5 431.0C215.8 421.0 214.7 425.2 217.5 426.0C220.3 426.8 217.5 425.6 221.0 433.5C224.5 441.4 223.2 443.1 228.0 449.8C232.8 456.4 231.3 449.4 235.5 453.5C239.7 457.6 237.2 461.2 240.5 462.0C243.8 462.8 241.3 463.0 245.5 456.0C249.7 449.0 248.0 448.5 253.0 441.0C258.0 433.5 255.5 437.7 260.5 433.5C265.5 429.3 263.8 431.8 268.0 428.5C272.2 425.2 270.0 426.3 273.0 423.5C276.0 420.7 274.0 419.6 277.0 420.0C280.0 420.4 278.8 419.4 282.0 424.8C285.2 430.1 283.5 428.1 286.8 436.0C290.0 443.9 288.4 442.7 291.8 448.5C295.1 454.3 293.0 452.7 296.8 453.5C300.5 454.3 298.4 451.5 303.0 451.0C307.6 450.5 305.9 453.7 310.5 452.0C315.1 450.3 313.0 452.2 316.8 446.0C320.5 439.8 318.0 440.6 321.8 433.5C325.5 426.4 322.6 431.9 328.0 424.8C333.4 417.6 331.3 412.4 338.0 412.0C344.7 411.6 343.0 416.3 348.0 423.5C353.0 430.7 348.8 428.1 353.0 433.5C357.2 438.9 355.9 435.6 360.5 439.8C365.1 443.9 363.4 446.0 366.8 446.0C370.1 446.0 366.8 442.8 370.5 439.8C374.2 436.8 372.6 438.7 378.0 437.0C383.4 435.3 381.8 437.6 386.8 434.8C391.8 431.9 389.2 432.2 393.0 428.5C396.8 424.8 391.7 431.3 398.0 423.5C404.3 415.7 402.4 405.0 412.0 405.0C421.6 405.0 420.6 413.2 426.8 423.5C432.9 433.8 427.6 426.8 430.5 436.0C433.4 445.2 432.2 443.1 435.5 451.0C438.8 458.9 437.8 456.1 440.5 459.8C443.2 463.4 441.0 464.1 443.5 462.0C446.0 459.9 444.8 459.7 448.0 453.5C451.2 447.3 450.3 446.8 453.0 443.5C455.7 440.2 453.3 445.7 456.0 443.5C458.7 441.3 458.1 439.9 461.0 437.0C463.9 434.1 461.8 432.6 464.8 434.8C467.7 436.9 466.0 437.2 469.8 443.5C473.5 449.8 472.2 446.0 476.0 453.5C479.8 461.0 477.7 457.7 481.0 466.0C484.3 474.3 482.3 472.2 486.0 478.5C489.7 484.8 487.8 485.6 492.0 484.8C496.2 483.9 493.8 484.8 498.5 476.0C503.2 467.2 500.2 468.5 506.0 458.5C511.8 448.5 509.8 451.8 516.0 446.0C522.2 440.2 518.1 442.7 524.8 441.0C531.4 439.3 529.8 439.3 536.0 441.0C542.2 442.7 537.2 445.7 543.5 446.0C549.8 446.3 548.9 440.0 554.8 442.0C560.6 444.0 556.9 447.3 561.0 452.0C565.1 456.7 562.8 452.7 567.0 456.0C571.2 459.3 568.8 456.2 573.5 462.0C578.2 467.8 576.5 467.2 581.0 473.5C585.5 479.8 583.3 479.3 587.0 481.0C590.7 482.7 588.2 476.2 592.0 478.5C595.8 480.8 594.8 483.2 598.5 488.0C602.2 492.8 600.2 493.0 603.0 493.0C605.8 493.0 604.0 493.7 607.0 488.0C610.0 482.3 608.2 482.5 612.0 476.0C615.8 469.5 613.5 469.8 618.5 468.5C623.5 467.2 622.0 472.0 627.0 472.0C632.0 472.0 629.2 475.5 633.5 468.5C637.8 461.5 635.6 461.0 639.8 451.0C643.9 441.0 641.9 446.5 646.0 438.5C650.1 430.5 648.7 432.0 652.0 427.0C655.3 422.0 651.3 428.5 656.0 423.5C660.7 418.5 659.3 412.0 666.0 412.0C672.7 412.0 670.0 414.7 676.0 423.5C682.0 432.3 679.7 429.3 684.0 438.5C688.3 447.7 685.3 444.3 689.0 451.0C692.7 457.7 691.7 454.5 695.0 458.5C698.3 462.5 695.2 461.8 699.0 463.0C702.8 464.2 702.3 462.0 706.5 462.0C710.7 462.0 708.2 464.7 711.5 463.0C714.8 461.3 712.3 461.8 716.5 457.0C720.7 452.2 719.0 453.8 724.0 448.5C729.0 443.2 726.9 445.6 731.5 441.0C736.1 436.4 733.6 437.9 737.8 434.8C741.9 431.6 739.9 432.6 744.0 431.5C748.1 430.4 745.8 429.2 750.0 431.5C754.2 433.8 752.7 433.7 756.5 438.5C760.3 443.3 757.8 440.6 761.5 446.0C765.2 451.4 763.6 448.1 767.8 454.8C771.9 461.4 769.9 459.8 774.0 466.0C778.1 472.2 775.8 469.2 780.0 473.5C784.2 477.8 783.2 476.9 786.5 479.0C789.8 481.1 788.8 479.5 790.0 479.8" fill="none" stroke="#4a9fe0" stroke-width="1.3" stroke-linejoin="round"/>
<path d="M42.5 490.0C45.0 476.2 44.2 466.5 50.0 448.5C55.8 430.5 52.5 444.3 60.0 436.0C67.5 427.7 62.5 431.5 72.5 423.5C82.5 415.5 78.3 412.0 90.0 412.0C101.7 412.0 100.0 416.8 107.5 423.5C115.0 430.2 109.2 428.2 112.5 432.0C115.8 435.8 112.5 437.6 117.5 434.8C122.5 431.9 122.0 429.1 127.5 423.5C133.0 417.9 129.5 418.0 134.0 418.0C138.5 418.0 135.7 419.6 141.0 423.5C146.3 427.4 143.7 428.1 150.0 429.8C156.3 431.4 153.3 425.6 160.0 428.5C166.7 431.4 163.3 432.7 170.0 438.5C176.7 444.3 173.3 441.5 180.0 446.0C186.7 450.5 183.3 447.0 190.0 452.0C196.7 457.0 195.0 457.2 200.0 461.0C205.0 464.8 201.7 466.8 205.0 463.5C208.3 460.2 206.7 460.2 210.0 451.0C213.3 441.8 211.3 443.1 215.0 436.0C218.7 428.9 216.7 426.4 221.0 429.8C225.3 433.1 223.2 439.3 228.0 446.0C232.8 452.7 230.5 446.8 235.5 449.8C240.5 452.7 238.0 454.8 243.0 454.8C248.0 454.8 245.5 454.0 250.5 449.8C255.5 445.5 253.0 447.0 258.0 442.0C263.0 437.0 260.5 439.2 265.5 434.8C270.5 430.2 268.8 431.8 273.0 428.5C277.2 425.2 275.0 426.2 278.0 424.8C281.0 423.2 278.7 422.3 282.0 424.0C285.3 425.7 284.0 424.1 288.0 429.8C292.0 435.4 289.8 435.2 294.0 441.0C298.2 446.8 295.8 444.1 300.5 447.0C305.2 449.9 303.0 448.8 308.0 449.8C313.0 450.7 310.5 451.8 315.5 449.8C320.5 447.7 318.5 448.9 323.0 443.5C327.5 438.1 324.8 439.8 329.0 433.5C333.2 427.2 330.8 430.6 335.5 424.8C340.2 418.9 337.6 416.4 343.0 416.0C348.4 415.6 346.8 418.2 351.8 423.5C356.8 428.8 353.9 427.0 358.0 432.0C362.1 437.0 360.3 435.5 364.0 438.5C367.7 441.5 364.3 441.0 369.0 441.0C373.7 441.0 371.7 440.2 378.0 438.5C384.3 436.8 382.2 438.5 388.0 436.0C393.8 433.5 390.5 435.0 395.5 431.0C400.5 427.0 395.8 431.7 403.0 424.0C410.2 416.3 407.4 408.2 417.0 408.0C426.6 407.8 425.2 413.8 431.8 423.5C438.3 433.2 433.4 429.2 436.8 437.0C440.1 444.8 438.0 441.5 441.8 447.0C445.5 452.5 444.2 452.6 448.0 453.5C451.8 454.4 450.3 451.4 453.0 449.8C455.7 448.1 452.5 451.4 456.0 448.5C459.5 445.6 459.3 443.5 463.5 441.0C467.7 438.5 464.3 437.7 468.5 441.0C472.7 444.3 471.0 443.5 476.0 451.0C481.0 458.5 478.5 456.0 483.5 463.5C488.5 471.0 486.5 469.0 491.0 473.5C495.5 478.0 492.4 477.8 497.0 477.0C501.6 476.2 499.2 478.0 504.8 471.0C510.2 464.0 507.2 464.3 513.5 456.0C519.8 447.7 516.8 450.7 523.5 446.0C530.2 441.3 526.0 442.0 533.5 442.0C541.0 442.0 538.5 445.5 546.0 446.0C553.5 446.5 550.2 442.7 556.0 443.5C561.8 444.3 557.7 444.3 563.5 448.5C569.3 452.7 566.8 450.2 573.5 456.0C580.2 461.8 576.8 459.3 583.5 466.0C590.2 472.7 586.8 469.8 593.5 476.0C600.2 482.2 598.7 481.1 603.5 484.8C608.3 488.4 604.7 488.2 608.0 487.0C611.3 485.8 609.2 485.5 613.5 481.0C617.8 476.5 615.2 476.5 621.0 473.5C626.8 470.5 625.2 475.3 631.0 472.0C636.8 468.7 633.5 471.3 638.5 463.5C643.5 455.7 641.0 457.7 646.0 448.5C651.0 439.3 648.5 443.9 653.5 436.0C658.5 428.1 656.8 430.8 661.0 424.8C665.2 418.8 662.7 418.4 666.0 418.0C669.3 417.6 666.8 419.2 671.0 423.5C675.2 427.8 674.2 428.2 678.5 431.0C682.8 433.8 680.5 428.7 684.0 432.0C687.5 435.3 685.3 434.7 689.0 441.0C692.7 447.3 690.4 445.7 695.0 451.0C699.6 456.3 697.8 453.7 702.8 457.0C707.8 460.3 705.0 461.0 710.0 461.0C715.0 461.0 712.8 460.8 717.8 457.0C722.8 453.2 719.6 454.8 725.0 449.8C730.4 444.8 728.1 446.2 734.0 442.0C739.9 437.8 736.9 439.7 742.8 437.0C748.6 434.3 746.5 434.8 751.5 434.0C756.5 433.2 753.6 432.8 757.8 434.8C761.9 436.7 759.9 435.2 764.0 439.8C768.1 444.3 765.4 441.8 770.0 448.5C774.6 455.2 773.1 453.1 777.8 459.8C782.4 466.4 779.9 463.5 784.0 468.5C788.1 473.5 788.0 472.7 790.0 474.8" fill="none" stroke="#f0913a" stroke-width="1.3" stroke-linejoin="round"/>
</g>
<text x="15" y="17.2" font-size="10.2" fill="#2a2e39" textLength="73.75" lengthAdjust="spacingAndGlyphs">EUR/USD Spot, 4h</text>
<text x="93.75" y="17.2" font-size="10.2" fill="#2a2e39" textLength="6.2" lengthAdjust="spacingAndGlyphs">O</text>
<text x="100" y="17.2" font-size="10.2" fill="#22a08c" textLength="31.2" lengthAdjust="spacingAndGlyphs">1.15339</text>
<text x="137" y="17.2" font-size="10.2" fill="#2a2e39" textLength="5.4" lengthAdjust="spacingAndGlyphs">H</text>
<text x="142.5" y="17.2" font-size="10.2" fill="#22a08c" textLength="30.6" lengthAdjust="spacingAndGlyphs">1.15413</text>
<text x="178.75" y="17.2" font-size="10.2" fill="#2a2e39" textLength="4.4" lengthAdjust="spacingAndGlyphs">L</text>
<text x="183.75" y="17.2" font-size="10.2" fill="#22a08c" textLength="30.8" lengthAdjust="spacingAndGlyphs">1.15320</text>
<text x="220" y="17.2" font-size="10.2" fill="#2a2e39" textLength="5.8" lengthAdjust="spacingAndGlyphs">C</text>
<text x="226.3" y="17.2" font-size="10.2" fill="#22a08c" textLength="31.2" lengthAdjust="spacingAndGlyphs">1.15358</text>
<text x="263" y="17.2" font-size="10.2" fill="#22a08c" textLength="39.5" lengthAdjust="spacingAndGlyphs">+0.00020</text>
<text x="306" y="17.2" font-size="10.2" fill="#22a08c" textLength="36.5" lengthAdjust="spacingAndGlyphs">(+0.02%)</text>
<text x="14" y="392.4" font-size="10" fill="#2a2e39" textLength="31" lengthAdjust="spacingAndGlyphs">RSI (14)</text>
<text x="52" y="392.4" font-size="10" fill="#9b59d0" textLength="20.5" lengthAdjust="spacingAndGlyphs">34.10</text>
<text x="14" y="441.1" font-size="10" fill="#2a2e39" textLength="95.5" lengthAdjust="spacingAndGlyphs">MACD (12, 26, close, 9)</text>
<text x="120" y="441.1" font-size="10" fill="#f7cfd2" textLength="35" lengthAdjust="spacingAndGlyphs">−0.00043</text>
<text x="160" y="441.1" font-size="10" fill="#3d9be6" textLength="40" lengthAdjust="spacingAndGlyphs">−0.00258</text>
<text x="207" y="441.1" font-size="10" fill="#f0913a" textLength="36.5" lengthAdjust="spacingAndGlyphs">−0.00215</text>
<text x="874" y="36.65" fill="#33363f" font-size="10.2" textLength="34.0" lengthAdjust="spacingAndGlyphs">1.18000</text>
<text x="874" y="71.40" fill="#33363f" font-size="10.2" textLength="34.0" lengthAdjust="spacingAndGlyphs">1.17500</text>
<text x="874" y="106.15" fill="#33363f" font-size="10.2" textLength="34.0" lengthAdjust="spacingAndGlyphs">1.17000</text>
<text x="874" y="140.90" fill="#33363f" font-size="10.2" textLength="34.0" lengthAdjust="spacingAndGlyphs">1.16500</text>
<text x="874" y="175.65" fill="#33363f" font-size="10.2" textLength="34.0" lengthAdjust="spacingAndGlyphs">1.16000</text>
<text x="874" y="210.40" fill="#33363f" font-size="10.2" textLength="34.0" lengthAdjust="spacingAndGlyphs">1.15500</text>
<text x="874" y="245.15" fill="#33363f" font-size="10.2" textLength="34.0" lengthAdjust="spacingAndGlyphs">1.15000</text>
<text x="874" y="279.90" fill="#33363f" font-size="10.2" textLength="34.0" lengthAdjust="spacingAndGlyphs">1.14500</text>
<text x="874" y="314.65" fill="#33363f" font-size="10.2" textLength="34.0" lengthAdjust="spacingAndGlyphs">1.14000</text>
<text x="874" y="349.40" fill="#33363f" font-size="10.2" textLength="34.0" lengthAdjust="spacingAndGlyphs">1.13500</text>
<text x="874" y="411.45" fill="#33363f" font-size="10.2" textLength="23.6" lengthAdjust="spacingAndGlyphs">40.00</text>
<text x="874" y="447.95" fill="#33363f" font-size="10.2" textLength="34.0" lengthAdjust="spacingAndGlyphs">0.00000</text>
<rect x="867.3" y="13" width="43.700000000000045" height="13.5" rx="2" fill="#e8283c"/>
<text x="874" y="23.25" fill="#fff" font-size="10.2" textLength="34.0" lengthAdjust="spacingAndGlyphs">1.18195</text>
<rect x="867.3" y="42.5" width="43.700000000000045" height="13.5" rx="2" fill="#e8283c"/>
<text x="874" y="52.75" fill="#fff" font-size="10.2" textLength="34.0" lengthAdjust="spacingAndGlyphs">1.17770</text>
<rect x="867.3" y="74.8" width="43.700000000000045" height="13.5" rx="2" fill="#e8283c"/>
<text x="874" y="85.15" fill="#fff" font-size="10.2" textLength="34.0" lengthAdjust="spacingAndGlyphs">1.17302</text>
<rect x="867.3" y="117.2" width="43.700000000000045" height="13.499999999999986" rx="2" fill="#e8283c"/>
<text x="874" y="127.55" fill="#fff" font-size="10.2" textLength="34.0" lengthAdjust="spacingAndGlyphs">1.16691</text>
<rect x="867.3" y="141" width="43.700000000000045" height="13.5" rx="2" fill="#e8283c"/>
<text x="874" y="151.35" fill="#fff" font-size="10.2" textLength="34.0" lengthAdjust="spacingAndGlyphs">1.16350</text>
<rect x="867.3" y="179.8" width="43.700000000000045" height="13.5" rx="2" fill="#e8283c"/>
<text x="874" y="190.15" fill="#fff" font-size="10.2" textLength="34.0" lengthAdjust="spacingAndGlyphs">1.15797</text>
<rect x="867.3" y="209.3" width="43.700000000000045" height="29.0" rx="2" fill="#1f9c84"/>
<text x="874" y="219.95" fill="#fff" font-size="10.2" textLength="34.0" lengthAdjust="spacingAndGlyphs">1.15358</text>
<text x="874" y="234.25" fill="#fff" font-size="10.2" textLength="34.0" lengthAdjust="spacingAndGlyphs">1.15309</text>
<rect x="867.3" y="407" width="33.7" height="13.8" rx="2" fill="#9b55cf"/>
<text x="873.2" y="417.55" fill="#fff" font-size="10.2" textLength="23.6" lengthAdjust="spacingAndGlyphs">34.10</text>
<rect x="867.3" y="444" width="48.700000000000045" height="13.300000000000011" rx="2" fill="#f8cdd0"/>
<text x="874" y="454.35" fill="#33363f" font-size="10.2" textLength="39.5" lengthAdjust="spacingAndGlyphs">−0.00045</text>
<rect x="867.3" y="466" width="48.700000000000045" height="14.600000000000023" rx="2" fill="#f57c0b"/>
<text x="874" y="476.95" fill="#fff" font-size="10.2" textLength="39.5" lengthAdjust="spacingAndGlyphs">−0.00215</text>
<rect x="867.3" y="481.6" width="48.700000000000045" height="14.399999999999977" rx="2" fill="#2f9bf0"/>
<text x="874" y="493.25" fill="#fff" font-size="10.2" textLength="39.5" lengthAdjust="spacingAndGlyphs">−0.00258</text>
<rect x="0" y="489.5" width="912" height="23.5" fill="#ffffff"/>
<text x="29" y="505" fill="#23262f" font-size="10" text-anchor="middle" font-weight="bold" >Aug</text>
<text x="98" y="505" fill="#3c3f48" font-size="10" text-anchor="middle" font-weight="normal" >10</text>
<text x="157" y="505" fill="#3c3f48" font-size="10" text-anchor="middle" font-weight="normal" >18</text>
<text x="271.5" y="505" fill="#23262f" font-size="10" text-anchor="middle" font-weight="bold" >Sep</text>
<text x="340" y="505" fill="#3c3f48" font-size="10" text-anchor="middle" font-weight="normal" >9</text>
<text x="409" y="505" fill="#3c3f48" font-size="10" text-anchor="middle" font-weight="normal" >17</text>
<text x="523.5" y="505" fill="#23262f" font-size="10" text-anchor="middle" font-weight="bold" >Oct</text>
<text x="591" y="505" fill="#3c3f48" font-size="10" text-anchor="middle" font-weight="normal" >9</text>
<text x="659.5" y="505" fill="#3c3f48" font-size="10" text-anchor="middle" font-weight="normal" >17</text>
<text x="723.5" y="505" fill="#3c3f48" font-size="10" text-anchor="middle" font-weight="normal" >12:00</text>
<text x="786" y="505" fill="#23262f" font-size="10" text-anchor="middle" font-weight="bold" >Nov</text>
<text x="854.5" y="505" fill="#3c3f48" font-size="10" text-anchor="middle" font-weight="normal" >9</text>
</svg>
</body></html>
